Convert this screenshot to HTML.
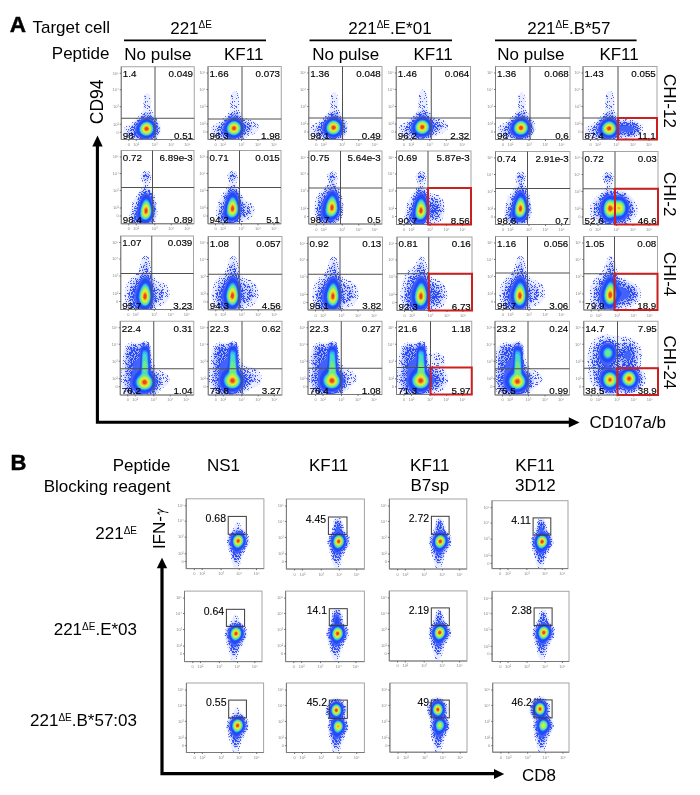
<!DOCTYPE html><html><head><meta charset="utf-8"><style>html,body{margin:0;padding:0;background:#fff;}svg{display:block;}</style></head><body>
<svg width="700" height="795" viewBox="0 0 700 795" font-family='"Liberation Sans", Arial, Helvetica, sans-serif' fill="#000">
<defs><filter id="bl" x="-5%" y="-5%" width="110%" height="110%"><feGaussianBlur stdDeviation="0.55"/></filter><filter id="bl2" x="-5%" y="-5%" width="110%" height="110%"><feGaussianBlur stdDeviation="0.72"/></filter><pattern id="p1" width="23" height="19" patternUnits="userSpaceOnUse"><rect width="23" height="19" fill="#eaedff"/><path d="M11 2h1.0v1.0h-1.0zM1 16h1.0v1.0h-1.0zM6 8h1.0v1.0h-1.0zM11 16h1.0v1.0h-1.0zM10 14h1.0v1.0h-1.0zM11 6h1.0v1.0h-1.0zM8 3h1.0v1.0h-1.0zM21 12h1.0v1.0h-1.0zM1 17h1.0v1.0h-1.0zM22 18h1.0v1.0h-1.0zM7 12h1.0v1.0h-1.0zM13 7h1.0v1.0h-1.0zM8 0h1.0v1.0h-1.0zM3 1h1.0v1.0h-1.0zM20 18h1.0v1.0h-1.0zM3 4h1.0v1.0h-1.0zM1 3h1.0v1.0h-1.0zM18 0h1.0v1.0h-1.0zM15 5h1.0v1.0h-1.0zM15 17h1.0v1.0h-1.0zM21 11h1.0v1.0h-1.0zM11 4h1.0v1.0h-1.0zM17 16h1.0v1.0h-1.0zM5 2h1.0v1.0h-1.0zM19 15h1.0v1.0h-1.0zM6 10h1.0v1.0h-1.0zM7 16h1.0v1.0h-1.0zM8 8h1.0v1.0h-1.0zM7 6h1.0v1.0h-1.0zM5 3h1.0v1.0h-1.0zM0 11h1.0v1.0h-1.0zM15 14h1.0v1.0h-1.0zM17 6h1.0v1.0h-1.0zM17 0h1.0v1.0h-1.0zM12 15h1.0v1.0h-1.0zM19 13h1.0v1.0h-1.0zM20 15h1.0v1.0h-1.0zM11 18h1.0v1.0h-1.0zM16 11h1.0v1.0h-1.0zM16 0h1.0v1.0h-1.0zM17 10h1.0v1.0h-1.0zM0 2h1.0v1.0h-1.0zM13 4h1.0v1.0h-1.0zM3 16h1.0v1.0h-1.0zM17 12h1.0v1.0h-1.0zM18 6h1.0v1.0h-1.0zM22 3h1.0v1.0h-1.0zM18 4h1.0v1.0h-1.0zM1 1h1.0v1.0h-1.0zM5 13h1.0v1.0h-1.0zM7 0h1.0v1.0h-1.0zM1 13h1.0v1.0h-1.0zM10 9h1.0v1.0h-1.0zM0 10h1.0v1.0h-1.0zM19 4h1.0v1.0h-1.0zM11 14h1.0v1.0h-1.0zM10 7h1.0v1.0h-1.0zM19 6h1.0v1.0h-1.0zM20 9h1.0v1.0h-1.0zM0 0h1.0v1.0h-1.0zM17 18h1.0v1.0h-1.0zM15 4h1.0v1.0h-1.0zM11 9h1.0v1.0h-1.0zM20 0h1.0v1.0h-1.0zM5 6h1.0v1.0h-1.0zM19 16h1.0v1.0h-1.0zM1 11h1.0v1.0h-1.0zM15 8h1.0v1.0h-1.0zM4 2h1.0v1.0h-1.0z" fill="#4660ff"/></pattern><pattern id="p2" width="19" height="17" patternUnits="userSpaceOnUse"><rect width="19" height="17" fill="#c8d0ff"/><path d="M10 2h1.0v1.0h-1.0zM10 0h1.0v1.0h-1.0zM0 2h1.0v1.0h-1.0zM11 12h1.0v1.0h-1.0zM14 5h1.0v1.0h-1.0zM12 10h1.0v1.0h-1.0zM18 15h1.0v1.0h-1.0zM10 3h1.0v1.0h-1.0zM13 6h1.0v1.0h-1.0zM8 16h1.0v1.0h-1.0zM16 12h1.0v1.0h-1.0zM8 7h1.0v1.0h-1.0zM1 16h1.0v1.0h-1.0zM4 13h1.0v1.0h-1.0zM13 2h1.0v1.0h-1.0zM4 8h1.0v1.0h-1.0zM14 13h1.0v1.0h-1.0zM4 2h1.0v1.0h-1.0zM2 5h1.0v1.0h-1.0zM3 5h1.0v1.0h-1.0zM11 0h1.0v1.0h-1.0zM13 3h1.0v1.0h-1.0zM2 14h1.0v1.0h-1.0zM1 9h1.0v1.0h-1.0zM14 10h1.0v1.0h-1.0zM5 5h1.0v1.0h-1.0zM11 7h1.0v1.0h-1.0zM7 9h1.0v1.0h-1.0zM5 7h1.0v1.0h-1.0zM4 3h1.0v1.0h-1.0zM11 9h1.0v1.0h-1.0zM1 0h1.0v1.0h-1.0zM2 7h1.0v1.0h-1.0zM16 13h1.0v1.0h-1.0zM1 14h1.0v1.0h-1.0zM0 13h1.0v1.0h-1.0zM13 1h1.0v1.0h-1.0zM5 12h1.0v1.0h-1.0zM4 9h1.0v1.0h-1.0zM3 14h1.0v1.0h-1.0zM2 16h1.0v1.0h-1.0zM16 6h1.0v1.0h-1.0zM18 5h1.0v1.0h-1.0zM17 9h1.0v1.0h-1.0zM13 13h1.0v1.0h-1.0zM4 14h1.0v1.0h-1.0zM8 10h1.0v1.0h-1.0zM17 11h1.0v1.0h-1.0zM10 10h1.0v1.0h-1.0zM8 3h1.0v1.0h-1.0zM9 11h1.0v1.0h-1.0zM3 6h1.0v1.0h-1.0zM7 13h1.0v1.0h-1.0zM3 12h1.0v1.0h-1.0zM9 8h1.0v1.0h-1.0zM7 11h1.0v1.0h-1.0zM16 11h1.0v1.0h-1.0zM5 8h1.0v1.0h-1.0zM7 2h1.0v1.0h-1.0zM15 2h1.0v1.0h-1.0zM10 13h1.0v1.0h-1.0zM11 16h1.0v1.0h-1.0zM13 16h1.0v1.0h-1.0zM12 12h1.0v1.0h-1.0zM5 16h1.0v1.0h-1.0zM6 9h1.0v1.0h-1.0zM10 12h1.0v1.0h-1.0zM3 16h1.0v1.0h-1.0zM17 3h1.0v1.0h-1.0zM16 3h1.0v1.0h-1.0zM3 4h1.0v1.0h-1.0zM11 10h1.0v1.0h-1.0zM14 9h1.0v1.0h-1.0zM12 2h1.0v1.0h-1.0zM3 0h1.0v1.0h-1.0zM11 3h1.0v1.0h-1.0zM1 7h1.0v1.0h-1.0zM17 13h1.0v1.0h-1.0zM2 11h1.0v1.0h-1.0zM16 8h1.0v1.0h-1.0zM17 14h1.0v1.0h-1.0zM13 7h1.0v1.0h-1.0zM11 6h1.0v1.0h-1.0zM3 8h1.0v1.0h-1.0zM13 5h1.0v1.0h-1.0zM3 9h1.0v1.0h-1.0zM10 15h1.0v1.0h-1.0zM9 7h1.0v1.0h-1.0zM6 16h1.0v1.0h-1.0zM18 11h1.0v1.0h-1.0zM8 1h1.0v1.0h-1.0zM1 6h1.0v1.0h-1.0zM17 0h1.0v1.0h-1.0zM3 3h1.0v1.0h-1.0zM16 14h1.0v1.0h-1.0zM2 10h1.0v1.0h-1.0zM6 1h1.0v1.0h-1.0zM1 12h1.0v1.0h-1.0zM17 15h1.0v1.0h-1.0zM11 5h1.0v1.0h-1.0zM6 8h1.0v1.0h-1.0zM15 7h1.0v1.0h-1.0zM7 1h1.0v1.0h-1.0zM6 3h1.0v1.0h-1.0zM9 13h1.0v1.0h-1.0zM12 6h1.0v1.0h-1.0zM12 0h1.0v1.0h-1.0zM3 11h1.0v1.0h-1.0zM9 5h1.0v1.0h-1.0zM16 5h1.0v1.0h-1.0zM4 5h1.0v1.0h-1.0zM1 3h1.0v1.0h-1.0zM7 15h1.0v1.0h-1.0zM18 16h1.0v1.0h-1.0zM0 12h1.0v1.0h-1.0zM8 6h1.0v1.0h-1.0zM10 9h1.0v1.0h-1.0zM13 9h1.0v1.0h-1.0zM18 2h1.0v1.0h-1.0zM9 6h1.0v1.0h-1.0zM7 16h1.0v1.0h-1.0zM8 0h1.0v1.0h-1.0zM8 9h1.0v1.0h-1.0zM1 10h1.0v1.0h-1.0zM15 1h1.0v1.0h-1.0zM15 8h1.0v1.0h-1.0zM17 6h1.0v1.0h-1.0zM14 7h1.0v1.0h-1.0zM16 10h1.0v1.0h-1.0z" fill="#3350ff"/></pattern><pattern id="p3" width="17" height="13" patternUnits="userSpaceOnUse"><rect width="17" height="13" fill="#a0adff"/><path d="M6 1h1.0v1.0h-1.0zM14 12h1.0v1.0h-1.0zM10 6h1.0v1.0h-1.0zM0 6h1.0v1.0h-1.0zM3 7h1.0v1.0h-1.0zM13 7h1.0v1.0h-1.0zM2 12h1.0v1.0h-1.0zM10 12h1.0v1.0h-1.0zM6 3h1.0v1.0h-1.0zM10 2h1.0v1.0h-1.0zM1 2h1.0v1.0h-1.0zM5 8h1.0v1.0h-1.0zM13 1h1.0v1.0h-1.0zM15 9h1.0v1.0h-1.0zM12 12h1.0v1.0h-1.0zM2 7h1.0v1.0h-1.0zM4 2h1.0v1.0h-1.0zM12 4h1.0v1.0h-1.0zM5 12h1.0v1.0h-1.0zM15 1h1.0v1.0h-1.0zM6 5h1.0v1.0h-1.0zM9 6h1.0v1.0h-1.0zM10 7h1.0v1.0h-1.0zM7 4h1.0v1.0h-1.0zM6 7h1.0v1.0h-1.0zM6 10h1.0v1.0h-1.0zM13 0h1.0v1.0h-1.0zM13 2h1.0v1.0h-1.0zM3 8h1.0v1.0h-1.0zM12 3h1.0v1.0h-1.0zM5 3h1.0v1.0h-1.0zM13 9h1.0v1.0h-1.0zM5 9h1.0v1.0h-1.0zM13 8h1.0v1.0h-1.0zM2 11h1.0v1.0h-1.0zM15 11h1.0v1.0h-1.0zM6 9h1.0v1.0h-1.0zM16 11h1.0v1.0h-1.0zM15 10h1.0v1.0h-1.0zM15 5h1.0v1.0h-1.0zM7 0h1.0v1.0h-1.0zM4 6h1.0v1.0h-1.0zM2 3h1.0v1.0h-1.0zM9 11h1.0v1.0h-1.0zM2 0h1.0v1.0h-1.0zM15 6h1.0v1.0h-1.0zM1 0h1.0v1.0h-1.0zM10 10h1.0v1.0h-1.0zM0 0h1.0v1.0h-1.0zM14 3h1.0v1.0h-1.0zM1 11h1.0v1.0h-1.0zM16 9h1.0v1.0h-1.0zM7 2h1.0v1.0h-1.0zM2 2h1.0v1.0h-1.0zM3 1h1.0v1.0h-1.0zM3 4h1.0v1.0h-1.0zM7 5h1.0v1.0h-1.0zM2 8h1.0v1.0h-1.0zM3 2h1.0v1.0h-1.0zM16 5h1.0v1.0h-1.0zM16 8h1.0v1.0h-1.0zM5 7h1.0v1.0h-1.0zM15 0h1.0v1.0h-1.0zM12 9h1.0v1.0h-1.0zM13 6h1.0v1.0h-1.0zM8 9h1.0v1.0h-1.0zM14 4h1.0v1.0h-1.0zM3 10h1.0v1.0h-1.0zM16 6h1.0v1.0h-1.0zM11 2h1.0v1.0h-1.0zM9 7h1.0v1.0h-1.0zM11 1h1.0v1.0h-1.0zM2 4h1.0v1.0h-1.0zM11 0h1.0v1.0h-1.0zM4 12h1.0v1.0h-1.0zM0 10h1.0v1.0h-1.0zM5 6h1.0v1.0h-1.0zM3 5h1.0v1.0h-1.0zM10 8h1.0v1.0h-1.0zM5 1h1.0v1.0h-1.0zM0 1h1.0v1.0h-1.0zM8 4h1.0v1.0h-1.0zM7 3h1.0v1.0h-1.0zM1 9h1.0v1.0h-1.0zM8 2h1.0v1.0h-1.0zM0 2h1.0v1.0h-1.0zM0 3h1.0v1.0h-1.0zM12 11h1.0v1.0h-1.0zM4 3h1.0v1.0h-1.0zM8 7h1.0v1.0h-1.0zM4 8h1.0v1.0h-1.0zM14 2h1.0v1.0h-1.0zM14 7h1.0v1.0h-1.0zM16 3h1.0v1.0h-1.0zM11 6h1.0v1.0h-1.0zM1 8h1.0v1.0h-1.0zM10 5h1.0v1.0h-1.0zM12 5h1.0v1.0h-1.0zM2 9h1.0v1.0h-1.0zM0 8h1.0v1.0h-1.0zM4 7h1.0v1.0h-1.0zM9 1h1.0v1.0h-1.0zM6 11h1.0v1.0h-1.0zM2 6h1.0v1.0h-1.0zM11 8h1.0v1.0h-1.0zM15 12h1.0v1.0h-1.0zM15 4h1.0v1.0h-1.0zM10 0h1.0v1.0h-1.0zM3 9h1.0v1.0h-1.0zM4 5h1.0v1.0h-1.0zM7 10h1.0v1.0h-1.0zM11 3h1.0v1.0h-1.0zM0 12h1.0v1.0h-1.0zM8 0h1.0v1.0h-1.0zM14 1h1.0v1.0h-1.0zM5 5h1.0v1.0h-1.0zM12 8h1.0v1.0h-1.0zM16 2h1.0v1.0h-1.0zM7 9h1.0v1.0h-1.0zM7 7h1.0v1.0h-1.0zM11 11h1.0v1.0h-1.0zM1 7h1.0v1.0h-1.0zM11 5h1.0v1.0h-1.0zM6 4h1.0v1.0h-1.0zM13 3h1.0v1.0h-1.0zM14 11h1.0v1.0h-1.0zM16 7h1.0v1.0h-1.0zM9 5h1.0v1.0h-1.0zM11 4h1.0v1.0h-1.0zM1 5h1.0v1.0h-1.0zM13 10h1.0v1.0h-1.0zM11 12h1.0v1.0h-1.0z" fill="#2c4cf4"/></pattern></defs>
<rect width="700" height="795" fill="#fff"/>
<text x="9.8" y="31.7" font-size="22.5" font-weight="bold" stroke="#000" stroke-width="0.45">A</text>
<text x="32.5" y="33.3" font-size="17">Target cell</text>
<text x="109.5" y="58.8" font-size="17" text-anchor="end">Peptide</text>
<text x="170.20" y="33.60" font-size="17.0" text-anchor="start">221<tspan font-size="10" dy="-5.1">ΔE</tspan><tspan dy="5.1"></tspan></text>
<text x="348.30" y="33.60" font-size="17.0" text-anchor="start">221<tspan font-size="10" dy="-5.1">ΔE</tspan><tspan dy="5.1">.E*01</tspan></text>
<text x="527.20" y="33.60" font-size="17.0" text-anchor="start">221<tspan font-size="10" dy="-5.1">ΔE</tspan><tspan dy="5.1">.B*57</tspan></text>
<line x1="124.0" y1="40.4" x2="266.0" y2="40.4" stroke="#000" stroke-width="1.8"/>
<line x1="309.5" y1="40.4" x2="452.0" y2="40.4" stroke="#000" stroke-width="1.8"/>
<line x1="495.0" y1="40.4" x2="636.6" y2="40.4" stroke="#000" stroke-width="1.8"/>
<text x="124.3" y="59.6" font-size="17">No pulse</text>
<text x="312.2" y="59.6" font-size="17">No pulse</text>
<text x="497.3" y="59.6" font-size="17">No pulse</text>
<text x="224.0" y="59.6" font-size="17">KF11</text>
<text x="413.4" y="59.6" font-size="17">KF11</text>
<text x="599.4" y="59.6" font-size="17">KF11</text>
<text transform="translate(102.6 101.8) rotate(-90)" font-size="17.5" text-anchor="middle">CD94</text>
<path d="M97.4 146 L97.4 422.2 L570 422.2" fill="none" stroke="#000" stroke-width="3.1"/>
<path d="M97.5 135.6 L92.3 146.5 L102.7 146.5Z"/>
<path d="M579.6 422.4 L568.8 417.2 L568.8 427.6Z"/>
<text x="589.5" y="428.4" font-size="17">CD107a/b</text>
<text transform="translate(663.8 101.0) rotate(90)" font-size="17" text-anchor="middle">CHI-12</text>
<text transform="translate(663.8 194.2) rotate(90)" font-size="17" text-anchor="middle">CHI-2</text>
<text transform="translate(663.8 274.1) rotate(90)" font-size="17" text-anchor="middle">CHI-4</text>
<text transform="translate(663.8 362.4) rotate(90)" font-size="17" text-anchor="middle">CHI-24</text>
<text x="10.4" y="470.4" font-size="22" font-weight="bold" stroke="#000" stroke-width="0.45">B</text>
<text x="170.4" y="470.6" font-size="17" text-anchor="end">Peptide</text>
<text x="170.4" y="491.6" font-size="17" text-anchor="end">Blocking reagent</text>
<text x="223.5" y="470.6" font-size="17" text-anchor="middle">NS1</text>
<text x="328.6" y="470.6" font-size="17" text-anchor="middle">KF11</text>
<text x="429.8" y="470.6" font-size="17" text-anchor="middle">KF11</text>
<text x="535.0" y="470.6" font-size="17" text-anchor="middle">KF11</text>
<text x="429.8" y="491.4" font-size="17" text-anchor="middle">B7sp</text>
<text x="535.3" y="491.4" font-size="17" text-anchor="middle">3D12</text>
<text x="137.00" y="539.00" font-size="17.0" text-anchor="end">221<tspan font-size="10" dy="-5.1">ΔE</tspan></text>
<text x="137" y="635" font-size="17" text-anchor="end">221<tspan font-size="10" dy="-5.1">ΔE</tspan><tspan dy="5.1">.E*03</tspan></text>
<text x="137" y="725.8" font-size="17" text-anchor="end">221<tspan font-size="10" dy="-5.1">ΔE</tspan><tspan dy="5.1">.B*57:03</tspan></text>
<text transform="translate(164.5 549.1) rotate(-90)" font-size="17">IFN-</text>
<text transform="translate(167 511.8) rotate(-90) scale(0.66 1.12)" font-size="16" font-family="IPAGothic, Liberation Serif, serif" text-anchor="middle">γ</text>
<path d="M162 567 L162 773.7 L495 773.7" fill="none" stroke="#000" stroke-width="3.2"/>
<path d="M162 557.8 L156.8 568.2 L167.2 568.2Z"/>
<path d="M504.2 774 L494 768.9 L494 779.1Z"/>
<text x="522" y="780.7" font-size="17">CD8</text>
<g transform="translate(121.25 66.75)">
<clipPath id="c1"><rect x="0" y="0" width="73.00" height="72.75"/></clipPath>
<g clip-path="url(#c1)">
<g transform="translate(-0.25 -0.75)">
<g filter="url(#bl2)">
<path d="M26.8 77.6L24.1 77.6L21.1 77.1L7.1 72.5L4.9 71.2L3.2 69.6L2.2 67.9L1.8 65.9L2.2 63.6L3.8 61.2L5.4 59.9L9.8 57.4L11.8 55.9L18.8 49L21.2 45.6L22.3 43.6L22.8 41.9L22.3 35.6L22.9 31.2L24.3 28.2L25.1 27.4L26.1 27L27.1 27.2L28.1 28L29 29.6L29.7 31.6L30.2 35.2L29.7 41.2L30 43.2L33 48.6L36.7 53.2L38.2 55.6L39.5 58.9L40 62.6L39.7 65.6L39 68.2L37.6 70.9L36.1 72.9L34.1 74.8L32.1 76.1L29.4 77.1L26.8 77.6Z" fill="url(#p1)" fill-rule="evenodd"/>
<path d="M27.1 75.9L24.8 76L22.1 75.6L16.4 73.5L9.4 69.2L7.8 67.6L7.3 65.9L7.5 64.6L8.4 62.9L16 53.9L23.4 47L24.8 46.2L26.1 45.9L27.4 46.1L29.1 47.1L35.5 54.2L37.5 57.9L38.4 62.2L38.2 64.9L37.7 67.2L35.4 71.3L33.8 73L31.8 74.4L29.4 75.4L27.1 75.9Z" fill="url(#p2)" fill-rule="evenodd"/>
<path d="M25.8 74.6L23.4 74.4L21.1 73.9L16.4 71.5L13 68.2L12.2 66.6L11.9 64.9L12.2 62.9L13.2 60.6L16.5 55.6L18.8 53.3L23.1 50L24.8 49L26.1 48.7L27.4 48.9L29.1 49.9L34.5 55.2L36.3 58.6L37 62.9L36.8 64.9L36.2 67.2L35.1 69.2L33.8 71L32.1 72.5L30.1 73.6L27.8 74.4L25.8 74.6Z" fill="url(#p3)" fill-rule="evenodd"/>
</g><g filter="url(#bl)">
<path d="M26.4 73.3L24.4 73.3L22.1 72.8L18.1 70.9L15.2 67.9L14.3 65.9L14.1 64.2L14.4 62.2L15.2 59.9L17.9 55.9L19.8 54.1L22.4 52.3L24.4 51.4L26.1 51.1L27.4 51.3L29.1 52.1L33.1 55.6L35.1 58.9L35.8 62.6L35.2 66.2L34.3 68.2L33.1 69.9L30.1 72.2L26.4 73.3Z" fill="#4262fa" fill-rule="evenodd"/>
<path d="M27.4 72L25.4 72.2L23.4 72L19.8 70.5L16.9 67.9L16 66.2L15.6 64.6L15.7 62.6L16.3 60.6L18.4 57L21.8 54.2L23.8 53.2L25.4 52.8L26.8 52.9L28.4 53.4L31.4 55.4L33.6 58.2L34.6 61.6L34.4 65.2L33 68.2L30.4 70.7L27.4 72Z" fill="#2848f6" fill-rule="evenodd"/>
<path d="M26.8 70L23.8 69.9L21.1 68.8L19.1 66.9L18.1 64.2L18.4 61.2L19.8 58.6L22.1 56.5L25.1 55.4L27.8 55.7L30.1 57.1L31.8 59.2L32.6 61.9L32.5 64.6L31.2 67.2L29.1 69.1L26.8 70Z" fill="#2a78ff" fill-rule="evenodd"/>
<path d="M27.1 69.3L24.4 69.5L21.8 68.5L19.6 66.6L18.7 64.2L18.9 61.6L20.2 58.9L22.4 56.9L24.8 56L27.1 56.1L29.4 57.3L31.2 59.2L32 61.6L32 64.2L31 66.6L29.4 68.2L27.1 69.3Z" fill="#30b6f2" fill-rule="evenodd"/>
<path d="M26.4 68.9L24.1 68.9L21.8 67.9L20.1 66.2L19.2 63.9L19.5 61.2L20.8 59.1L22.8 57.3L25.1 56.6L27.4 56.8L29.4 57.9L30.8 59.6L31.6 61.9L31.4 64.2L30.3 66.6L28.8 68L26.4 68.9Z" fill="#4adcc0" fill-rule="evenodd"/>
<path d="M27.1 68.3L24.8 68.5L22.4 67.7L20.8 66.2L19.8 64.2L19.9 61.9L20.8 59.9L22.4 58.2L24.4 57.2L26.4 57.1L28.4 57.8L29.9 59.2L30.9 61.2L31.1 63.6L30.4 65.6L29 67.2L27.1 68.3Z" fill="#72e882" fill-rule="evenodd"/>
<path d="M25.8 67.6L23.8 67.3L22.1 66.3L21.1 64.9L20.7 63.2L21.1 61.2L22.1 59.6L23.8 58.4L25.8 58L27.4 58.3L29.1 59.6L30 61.2L30.2 62.9L29.9 64.6L28.8 66.2L27.4 67.2L25.8 67.6Z" fill="#b6f04a" fill-rule="evenodd"/>
<path d="M25.8 66.6L24.4 66.5L23.1 65.8L22.1 64.6L21.7 63.2L22 61.6L22.8 60.3L24.1 59.3L25.4 59L26.8 59.2L28.1 60L29 61.2L29.3 62.6L29.1 63.9L28.4 65.2L27.1 66.2L25.8 66.6Z" fill="#eee631" fill-rule="evenodd"/>
<path d="M25.8 65.6L23.8 65L23.1 64.2L22.8 63.2L22.8 62.2L23.4 61.1L24.4 60.3L25.4 60L26.4 60.1L27.4 60.7L28.3 62.6L27.7 64.6L26.8 65.3L25.8 65.6Z" fill="#f4a228" fill-rule="evenodd"/>
<path d="M26.1 64.6L24.8 64.5L23.8 63.4L23.9 61.9L25.1 61L26.4 61.2L27.3 62.2L27.2 63.6L26.1 64.6Z" fill="#e6461a" fill-rule="evenodd"/>
</g></g>
</g>
<rect x="0" y="0" width="73.00" height="72.75" fill="none" stroke="#a4a4a4" stroke-width="1"/>
<path d="M0 0V72.75H73.00" fill="none" stroke="#7a7a7a" stroke-width="1"/>
<line x1="-1.5" y1="6.5" x2="0" y2="6.5" stroke="#555" stroke-width="0.8"/>
<text x="-2.5" y="7.8" font-size="4" fill="#8a8a8a" text-anchor="end">10⁵</text>
<line x1="-1.5" y1="23.0" x2="0" y2="23.0" stroke="#555" stroke-width="0.8"/>
<text x="-2.5" y="24.3" font-size="4" fill="#8a8a8a" text-anchor="end">10⁴</text>
<line x1="-1.5" y1="40.0" x2="0" y2="40.0" stroke="#555" stroke-width="0.8"/>
<text x="-2.5" y="41.3" font-size="4" fill="#8a8a8a" text-anchor="end">10³</text>
<line x1="-1.5" y1="57.5" x2="0" y2="57.5" stroke="#555" stroke-width="0.8"/>
<text x="-2.5" y="58.8" font-size="4" fill="#8a8a8a" text-anchor="end">10²</text>
<line x1="-1.5" y1="65.5" x2="0" y2="65.5" stroke="#555" stroke-width="0.8"/>
<text x="-2.5" y="66.8" font-size="4" fill="#8a8a8a" text-anchor="end">0</text>
<line x1="7.5" y1="72.8" x2="7.5" y2="74.2" stroke="#555" stroke-width="0.8"/>
<text x="7.5" y="79.2" font-size="4" fill="#8a8a8a" text-anchor="middle">0</text>
<line x1="15.0" y1="72.8" x2="15.0" y2="74.2" stroke="#555" stroke-width="0.8"/>
<text x="15.0" y="79.2" font-size="4" fill="#8a8a8a" text-anchor="middle">10²</text>
<line x1="33.5" y1="72.8" x2="33.5" y2="74.2" stroke="#555" stroke-width="0.8"/>
<text x="33.5" y="79.2" font-size="4" fill="#8a8a8a" text-anchor="middle">10³</text>
<line x1="50.0" y1="72.8" x2="50.0" y2="74.2" stroke="#555" stroke-width="0.8"/>
<text x="50.0" y="79.2" font-size="4" fill="#8a8a8a" text-anchor="middle">10⁴</text>
<line x1="66.0" y1="72.8" x2="66.0" y2="74.2" stroke="#555" stroke-width="0.8"/>
<text x="66.0" y="79.2" font-size="4" fill="#8a8a8a" text-anchor="middle">10⁵</text>
<line x1="33.75" y1="0" x2="33.75" y2="72.75" stroke="#505050" stroke-width="1"/>
<line x1="0" y1="51.50" x2="73.00" y2="51.50" stroke="#505050" stroke-width="1"/>
<g stroke="#000" stroke-width="0.15">
<text x="1.6" y="10.3" font-size="9.8">1.4</text>
<text x="71.80" y="10.3" font-size="9.8" text-anchor="end">0.049</text>
<text x="1.6" y="71.75" font-size="9.8">98</text>
<text x="71.80" y="71.75" font-size="9.8" text-anchor="end">0.51</text>
</g>
</g>
<g transform="translate(208.00 66.50)">
<clipPath id="c2"><rect x="0" y="0" width="73.25" height="73.00"/></clipPath>
<g clip-path="url(#c2)">
<g transform="translate(0.00 -0.50)">
<g filter="url(#bl2)">
<path d="M27.5 77L24.5 77.1L21.5 76.5L7.5 71.9L5.3 70.7L3.6 69L2.7 67.3L2.2 65.3L2.7 63L4.3 60.7L6.2 59.1L11.8 55.7L18.8 48.7L20.9 46L22 43.7L22.4 42L21.9 35L22.6 30L24.2 26.3L25.2 25.2L26.5 24.6L27.8 24.9L28.8 25.7L29.8 27.2L30.7 29.3L31.5 34.7L31 42.3L31.8 44.7L33.5 47.8L35.7 50.3L38.8 52.7L40.8 53.6L45.8 55L48.5 56.5L50.4 58.7L51.2 61.3L51 63L50.4 64.3L49.4 65.7L47.8 67L45.8 68L40.2 70L34.8 74.2L32.5 75.6L30.2 76.5L27.5 77Z" fill="url(#p1)" fill-rule="evenodd"/>
<path d="M27.8 75.3L25.5 75.5L22.8 75.2L17.5 73.2L9.8 68.7L8.3 67L7.8 65.3L7.9 64L8.6 62.7L16.2 53.7L23.8 46.3L25.2 45.4L26.5 45L27.8 45.2L29.5 46.3L33.1 50.3L38.8 55.8L43.8 59.7L44.6 61.3L44.4 62.3L43.8 63.3L40.2 66.4L34.8 72.1L31.5 74.2L27.8 75.3Z" fill="url(#p2)" fill-rule="evenodd"/>
<path d="M26.8 74L24.5 74L22.2 73.5L19.5 72.5L17.2 71.1L14.9 69.3L13.5 67.7L12.6 66L12.4 64.3L12.7 62.3L13.6 60L16.9 55L19.2 52.8L23.5 49.4L25.2 48.4L26.5 48.1L27.8 48.3L29.2 49L35.3 54.7L38 58.7L38.8 61.7L38.5 63.7L37.6 66L36.2 68.3L34.5 70.3L31.2 72.8L29.2 73.6L26.8 74Z" fill="url(#p3)" fill-rule="evenodd"/>
</g><g filter="url(#bl)">
<path d="M27.2 72.7L23.2 72.4L20.8 71.6L18.8 70.5L17 69L15.6 67.3L14.9 65.7L14.6 64L14.7 62L15.4 60L16.6 57.7L18.2 55.5L20.2 53.6L22.8 51.8L24.8 50.8L26.5 50.5L27.8 50.7L29.5 51.5L33.8 55L36 58.3L36.8 61.7L36.2 65.3L34 69L30.8 71.5L27.2 72.7Z" fill="#4262fa" fill-rule="evenodd"/>
<path d="M28.2 71.4L26.2 71.6L24.2 71.5L22.2 70.9L20.2 69.9L17.3 67.3L16.5 65.7L16.1 64L16.1 62.3L16.6 60.3L18.8 56.5L22.2 53.6L24.2 52.7L25.8 52.3L27.2 52.3L28.8 52.8L32.1 55L34.3 57.7L35.4 61L35.2 64.3L33.6 67.7L31.2 70L28.2 71.4Z" fill="#2848f6" fill-rule="evenodd"/>
<path d="M27.5 69.4L24.5 69.4L21.5 68.2L19.5 66.3L18.5 63.7L18.8 60.7L20.2 58L22.5 55.9L25.5 54.8L28.2 55.1L30.5 56.4L32.4 58.7L33.2 61.3L33 64L32 66.3L29.9 68.3L27.5 69.4Z" fill="#2a78ff" fill-rule="evenodd"/>
<path d="M27.8 68.7L25.2 68.9L22.5 68.1L20.3 66.3L19.2 64L19.3 61.3L20.4 58.7L22.5 56.6L24.8 55.6L27.2 55.5L29.5 56.4L31.5 58.3L32.5 60.7L32.6 63.3L31.7 65.7L30.2 67.5L27.8 68.7Z" fill="#30b6f2" fill-rule="evenodd"/>
<path d="M26.8 68.4L24.2 68.2L21.8 67.1L20.3 65.3L19.7 63L20 60.7L21.4 58.3L23.5 56.6L25.8 56L28.2 56.3L30.2 57.6L31.5 59.4L32.1 61.7L31.9 64L30.8 66L29.2 67.5L26.8 68.4Z" fill="#4adcc0" fill-rule="evenodd"/>
<path d="M27.5 67.7L25.2 67.9L22.8 67.1L21.2 65.7L20.3 63.7L20.4 61.3L21.2 59.3L22.8 57.6L25.2 56.6L27.2 56.6L29.2 57.5L30.7 59L31.5 61L31.6 63L30.8 65.1L29.5 66.7L27.5 67.7Z" fill="#72e882" fill-rule="evenodd"/>
<path d="M26.5 67L24.5 66.9L22.8 66L21.7 64.7L21.2 63L21.4 61L22.3 59.3L23.8 58.1L25.8 57.4L27.6 57.7L29.2 58.7L30.4 60.3L30.8 62L30.5 63.7L29.6 65.3L28.2 66.5L26.5 67Z" fill="#b6f04a" fill-rule="evenodd"/>
<path d="M26.5 66L24.8 65.9L23.5 65.2L22.5 64L22.2 62.7L22.3 61.3L23.2 59.8L24.5 58.8L25.8 58.4L27.2 58.6L28.5 59.3L29.5 60.7L29.8 62L29.6 63.3L28.9 64.7L27.8 65.6L26.5 66Z" fill="#eee631" fill-rule="evenodd"/>
<path d="M26.5 65L24.5 64.7L23.5 63.7L23.2 62.7L23.3 61.7L23.8 60.6L24.8 59.8L25.8 59.5L26.8 59.6L27.8 60.1L28.5 61L28.8 62L28.2 64L26.5 65Z" fill="#f4a228" fill-rule="evenodd"/>
<path d="M26.5 64.1L25.2 64L24.2 62.7L24.4 61.3L25.5 60.5L26.8 60.6L27.8 61.7L27.7 63L26.5 64.1Z" fill="#e6461a" fill-rule="evenodd"/>
</g></g>
</g>
<rect x="0" y="0" width="73.25" height="73.00" fill="none" stroke="#a4a4a4" stroke-width="1"/>
<path d="M0 0V73.00H73.25" fill="none" stroke="#7a7a7a" stroke-width="1"/>
<line x1="-1.5" y1="6.5" x2="0" y2="6.5" stroke="#555" stroke-width="0.8"/>
<text x="-2.5" y="7.8" font-size="4" fill="#8a8a8a" text-anchor="end">10⁵</text>
<line x1="-1.5" y1="23.0" x2="0" y2="23.0" stroke="#555" stroke-width="0.8"/>
<text x="-2.5" y="24.3" font-size="4" fill="#8a8a8a" text-anchor="end">10⁴</text>
<line x1="-1.5" y1="40.0" x2="0" y2="40.0" stroke="#555" stroke-width="0.8"/>
<text x="-2.5" y="41.3" font-size="4" fill="#8a8a8a" text-anchor="end">10³</text>
<line x1="-1.5" y1="57.5" x2="0" y2="57.5" stroke="#555" stroke-width="0.8"/>
<text x="-2.5" y="58.8" font-size="4" fill="#8a8a8a" text-anchor="end">10²</text>
<line x1="-1.5" y1="65.5" x2="0" y2="65.5" stroke="#555" stroke-width="0.8"/>
<text x="-2.5" y="66.8" font-size="4" fill="#8a8a8a" text-anchor="end">0</text>
<line x1="7.5" y1="73.0" x2="7.5" y2="74.5" stroke="#555" stroke-width="0.8"/>
<text x="7.5" y="79.5" font-size="4" fill="#8a8a8a" text-anchor="middle">0</text>
<line x1="15.0" y1="73.0" x2="15.0" y2="74.5" stroke="#555" stroke-width="0.8"/>
<text x="15.0" y="79.5" font-size="4" fill="#8a8a8a" text-anchor="middle">10²</text>
<line x1="33.5" y1="73.0" x2="33.5" y2="74.5" stroke="#555" stroke-width="0.8"/>
<text x="33.5" y="79.5" font-size="4" fill="#8a8a8a" text-anchor="middle">10³</text>
<line x1="50.0" y1="73.0" x2="50.0" y2="74.5" stroke="#555" stroke-width="0.8"/>
<text x="50.0" y="79.5" font-size="4" fill="#8a8a8a" text-anchor="middle">10⁴</text>
<line x1="66.0" y1="73.0" x2="66.0" y2="74.5" stroke="#555" stroke-width="0.8"/>
<text x="66.0" y="79.5" font-size="4" fill="#8a8a8a" text-anchor="middle">10⁵</text>
<line x1="34.00" y1="0" x2="34.00" y2="73.00" stroke="#505050" stroke-width="1"/>
<line x1="0" y1="52.50" x2="73.25" y2="52.50" stroke="#505050" stroke-width="1"/>
<g stroke="#000" stroke-width="0.15">
<text x="1.6" y="10.3" font-size="9.8">1.66</text>
<text x="72.05" y="10.3" font-size="9.8" text-anchor="end">0.073</text>
<text x="1.6" y="72.00" font-size="9.8">96.3</text>
<text x="72.05" y="72.00" font-size="9.8" text-anchor="end">1.98</text>
</g>
</g>
<g transform="translate(308.75 66.50)">
<clipPath id="c3"><rect x="0" y="0" width="73.25" height="73.00"/></clipPath>
<g clip-path="url(#c3)">
<g transform="translate(-0.75 -0.50)">
<g filter="url(#bl2)">
<path d="M26.9 76.3L24.2 76.4L20.9 75.8L6.9 71.2L4.9 70L3.2 68.3L2.2 66.7L1.8 64.7L2.2 62.3L3.8 60L5.6 58.5L9.6 56.3L11.6 54.8L18.6 47.9L21.2 44.3L22.3 42.3L22.8 40.7L22.3 34.3L22.9 30L24.2 27L25.2 26.1L26.2 25.8L27.2 26.1L28.2 27L29.2 28.7L29.8 30.7L30.2 34L29.7 40L30 42L32.9 47.2L36.7 52L38.4 54.7L39.5 57.7L40 61.3L39.8 64L39.1 66.7L37.8 69.3L36.2 71.5L34.2 73.4L31.9 74.9L29.6 75.8L26.9 76.3Z" fill="url(#p1)" fill-rule="evenodd"/>
<path d="M26.9 74.7L24.6 74.8L21.9 74.4L16.2 72.1L9.4 68L7.8 66.3L7.3 64.7L7.5 63.3L8.4 61.7L16 52.7L23.2 45.9L24.9 44.9L26.2 44.6L27.6 44.9L29.2 46L35.7 53.3L37.8 57.3L38.4 61.3L38.2 64L37.7 66L36.8 68L35.2 70.3L33.6 71.9L31.6 73.2L29.2 74.2L26.9 74.7Z" fill="url(#p2)" fill-rule="evenodd"/>
<path d="M25.6 73.3L23.2 73.2L20.9 72.6L18.6 71.5L16.1 70L14.2 68.3L12.8 66.7L12.1 65L11.9 63.3L12.3 61.3L13.3 59L16.7 54L18.9 51.9L23.2 48.6L24.9 47.7L26.2 47.4L27.6 47.8L29.2 48.8L34.5 54L36.4 57.7L37 61.7L36.8 64L36 66.3L34.9 68.3L33.6 70L31.9 71.4L29.9 72.4L27.6 73.1L25.6 73.3Z" fill="url(#p3)" fill-rule="evenodd"/>
</g><g filter="url(#bl)">
<path d="M26.2 72L23.9 72L21.9 71.5L17.9 69.5L16.2 68L15 66.3L14.3 64.7L14.1 63L14.4 61L15 59L16.3 56.7L17.9 54.7L19.9 52.8L22.2 51.2L24.2 50.2L25.9 49.8L27.2 50L28.9 50.8L31.2 52.5L33.1 54.3L35.1 57.7L35.8 61.3L35.1 65.3L33.1 68.7L29.9 71L26.2 72Z" fill="#4262fa" fill-rule="evenodd"/>
<path d="M27.6 70.7L25.6 70.9L23.6 70.8L19.9 69.3L18.2 68.2L16.9 66.7L16 65L15.6 63.3L15.7 61.7L16.1 59.7L18.2 55.9L21.6 53L25.2 51.6L26.6 51.6L28.2 52.1L31.6 54.3L33.6 57L34.6 60.3L34.4 63.7L33 67L30.6 69.4L27.6 70.7Z" fill="#2848f6" fill-rule="evenodd"/>
<path d="M26.9 68.7L23.9 68.7L21.2 67.7L19.1 65.7L18.1 63L18.4 60L19.8 57.3L22.2 55.1L24.9 54.1L27.6 54.4L29.9 55.7L31.6 57.7L32.6 60.3L32.5 63L31.4 65.7L29.6 67.5L26.9 68.7Z" fill="#2a78ff" fill-rule="evenodd"/>
<path d="M27.2 68L24.6 68.2L21.9 67.4L19.9 65.7L18.8 63.3L18.8 60.7L20 58L21.9 56L24.6 54.8L26.9 54.8L29.2 55.9L31 57.7L32 60L32 62.7L31.2 65L29.6 66.8L27.2 68Z" fill="#30b6f2" fill-rule="evenodd"/>
<path d="M26.2 67.7L23.6 67.5L21.3 66.3L19.9 64.7L19.2 62.3L19.5 60L20.9 57.7L22.9 56L25.2 55.3L27.6 55.6L29.6 56.8L30.9 58.7L31.6 61L31.3 63.3L30.2 65.4L28.6 66.9L26.2 67.7Z" fill="#4adcc0" fill-rule="evenodd"/>
<path d="M26.9 67.1L24.6 67.2L22.6 66.5L20.8 65L19.8 63L19.9 60.7L20.8 58.7L22.6 56.8L24.6 55.9L26.6 55.9L28.6 56.7L30.2 58.3L31 60.3L31 62.7L30.2 64.6L28.9 66.1L26.9 67.1Z" fill="#72e882" fill-rule="evenodd"/>
<path d="M25.9 66.3L23.9 66.1L22.2 65.2L21.1 63.7L20.7 62L21.1 60L22.1 58.3L23.6 57.2L25.6 56.7L27.2 57L28.8 58L29.9 59.7L30.2 61.3L30 63L29.1 64.7L27.6 65.9L25.9 66.3Z" fill="#b6f04a" fill-rule="evenodd"/>
<path d="M25.9 65.3L24.2 65.2L22.9 64.4L22.1 63.3L21.7 62L21.9 60.7L22.6 59.3L23.9 58.2L25.2 57.8L26.6 57.9L28 58.7L28.9 59.9L29.3 61.3L29.1 62.7L28.4 64L27.2 64.9L25.9 65.3Z" fill="#eee631" fill-rule="evenodd"/>
<path d="M25.6 64.4L24.6 64.2L23.6 63.6L22.9 62.7L22.7 61.7L22.9 60.7L23.6 59.6L24.6 59L25.6 58.8L26.6 59L27.6 59.6L28.2 60.7L28.3 61.7L28.1 62.7L27.3 63.7L25.6 64.4Z" fill="#f4a228" fill-rule="evenodd"/>
<path d="M25.9 63.4L24.6 63.2L23.7 62L23.9 60.7L25.2 59.7L26.6 60L27.4 61.3L27 62.7L25.9 63.4Z" fill="#e6461a" fill-rule="evenodd"/>
</g></g>
</g>
<rect x="0" y="0" width="73.25" height="73.00" fill="none" stroke="#a4a4a4" stroke-width="1"/>
<path d="M0 0V73.00H73.25" fill="none" stroke="#7a7a7a" stroke-width="1"/>
<line x1="-1.5" y1="6.5" x2="0" y2="6.5" stroke="#555" stroke-width="0.8"/>
<text x="-2.5" y="7.8" font-size="4" fill="#8a8a8a" text-anchor="end">10⁵</text>
<line x1="-1.5" y1="23.0" x2="0" y2="23.0" stroke="#555" stroke-width="0.8"/>
<text x="-2.5" y="24.3" font-size="4" fill="#8a8a8a" text-anchor="end">10⁴</text>
<line x1="-1.5" y1="40.0" x2="0" y2="40.0" stroke="#555" stroke-width="0.8"/>
<text x="-2.5" y="41.3" font-size="4" fill="#8a8a8a" text-anchor="end">10³</text>
<line x1="-1.5" y1="57.5" x2="0" y2="57.5" stroke="#555" stroke-width="0.8"/>
<text x="-2.5" y="58.8" font-size="4" fill="#8a8a8a" text-anchor="end">10²</text>
<line x1="-1.5" y1="65.5" x2="0" y2="65.5" stroke="#555" stroke-width="0.8"/>
<text x="-2.5" y="66.8" font-size="4" fill="#8a8a8a" text-anchor="end">0</text>
<line x1="7.5" y1="73.0" x2="7.5" y2="74.5" stroke="#555" stroke-width="0.8"/>
<text x="7.5" y="79.5" font-size="4" fill="#8a8a8a" text-anchor="middle">0</text>
<line x1="15.0" y1="73.0" x2="15.0" y2="74.5" stroke="#555" stroke-width="0.8"/>
<text x="15.0" y="79.5" font-size="4" fill="#8a8a8a" text-anchor="middle">10²</text>
<line x1="33.5" y1="73.0" x2="33.5" y2="74.5" stroke="#555" stroke-width="0.8"/>
<text x="33.5" y="79.5" font-size="4" fill="#8a8a8a" text-anchor="middle">10³</text>
<line x1="50.0" y1="73.0" x2="50.0" y2="74.5" stroke="#555" stroke-width="0.8"/>
<text x="50.0" y="79.5" font-size="4" fill="#8a8a8a" text-anchor="middle">10⁴</text>
<line x1="66.0" y1="73.0" x2="66.0" y2="74.5" stroke="#555" stroke-width="0.8"/>
<text x="66.0" y="79.5" font-size="4" fill="#8a8a8a" text-anchor="middle">10⁵</text>
<line x1="33.75" y1="0" x2="33.75" y2="73.00" stroke="#505050" stroke-width="1"/>
<line x1="0" y1="51.50" x2="73.25" y2="51.50" stroke="#505050" stroke-width="1"/>
<g stroke="#000" stroke-width="0.15">
<text x="1.6" y="10.3" font-size="9.8">1.36</text>
<text x="72.05" y="10.3" font-size="9.8" text-anchor="end">0.048</text>
<text x="1.6" y="72.00" font-size="9.8">98.1</text>
<text x="72.05" y="72.00" font-size="9.8" text-anchor="end">0.49</text>
</g>
</g>
<g transform="translate(396.25 66.50)">
<clipPath id="c4"><rect x="0" y="0" width="74.25" height="73.00"/></clipPath>
<g clip-path="url(#c4)">
<g transform="translate(-0.25 -0.50)">
<g filter="url(#bl2)">
<path d="M28.8 75.7L25.4 75.9L22.1 75.4L8.1 70.9L5.8 69.6L4 68L3 66.3L2.5 64.3L2.9 62L4.4 59.6L6.1 58.2L10.4 55.7L12.4 54.2L19 47.7L21.2 44.7L22.7 41L22.2 33.7L22.8 28.7L24.4 25.1L25.4 24L26.8 23.4L28.1 23.7L29.1 24.6L30.1 26.1L30.9 28L31.7 33.3L31.3 41.3L32.1 43.7L33.8 46.7L36.1 49.2L39.1 51.4L46.1 53.5L49.1 55L51.3 57.3L51.9 58.7L52.2 60.3L52 62L51.3 63.7L50.1 65.1L48.5 66.3L46.1 67.5L40.4 69.3L33.8 73.8L31.1 75.1L28.8 75.7Z" fill="url(#p1)" fill-rule="evenodd"/>
<path d="M28.8 74L26.4 74.3L23.8 74.1L21.1 73.4L18.1 72.2L12.9 69.3L9.9 67.3L8.5 65.7L8 64L8.2 62.7L9 61.3L16.6 52.3L24.1 45.1L25.4 44.2L26.8 43.8L28.1 44.1L29.4 44.8L33.6 49.3L38.8 54.1L40.8 55.6L45.1 58L46 59L46.4 60.3L46.2 61.7L45.2 63L40.4 65.9L34.8 71.2L32.1 72.9L28.8 74Z" fill="url(#p2)" fill-rule="evenodd"/>
<path d="M28.1 72.7L25.8 72.8L23.4 72.6L21.1 71.9L18.4 70.6L16.1 68.9L14.1 67L13 65L12.6 63.3L12.9 61.3L13.8 59L15.5 56L17.3 53.7L19.4 51.6L23.8 48.2L25.4 47.2L26.8 46.9L28.1 47.1L29.4 47.8L35.5 53.3L38.2 57L39.4 60.3L39.2 62L38.5 64L35.4 68.5L32.1 71.3L28.1 72.7Z" fill="url(#p3)" fill-rule="evenodd"/>
</g><g filter="url(#bl)">
<path d="M28.1 71.4L26.1 71.6L23.8 71.3L21.4 70.6L19.4 69.5L16.2 66.7L15.3 65L14.8 63L15 61L15.5 59L18.1 54.7L22.1 51.2L24.4 49.9L26.4 49.3L27.8 49.4L29.4 50.1L33.8 53.5L36.3 57L37.2 60.3L36.6 64L34.7 67.3L31.8 70L28.1 71.4Z" fill="#4262fa" fill-rule="evenodd"/>
<path d="M27.4 70.3L25.4 70.4L23.4 70.1L19.8 68.3L17.3 65.7L16.6 64L16.3 62.3L17 58.7L19.3 55L22.8 52.2L24.8 51.3L26.4 51L27.8 51.1L29.4 51.7L32.9 54.3L35 57.3L35.8 60.7L35.2 64L33.4 67L30.8 69.2L27.4 70.3Z" fill="#2848f6" fill-rule="evenodd"/>
<path d="M26.4 68.3L23.4 67.9L20.9 66.3L19.3 64.3L18.7 61.7L19.4 58.7L21.1 56.1L23.8 54.2L26.4 53.6L29.1 54.2L31.4 55.8L33 58.3L33.5 61L33 63.7L31.4 66.1L29.1 67.7L26.4 68.3Z" fill="#2a78ff" fill-rule="evenodd"/>
<path d="M27.1 67.7L24.4 67.6L21.8 66.3L20 64.3L19.4 62L19.7 59.3L21.3 56.7L23.4 55L26.1 54.2L28.4 54.5L30.8 56L32.3 58L32.9 60.3L32.7 63L31.4 65.3L29.4 66.9L27.1 67.7Z" fill="#30b6f2" fill-rule="evenodd"/>
<path d="M27.8 67L25.1 67.2L22.8 66.3L20.9 64.7L20 62.7L20.1 60L21.2 57.7L23.1 55.8L25.4 54.9L27.8 54.9L29.8 55.9L31.4 57.6L32.3 59.7L32.3 62L31.4 64.3L29.8 66.1L27.8 67Z" fill="#4adcc0" fill-rule="evenodd"/>
<path d="M27.1 66.7L24.8 66.6L22.7 65.7L21.1 64L20.5 62L20.7 59.7L21.8 57.7L23.8 56L25.8 55.3L27.8 55.5L29.8 56.5L31.3 58.3L31.9 60.3L31.7 62.7L30.8 64.5L29.1 66L27.1 66.7Z" fill="#72e882" fill-rule="evenodd"/>
<path d="M27.4 65.7L25.4 65.8L23.8 65.2L22.3 64L21.5 62.3L21.5 60.3L22.2 58.7L23.8 57.1L25.4 56.3L27.1 56.3L28.9 57L30.2 58.3L30.9 60L30.9 62L30.2 63.7L29.1 64.9L27.4 65.7Z" fill="#b6f04a" fill-rule="evenodd"/>
<path d="M27.4 64.7L25.8 64.8L24.4 64.5L23.4 63.7L22.6 62.3L22.5 60.7L22.9 59.3L24.1 58L25.4 57.4L26.8 57.3L28.1 57.7L29.2 58.7L29.9 60L30 61.3L29.7 62.7L28.8 63.9L27.4 64.7Z" fill="#eee631" fill-rule="evenodd"/>
<path d="M27.1 63.7L25.8 63.8L24.8 63.5L23.9 62.7L23.5 61.7L23.9 59.7L24.8 58.8L25.8 58.3L27.8 58.7L29 60.3L28.7 62.3L28.1 63.1L27.1 63.7Z" fill="#f4a228" fill-rule="evenodd"/>
<path d="M27.1 62.7L25.8 62.9L24.6 62L24.6 60.3L25.6 59.3L27.1 59.4L28 60.3L28 61.7L27.1 62.7Z" fill="#e6461a" fill-rule="evenodd"/>
</g></g>
</g>
<rect x="0" y="0" width="74.25" height="73.00" fill="none" stroke="#a4a4a4" stroke-width="1"/>
<path d="M0 0V73.00H74.25" fill="none" stroke="#7a7a7a" stroke-width="1"/>
<line x1="-1.5" y1="6.5" x2="0" y2="6.5" stroke="#555" stroke-width="0.8"/>
<text x="-2.5" y="7.8" font-size="4" fill="#8a8a8a" text-anchor="end">10⁵</text>
<line x1="-1.5" y1="23.0" x2="0" y2="23.0" stroke="#555" stroke-width="0.8"/>
<text x="-2.5" y="24.3" font-size="4" fill="#8a8a8a" text-anchor="end">10⁴</text>
<line x1="-1.5" y1="40.0" x2="0" y2="40.0" stroke="#555" stroke-width="0.8"/>
<text x="-2.5" y="41.3" font-size="4" fill="#8a8a8a" text-anchor="end">10³</text>
<line x1="-1.5" y1="57.5" x2="0" y2="57.5" stroke="#555" stroke-width="0.8"/>
<text x="-2.5" y="58.8" font-size="4" fill="#8a8a8a" text-anchor="end">10²</text>
<line x1="-1.5" y1="65.5" x2="0" y2="65.5" stroke="#555" stroke-width="0.8"/>
<text x="-2.5" y="66.8" font-size="4" fill="#8a8a8a" text-anchor="end">0</text>
<line x1="7.5" y1="73.0" x2="7.5" y2="74.5" stroke="#555" stroke-width="0.8"/>
<text x="7.5" y="79.5" font-size="4" fill="#8a8a8a" text-anchor="middle">0</text>
<line x1="15.0" y1="73.0" x2="15.0" y2="74.5" stroke="#555" stroke-width="0.8"/>
<text x="15.0" y="79.5" font-size="4" fill="#8a8a8a" text-anchor="middle">10²</text>
<line x1="33.5" y1="73.0" x2="33.5" y2="74.5" stroke="#555" stroke-width="0.8"/>
<text x="33.5" y="79.5" font-size="4" fill="#8a8a8a" text-anchor="middle">10³</text>
<line x1="50.0" y1="73.0" x2="50.0" y2="74.5" stroke="#555" stroke-width="0.8"/>
<text x="50.0" y="79.5" font-size="4" fill="#8a8a8a" text-anchor="middle">10⁴</text>
<line x1="66.0" y1="73.0" x2="66.0" y2="74.5" stroke="#555" stroke-width="0.8"/>
<text x="66.0" y="79.5" font-size="4" fill="#8a8a8a" text-anchor="middle">10⁵</text>
<line x1="35.00" y1="0" x2="35.00" y2="73.00" stroke="#505050" stroke-width="1"/>
<line x1="0" y1="51.50" x2="74.25" y2="51.50" stroke="#505050" stroke-width="1"/>
<g stroke="#000" stroke-width="0.15">
<text x="1.6" y="10.3" font-size="9.8">1.46</text>
<text x="73.05" y="10.3" font-size="9.8" text-anchor="end">0.064</text>
<text x="1.6" y="72.00" font-size="9.8">96.2</text>
<text x="73.05" y="72.00" font-size="9.8" text-anchor="end">2.32</text>
</g>
</g>
<g transform="translate(495.50 66.50)">
<clipPath id="c5"><rect x="0" y="0" width="74.50" height="73.00"/></clipPath>
<g clip-path="url(#c5)">
<g transform="translate(-0.50 -0.50)">
<g filter="url(#bl2)">
<path d="M27 76.7L24 76.6L21.3 76.1L7.3 71.5L5.3 70.3L3.7 68.7L2.7 67L2.2 65L2.6 62.7L4.2 60.3L6 58.8L10 56.6L12 55.1L19.2 48L21.7 44.7L22.8 42.7L23.2 41L22.8 34.7L23.3 30.3L24.7 27.4L25.7 26.4L26.7 26.1L27.7 26.4L28.7 27.3L30.1 30.7L30.6 34.3L30.1 40.3L30.5 42.3L33.3 47.4L37.2 52.3L38.9 55L40 58.3L40.4 61.7L40.2 64.3L39.5 67L38.3 69.7L36.5 72L34.7 73.7L32.3 75.2L29.7 76.2L27 76.7Z" fill="url(#p1)" fill-rule="evenodd"/>
<path d="M27 75L24.3 75L21.7 74.5L15.7 71.9L9.5 68L8.1 66.3L7.7 64.7L8 63.3L8.8 62L16.4 53L23.7 46.2L25.3 45.2L26.7 44.9L28 45.2L29.7 46.2L36.2 53.7L38.1 57.3L38.9 61.7L38.7 64L38.1 66.3L37 68.7L35.6 70.7L33.7 72.5L31.7 73.7L29.7 74.5L27 75Z" fill="url(#p2)" fill-rule="evenodd"/>
<path d="M28.3 73.4L26 73.6L23.7 73.5L21 72.7L18.3 71.5L16 69.9L14 68L12.8 66L12.4 64.3L12.6 62.3L13.4 60L16.9 54.7L19.3 52.2L23.3 49.1L25 48.1L26.3 47.8L27.7 47.9L29.3 48.8L34.4 53.7L36.5 57L37.5 61L37 65.3L35.1 69L32 71.9L28.3 73.4Z" fill="url(#p3)" fill-rule="evenodd"/>
</g><g filter="url(#bl)">
<path d="M26.3 72.3L22.3 71.8L18.2 69.7L16.7 68.3L15.5 66.7L14.8 65L14.5 63.3L14.8 61.3L15.5 59.3L16.7 57L18.3 54.9L20.3 53.1L22.7 51.5L25 50.4L26.7 50.1L28.3 50.5L30 51.5L33.9 55L35.7 58.3L36.2 62L35.5 65.7L34.5 67.7L33.3 69.2L31.7 70.6L30 71.5L26.3 72.3Z" fill="#4262fa" fill-rule="evenodd"/>
<path d="M27.7 71.1L25.7 71.2L23.7 71L20 69.4L18.3 68.1L17.2 66.7L16.1 63.7L16.1 62L16.6 60L17.5 58L18.9 56L22.3 53.1L24.3 52.2L26 51.9L27.3 51.9L29 52.5L32.1 54.7L34.2 57.7L35.1 61L34.8 64.3L33.2 67.7L30.7 69.9L27.7 71.1Z" fill="#2848f6" fill-rule="evenodd"/>
<path d="M27.3 69L24.3 69L21.7 67.9L19.6 66L18.5 63.3L18.8 60.3L20.2 57.7L22.7 55.4L25.3 54.4L28 54.7L30.3 55.9L32.1 58L33 60.7L33 63.3L31.8 66L30 67.9L27.3 69Z" fill="#2a78ff" fill-rule="evenodd"/>
<path d="M27.7 68.3L25 68.5L22.3 67.7L20.4 66L19.2 63.7L19.2 61L20.4 58.3L22.3 56.3L25 55.1L27.3 55.1L29.7 56.2L31.4 58L32.4 60.3L32.5 63L31.6 65.3L30 67.2L27.7 68.3Z" fill="#30b6f2" fill-rule="evenodd"/>
<path d="M26.7 68L24 67.8L21.8 66.7L20.3 64.9L19.7 62.7L20 60.3L21.3 58L23.3 56.3L25.7 55.6L28 55.9L30 57.1L31.4 59L32 61.3L31.8 63.7L30.7 65.8L29 67.2L26.7 68Z" fill="#4adcc0" fill-rule="evenodd"/>
<path d="M27.3 67.4L25 67.5L23 66.8L21.2 65.3L20.3 63.3L20.3 61L21.2 59L23 57.1L25 56.2L27 56.2L29 57L30.7 58.7L31.5 60.7L31.4 63L30.7 64.9L29.3 66.4L27.3 67.4Z" fill="#72e882" fill-rule="evenodd"/>
<path d="M27.3 66.4L25.3 66.6L23.7 66.1L22.2 65L21.3 63.3L21.2 61.3L21.8 59.7L23.3 58L25 57.2L26.7 57.1L28.4 57.7L29.8 59L30.6 60.7L30.6 62.7L30 64.3L28.8 65.7L27.3 66.4Z" fill="#b6f04a" fill-rule="evenodd"/>
<path d="M26 65.7L24.7 65.5L23.3 64.7L22.4 63.3L22.2 62L22.4 60.7L23.3 59.2L24.7 58.3L26.3 58.1L27.7 58.4L28.8 59.3L29.6 60.7L29.7 62L29.4 63.3L28.7 64.5L27.5 65.3L26 65.7Z" fill="#eee631" fill-rule="evenodd"/>
<path d="M26 64.7L25 64.5L24 63.9L23.4 63L23.2 62L23.4 61L24 60L25 59.3L26 59.1L27 59.2L28 59.9L28.7 61.7L28.6 62.7L28 63.8L27 64.5L26 64.7Z" fill="#f4a228" fill-rule="evenodd"/>
<path d="M26.3 63.7L25 63.5L24.2 62.3L24.4 61L25.7 60L27 60.3L27.8 61.3L27.7 62.7L26.3 63.7Z" fill="#e6461a" fill-rule="evenodd"/>
</g></g>
</g>
<rect x="0" y="0" width="74.50" height="73.00" fill="none" stroke="#a4a4a4" stroke-width="1"/>
<path d="M0 0V73.00H74.50" fill="none" stroke="#7a7a7a" stroke-width="1"/>
<line x1="-1.5" y1="6.5" x2="0" y2="6.5" stroke="#555" stroke-width="0.8"/>
<text x="-2.5" y="7.8" font-size="4" fill="#8a8a8a" text-anchor="end">10⁵</text>
<line x1="-1.5" y1="23.0" x2="0" y2="23.0" stroke="#555" stroke-width="0.8"/>
<text x="-2.5" y="24.3" font-size="4" fill="#8a8a8a" text-anchor="end">10⁴</text>
<line x1="-1.5" y1="40.0" x2="0" y2="40.0" stroke="#555" stroke-width="0.8"/>
<text x="-2.5" y="41.3" font-size="4" fill="#8a8a8a" text-anchor="end">10³</text>
<line x1="-1.5" y1="57.5" x2="0" y2="57.5" stroke="#555" stroke-width="0.8"/>
<text x="-2.5" y="58.8" font-size="4" fill="#8a8a8a" text-anchor="end">10²</text>
<line x1="-1.5" y1="65.5" x2="0" y2="65.5" stroke="#555" stroke-width="0.8"/>
<text x="-2.5" y="66.8" font-size="4" fill="#8a8a8a" text-anchor="end">0</text>
<line x1="7.5" y1="73.0" x2="7.5" y2="74.5" stroke="#555" stroke-width="0.8"/>
<text x="7.5" y="79.5" font-size="4" fill="#8a8a8a" text-anchor="middle">0</text>
<line x1="15.0" y1="73.0" x2="15.0" y2="74.5" stroke="#555" stroke-width="0.8"/>
<text x="15.0" y="79.5" font-size="4" fill="#8a8a8a" text-anchor="middle">10²</text>
<line x1="33.5" y1="73.0" x2="33.5" y2="74.5" stroke="#555" stroke-width="0.8"/>
<text x="33.5" y="79.5" font-size="4" fill="#8a8a8a" text-anchor="middle">10³</text>
<line x1="50.0" y1="73.0" x2="50.0" y2="74.5" stroke="#555" stroke-width="0.8"/>
<text x="50.0" y="79.5" font-size="4" fill="#8a8a8a" text-anchor="middle">10⁴</text>
<line x1="66.0" y1="73.0" x2="66.0" y2="74.5" stroke="#555" stroke-width="0.8"/>
<text x="66.0" y="79.5" font-size="4" fill="#8a8a8a" text-anchor="middle">10⁵</text>
<line x1="34.50" y1="0" x2="34.50" y2="73.00" stroke="#505050" stroke-width="1"/>
<line x1="0" y1="51.50" x2="74.50" y2="51.50" stroke="#505050" stroke-width="1"/>
<g stroke="#000" stroke-width="0.15">
<text x="1.6" y="10.3" font-size="9.8">1.36</text>
<text x="73.30" y="10.3" font-size="9.8" text-anchor="end">0.068</text>
<text x="1.6" y="72.00" font-size="9.8">98</text>
<text x="73.30" y="72.00" font-size="9.8" text-anchor="end">0.6</text>
</g>
</g>
<g transform="translate(583.00 66.50)">
<clipPath id="c6"><rect x="0" y="0" width="74.00" height="73.00"/></clipPath>
<g clip-path="url(#c6)">
<g transform="translate(0.00 -0.50)">
<g filter="url(#bl2)">
<path d="M28.8 77L25.5 77.3L22.2 76.9L7.8 72.2L5.5 70.9L3.8 69.3L2.8 67.7L2.3 65.7L2.7 63.3L4.2 61L6.2 59.4L10.2 57.2L12.2 55.7L18.9 49L20.9 46.3L22.1 44L22.5 42.3L22 35L22.7 30L23.5 27.8L24.5 26.1L25.5 25.2L26.8 24.8L27.8 25.1L29 26L30.7 29.3L31.6 34.7L31.1 41.3L31.2 43L32.7 46.7L35 50L37.2 52L39.2 53.1L48.2 53.5L51.5 54.2L54.2 55.2L56.5 56.7L58.5 58.6L59.7 60.7L60.1 62.7L59.8 65L58.6 67.3L56.5 69.3L53.8 70.9L51.2 71.9L47.8 72.6L38.4 72.7L32.2 76L28.8 77Z" fill="url(#p1)" fill-rule="evenodd"/>
<path d="M26.2 75.7L23.8 75.5L21.2 74.9L15.2 72.1L9.3 68.3L8.3 67L7.8 65.3L8.1 64L8.9 62.7L15.9 54.3L23.5 46.9L25.2 45.6L27.2 45.3L29.2 46.1L34.6 52L38.2 55L40.2 55.4L46.5 55.2L50.2 55.9L54.2 57.8L55.8 59.3L56.6 60.7L57.2 63L56.6 65.3L55.1 67.3L52.5 69.2L49.8 70.2L46.8 70.7L38.2 70.6L31.2 74.6L28.5 75.4L26.2 75.7Z" fill="url(#p2)" fill-rule="evenodd"/>
<path d="M28.2 74L25.8 74.2L23.2 73.9L18.5 72.1L16.2 70.5L14.2 68.7L13.1 67L12.5 65.3L12.5 63.7L13.1 61.7L16.1 56.3L19.2 53.1L24.8 48.8L26.8 48.3L28.8 49L36.8 56.3L38.2 57.2L39.8 57.6L45.5 57.1L48.5 57.6L51.8 59.1L53.8 61.3L54.2 63L53.8 64.7L52.6 66.3L50.6 67.7L48.5 68.4L45.8 68.9L39.5 68.3L38.2 68.4L36.5 69.2L31.8 72.7L28.2 74Z" fill="url(#p3)" fill-rule="evenodd"/>
</g><g filter="url(#bl)">
<path d="M28.2 72.7L24.2 72.8L21.8 72.2L19.8 71.3L17.8 69.9L16.3 68.3L15.3 66.7L14.7 65L14.7 63.3L15.1 61.3L17 57.3L19.8 54.2L24.2 51.3L26.8 50.7L29.5 51.7L33.2 54.5L37.2 59.2L38.5 60.2L39.8 60.3L44.2 59.4L46.5 59.5L49 60.3L50.5 62L50.7 63L50.5 64.1L49.8 65L48.5 65.9L46.5 66.5L44.5 66.6L39.8 65.5L38.5 65.5L37.2 66.3L32.2 71L30.2 72.1L28.2 72.7Z" fill="#4262fa" fill-rule="evenodd"/>
<path d="M27.5 71.7L25.5 71.8L23.5 71.5L19.8 69.9L17.3 67.3L16.5 65.7L16.2 64L16.2 62.3L16.8 60.3L18.9 56.7L20.5 55.1L22.5 53.7L24.5 52.8L26.2 52.4L27.5 52.5L29.2 53.1L32.5 55.5L35.1 59L36.3 62.3L35.7 65L33.5 68.3L30.8 70.5L27.5 71.7Z" fill="#2848f6" fill-rule="evenodd"/>
<path d="M26.8 69.7L23.8 69.5L21.2 68.1L19.3 66L18.6 63.7L19 60.7L20.5 58L22.8 56L25.8 55L28.5 55.4L30.8 56.8L32.7 59.3L33.5 62L33.1 64.7L31.8 67L29.5 68.9L26.8 69.7Z" fill="#2a78ff" fill-rule="evenodd"/>
<path d="M27.5 69L24.8 69.1L22.2 68.1L20.3 66.3L19.3 64L19.4 61.3L20.7 58.7L22.8 56.7L25.5 55.7L27.8 55.8L30.2 57L31.9 59L32.8 61.7L32.7 64L31.6 66.3L29.8 68L27.5 69Z" fill="#30b6f2" fill-rule="evenodd"/>
<path d="M27.8 68.4L25.2 68.6L22.8 67.8L20.8 66.1L19.9 64L20 61.3L21.1 59L22.8 57.3L25.2 56.3L27.5 56.3L29.5 57.2L31.3 59L32.2 61.3L32.2 63.7L31.4 65.7L29.8 67.4L27.8 68.4Z" fill="#4adcc0" fill-rule="evenodd"/>
<path d="M27.2 68L24.8 68L22.8 67.2L21.2 65.7L20.4 63.7L20.5 61.3L21.5 59.3L23.2 57.7L25.5 56.8L27.5 56.9L29.5 57.8L31.1 59.7L31.7 61.7L31.7 63.7L30.8 65.7L29.2 67.2L27.2 68Z" fill="#72e882" fill-rule="evenodd"/>
<path d="M27.5 67L25.5 67.2L23.7 66.7L22.1 65.3L21.3 63.7L21.4 61.7L22.1 60L23.5 58.5L25.2 57.8L26.8 57.7L28.6 58.3L30 59.7L30.8 61.3L30.9 63L30.3 64.7L29.2 66.1L27.5 67Z" fill="#b6f04a" fill-rule="evenodd"/>
<path d="M27.2 66.1L25.5 66.2L24.2 65.8L22.9 64.7L22.3 63.3L22.4 61.7L23 60.3L24.2 59.3L25.5 58.7L26.8 58.7L28.2 59.2L29.3 60.3L29.8 61.7L29.9 63L29.4 64.3L28.5 65.4L27.2 66.1Z" fill="#eee631" fill-rule="evenodd"/>
<path d="M27.2 65L25.8 65.3L24.8 65L23.5 63.6L23.3 62.3L23.6 61.3L25.2 59.9L27.2 59.9L28.2 60.5L28.7 61.3L28.7 63.3L28.2 64.3L27.2 65Z" fill="#f4a228" fill-rule="evenodd"/>
<path d="M26.2 64.3L24.8 63.9L24.2 62.7L24.8 61.2L26.2 60.6L27.5 61.2L28 62.3L27.5 63.7L26.2 64.3Z" fill="#e6461a" fill-rule="evenodd"/>
</g></g>
</g>
<rect x="0" y="0" width="74.00" height="73.00" fill="none" stroke="#a4a4a4" stroke-width="1"/>
<path d="M0 0V73.00H74.00" fill="none" stroke="#7a7a7a" stroke-width="1"/>
<line x1="-1.5" y1="6.5" x2="0" y2="6.5" stroke="#555" stroke-width="0.8"/>
<text x="-2.5" y="7.8" font-size="4" fill="#8a8a8a" text-anchor="end">10⁵</text>
<line x1="-1.5" y1="23.0" x2="0" y2="23.0" stroke="#555" stroke-width="0.8"/>
<text x="-2.5" y="24.3" font-size="4" fill="#8a8a8a" text-anchor="end">10⁴</text>
<line x1="-1.5" y1="40.0" x2="0" y2="40.0" stroke="#555" stroke-width="0.8"/>
<text x="-2.5" y="41.3" font-size="4" fill="#8a8a8a" text-anchor="end">10³</text>
<line x1="-1.5" y1="57.5" x2="0" y2="57.5" stroke="#555" stroke-width="0.8"/>
<text x="-2.5" y="58.8" font-size="4" fill="#8a8a8a" text-anchor="end">10²</text>
<line x1="-1.5" y1="65.5" x2="0" y2="65.5" stroke="#555" stroke-width="0.8"/>
<text x="-2.5" y="66.8" font-size="4" fill="#8a8a8a" text-anchor="end">0</text>
<line x1="7.5" y1="73.0" x2="7.5" y2="74.5" stroke="#555" stroke-width="0.8"/>
<text x="7.5" y="79.5" font-size="4" fill="#8a8a8a" text-anchor="middle">0</text>
<line x1="15.0" y1="73.0" x2="15.0" y2="74.5" stroke="#555" stroke-width="0.8"/>
<text x="15.0" y="79.5" font-size="4" fill="#8a8a8a" text-anchor="middle">10²</text>
<line x1="33.5" y1="73.0" x2="33.5" y2="74.5" stroke="#555" stroke-width="0.8"/>
<text x="33.5" y="79.5" font-size="4" fill="#8a8a8a" text-anchor="middle">10³</text>
<line x1="50.0" y1="73.0" x2="50.0" y2="74.5" stroke="#555" stroke-width="0.8"/>
<text x="50.0" y="79.5" font-size="4" fill="#8a8a8a" text-anchor="middle">10⁴</text>
<line x1="66.0" y1="73.0" x2="66.0" y2="74.5" stroke="#555" stroke-width="0.8"/>
<text x="66.0" y="79.5" font-size="4" fill="#8a8a8a" text-anchor="middle">10⁵</text>
<line x1="35.00" y1="0" x2="35.00" y2="73.00" stroke="#505050" stroke-width="1"/>
<line x1="0" y1="51.50" x2="74.00" y2="51.50" stroke="#505050" stroke-width="1"/>
<rect x="35.00" y="51.50" width="39.00" height="21.50" fill="none" stroke="#cc1f1f" stroke-width="2"/>
<g stroke="#000" stroke-width="0.15">
<text x="1.6" y="10.3" font-size="9.8">1.43</text>
<text x="72.80" y="10.3" font-size="9.8" text-anchor="end">0.055</text>
<text x="1.6" y="72.00" font-size="9.8">87.4</text>
<text x="72.80" y="72.00" font-size="9.8" text-anchor="end">11.1</text>
</g>
</g>
<g transform="translate(121.25 150.50)">
<clipPath id="c7"><rect x="0" y="0" width="72.75" height="73.25"/></clipPath>
<g clip-path="url(#c7)">
<g transform="translate(-0.25 -0.50)">
<g filter="url(#bl2)">
<path d="M25.1 79L22.1 79.2L18.4 78.6L15.4 77.5L13.1 76.1L11 74L9.5 71.7L8.7 69L8.4 66.3L8.7 63.3L9.9 57.3L11.5 52L17.3 42.7L21.4 37.3L22.2 35.7L22.1 33L19.8 27.7L19.7 26L20.1 24.3L20.8 23L22.1 21.7L23.4 21.1L25.1 20.8L26.8 21L28.1 21.7L29.4 23L30.2 24.7L30.4 27.7L28.7 33L28.6 35.7L29.4 37.7L32.3 42.3L33.9 46.7L35.9 55.3L36.5 61.3L36.3 64.7L35.6 68L34.6 71L33.3 73.3L31.8 75.4L29.8 77.1L27.4 78.4L25.1 79Z" fill="url(#p1)" fill-rule="evenodd"/>
<path d="M25.4 31.3L24.4 31L23.1 29.6L22.2 28L21.9 26.7L22.1 25.3L22.8 24.1L23.8 23.4L25.1 23L26.4 23.3L27.4 24L28 25L28.4 26.3L28.2 28L27.4 29.7L26.4 30.9L25.4 31.3ZM25.1 77.1L22.8 77.1L20.1 76.7L17.4 75.8L15.1 74.6L13.3 73L12.1 71.3L11.2 69.3L10.9 67L11.4 64L14.3 54.7L18 45.7L19.7 42.7L21.4 40.6L23.8 38.7L25.4 38.1L27.1 38.8L29.1 40.6L30.6 42.7L32 45.3L33.3 49.3L34.6 55L35.2 61.7L34.9 65L34.3 67.7L32.2 72.3L30.8 74.1L29.1 75.5L27.1 76.5L25.1 77.1Z" fill="url(#p2)" fill-rule="evenodd"/>
<path d="M25.4 75.3L23.4 75.5L21.1 75.2L16.8 73.3L15.1 72L14.1 70.7L13.4 69L13.1 67L13.5 64.7L16.3 54.7L19.2 46.7L20.5 44.3L22.1 42.5L23.8 41.4L25.4 41L27.1 41.5L28.4 42.5L29.8 44.1L30.9 46.3L33.3 54.3L34.1 61.3L33.5 66.3L31.7 70.7L30.4 72.4L28.8 73.9L25.4 75.3Z" fill="url(#p3)" fill-rule="evenodd"/>
</g><g filter="url(#bl)">
<path d="M24.4 74L20.8 73.5L17.4 71.7L15.6 69.3L15.1 66.3L17.2 56L19.9 48.3L21.1 46.2L22.4 44.5L23.8 43.5L25.4 43.2L26.8 43.5L28.1 44.5L29.3 46L30.3 48L32.5 55.7L33.1 61.7L32.3 66.7L30.5 70.3L27.8 73L26.1 73.7L24.4 74Z" fill="#4262fa" fill-rule="evenodd"/>
<path d="M24.8 72.7L21.8 72.4L18.8 70.7L17.2 68.7L16.7 65.7L18 57.3L20.3 50.3L21.4 48L22.8 46.3L24.1 45.3L25.4 45.1L26.8 45.5L27.8 46.2L29.8 49.7L31.6 55.7L32.2 61.3L31.6 65.7L30.1 69.1L27.8 71.6L24.8 72.7Z" fill="#2848f6" fill-rule="evenodd"/>
<path d="M25.8 70L23.1 70.1L20.9 69L19.5 67L19 64L19.5 58.7L20.9 54L23.1 50L24.1 49.2L25.1 48.8L26.1 49L27.1 49.7L28.6 52L30 56L30.6 60.3L30.4 63.7L29.4 66.7L27.8 68.8L25.8 70Z" fill="#2a78ff" fill-rule="evenodd"/>
<path d="M25.8 69.3L23.4 69.5L21.4 68.5L20.1 66.5L19.6 63.7L19.9 59L21.2 54.7L23.1 51.2L24.1 50.3L25.1 49.9L26.8 50.5L28.2 52.7L29.6 56.3L30.2 60.3L30 63.3L29.1 66.1L27.8 68L25.8 69.3Z" fill="#30b6f2" fill-rule="evenodd"/>
<path d="M25.8 68.7L23.8 68.9L21.8 67.9L20.5 66L20 63L20.4 59L21.6 55L23.4 51.9L25.1 50.9L26.8 51.6L28.1 53.6L29.3 57L29.8 60.3L29.5 63.3L28.8 65.7L27.4 67.6L25.8 68.7Z" fill="#4adcc0" fill-rule="evenodd"/>
<path d="M25.8 68.1L23.8 68.2L22.1 67.4L21 65.7L20.5 63L20.7 59.3L21.8 55.8L23.4 52.9L25.1 51.9L26.4 52.3L27.8 54.1L28.9 57L29.4 60.3L29.2 63L28.5 65.3L27.3 67L25.8 68.1Z" fill="#72e882" fill-rule="evenodd"/>
<path d="M25.4 67.1L23.8 67.1L22.4 66.1L21.5 64.3L21.2 62L21.5 59L22.4 56.3L23.8 54.2L25.1 53.5L26.4 54.1L27.4 55.4L28.4 58L28.7 60.7L28.5 63L27.8 65L26.8 66.3L25.4 67.1Z" fill="#b6f04a" fill-rule="evenodd"/>
<path d="M25.8 65.7L24.4 65.9L23.2 65.3L22.4 64L22 62L22.2 59.7L22.8 57.7L23.8 56L25.1 55.2L26.1 55.6L26.9 56.7L27.6 58.3L27.9 60.3L27.4 63.7L26.8 64.8L25.8 65.7Z" fill="#eee631" fill-rule="evenodd"/>
<path d="M25.8 64.3L24.8 64.6L23.9 64.3L23.2 63.3L22.9 62L22.9 60.3L23.4 58.4L24.1 57.4L25.1 56.9L25.8 57.1L26.4 57.8L27.2 60.3L26.9 62.7L25.8 64.3Z" fill="#f4a228" fill-rule="evenodd"/>
<path d="M25.1 63.4L24.1 63L23.6 61L24.1 59L25.1 58.3L26.1 59.1L26.5 60.7L26.1 62.5L25.1 63.4Z" fill="#e6461a" fill-rule="evenodd"/>
</g></g>
</g>
<rect x="0" y="0" width="72.75" height="73.25" fill="none" stroke="#a4a4a4" stroke-width="1"/>
<path d="M0 0V73.25H72.75" fill="none" stroke="#7a7a7a" stroke-width="1"/>
<line x1="-1.5" y1="6.5" x2="0" y2="6.5" stroke="#555" stroke-width="0.8"/>
<text x="-2.5" y="7.8" font-size="4" fill="#8a8a8a" text-anchor="end">10⁵</text>
<line x1="-1.5" y1="23.0" x2="0" y2="23.0" stroke="#555" stroke-width="0.8"/>
<text x="-2.5" y="24.3" font-size="4" fill="#8a8a8a" text-anchor="end">10⁴</text>
<line x1="-1.5" y1="40.0" x2="0" y2="40.0" stroke="#555" stroke-width="0.8"/>
<text x="-2.5" y="41.3" font-size="4" fill="#8a8a8a" text-anchor="end">10³</text>
<line x1="-1.5" y1="57.5" x2="0" y2="57.5" stroke="#555" stroke-width="0.8"/>
<text x="-2.5" y="58.8" font-size="4" fill="#8a8a8a" text-anchor="end">10²</text>
<line x1="-1.5" y1="65.5" x2="0" y2="65.5" stroke="#555" stroke-width="0.8"/>
<text x="-2.5" y="66.8" font-size="4" fill="#8a8a8a" text-anchor="end">0</text>
<line x1="7.5" y1="73.2" x2="7.5" y2="74.8" stroke="#555" stroke-width="0.8"/>
<text x="7.5" y="79.8" font-size="4" fill="#8a8a8a" text-anchor="middle">0</text>
<line x1="15.0" y1="73.2" x2="15.0" y2="74.8" stroke="#555" stroke-width="0.8"/>
<text x="15.0" y="79.8" font-size="4" fill="#8a8a8a" text-anchor="middle">10²</text>
<line x1="33.5" y1="73.2" x2="33.5" y2="74.8" stroke="#555" stroke-width="0.8"/>
<text x="33.5" y="79.8" font-size="4" fill="#8a8a8a" text-anchor="middle">10³</text>
<line x1="50.0" y1="73.2" x2="50.0" y2="74.8" stroke="#555" stroke-width="0.8"/>
<text x="50.0" y="79.8" font-size="4" fill="#8a8a8a" text-anchor="middle">10⁴</text>
<line x1="66.0" y1="73.2" x2="66.0" y2="74.8" stroke="#555" stroke-width="0.8"/>
<text x="66.0" y="79.8" font-size="4" fill="#8a8a8a" text-anchor="middle">10⁵</text>
<line x1="31.25" y1="0" x2="31.25" y2="73.25" stroke="#505050" stroke-width="1"/>
<line x1="0" y1="37.00" x2="72.75" y2="37.00" stroke="#505050" stroke-width="1"/>
<g stroke="#000" stroke-width="0.15">
<text x="1.6" y="10.3" font-size="9.8">0.72</text>
<text x="71.55" y="10.3" font-size="9.8" text-anchor="end">6.89e-3</text>
<text x="1.6" y="72.25" font-size="9.8">98.4</text>
<text x="71.55" y="72.25" font-size="9.8" text-anchor="end">0.89</text>
</g>
</g>
<g transform="translate(208.00 150.50)">
<clipPath id="c8"><rect x="0" y="0" width="73.00" height="73.25"/></clipPath>
<g clip-path="url(#c8)">
<g transform="translate(0.00 -0.50)">
<g filter="url(#bl2)">
<path d="M25.2 76.7L22.2 76.9L18.8 76.5L15.5 75.5L12.8 74L10.8 72.2L9.3 70L8.3 67.3L7.9 64.3L8.1 61.3L9 56.7L10.9 50L12.7 46.7L20.2 35.7L21 34L20.9 32L19.2 27.3L19.5 24.3L20.3 23L21.5 21.8L22.8 21.1L24.5 20.8L26.2 21.1L27.5 21.7L28.8 23L29.5 24.3L29.9 27L28.6 32L28.7 34L29.3 35.7L32 40.7L34.8 47.3L36.5 49.2L41.5 51.9L44 54L45.9 57L46.6 60.3L46.3 62.7L45.6 64.7L44.3 66.7L42.5 68.4L39.8 70L34.2 72.2L28.5 75.6L25.2 76.7Z" fill="url(#p1)" fill-rule="evenodd"/>
<path d="M24.8 31.7L23.8 31.2L22.5 29.6L21.7 28L21.4 26.7L21.6 25.3L22.2 24.3L23.2 23.5L24.5 23.1L25.8 23.4L26.8 24.1L27.6 25.3L27.8 26.7L27.5 28.3L26.8 29.8L25.8 31.2L24.8 31.7ZM25.2 74.7L22.5 74.9L19.8 74.5L16.8 73.5L14.5 72.2L12.7 70.7L11.5 69L10.7 67L10.4 64.7L11 61.3L13.7 52.7L17.3 43.7L18.8 41L20.5 38.6L23.5 35.6L24.8 34.8L26.5 35.9L29.6 39.7L31.3 42.7L34.5 50.6L36.2 52.8L40.7 56.7L41.6 58.3L42 60.3L41.5 63L39.5 65.5L34.8 68.6L29.2 73.1L27.2 74.1L25.2 74.7Z" fill="url(#p2)" fill-rule="evenodd"/>
<path d="M25.2 73L23.2 73.2L20.8 72.9L18.5 72.2L16.2 71L14.6 69.7L13.6 68.3L12.9 66.7L12.6 64.7L13 62.3L15.6 52.7L18.6 44.7L20.1 42L21.5 40.2L23.2 39L24.8 38.5L26.2 38.9L27.5 39.8L29.9 43L35.7 57.7L36.2 60.3L36 62L35.2 63.7L31.8 68.7L28.5 71.7L25.2 73Z" fill="url(#p3)" fill-rule="evenodd"/>
</g><g filter="url(#bl)">
<path d="M24.5 71.7L20.8 71.4L17.3 69.7L15.3 67.3L14.6 64.3L16.6 54L19.3 46.3L20.5 44L21.8 42.3L23.2 41.3L24.8 40.8L26.2 41.2L27.5 42.2L29.6 45.3L32.7 54.3L33.6 59.7L32.9 63.7L30.8 67.7L27.8 70.5L24.5 71.7Z" fill="#4262fa" fill-rule="evenodd"/>
<path d="M24.5 70.4L21.5 70.2L18.5 68.7L16.7 66.3L16.2 63.3L17.4 55.3L19.6 48.3L20.8 45.9L22.2 44.1L23.5 43.1L24.8 42.8L26.2 43.2L27.2 44L29.1 47L31.6 54.3L32.3 59.3L31.7 63.3L30 66.7L27.5 69.2L24.5 70.4Z" fill="#2848f6" fill-rule="evenodd"/>
<path d="M23.8 68L21.5 67.5L19.5 65.7L18.6 63.3L18.5 60.3L19.2 55.3L20.8 50.7L22.8 47.5L23.8 46.8L24.8 46.6L25.8 46.9L26.8 47.8L28.5 50.7L30 55.3L30.3 59.7L29.7 63L28.2 65.7L26.2 67.4L23.8 68Z" fill="#2a78ff" fill-rule="evenodd"/>
<path d="M25.2 67.1L22.8 67.2L20.7 66L19.5 64L19 61L19.5 56.3L20.8 52L22.8 48.7L23.8 47.9L24.8 47.7L26.5 48.6L28 51L29.4 55L29.9 58.7L29.6 61.3L28.7 64L27.2 65.9L25.2 67.1Z" fill="#30b6f2" fill-rule="evenodd"/>
<path d="M25.5 66.3L23.2 66.6L21.3 65.7L20 63.7L19.5 61L19.8 57L20.9 53L22.6 50L23.5 49.1L24.5 48.7L26.2 49.4L27.5 51.2L28.9 54.7L29.4 58L29.3 60.7L28.5 63.2L27.2 65.2L25.5 66.3Z" fill="#4adcc0" fill-rule="evenodd"/>
<path d="M24.5 66L22.8 65.8L21.2 64.6L20.2 62.7L19.9 59.7L20.4 56L21.6 52.7L23.2 50.4L24.8 49.7L26.2 50.4L27.7 52.7L28.7 56L29 59L28.6 61.7L27.7 63.7L26.2 65.3L24.5 66Z" fill="#72e882" fill-rule="evenodd"/>
<path d="M25.2 64.7L23.5 64.9L22 64L21.1 62.3L20.7 60L20.9 57L21.8 54.2L23.2 52.1L24.5 51.3L25.8 51.8L26.8 53L27.8 55.3L28.3 58L28.2 60.3L27.5 62.3L26.5 63.8L25.2 64.7Z" fill="#b6f04a" fill-rule="evenodd"/>
<path d="M24.2 63.7L23.1 63.3L22.2 62.3L21.6 60.7L21.5 58.7L21.8 56.7L22.6 54.7L23.8 53.3L24.8 53L25.8 53.6L26.8 55.2L27.4 57L27.5 59L27.2 60.9L26.5 62.3L25.5 63.3L24.2 63.7Z" fill="#eee631" fill-rule="evenodd"/>
<path d="M24.5 62.4L23.5 62.1L22.8 61.4L22.3 59L23 56L23.7 55L24.5 54.6L25.5 55L26.2 56L26.7 58.7L26.2 61L25.5 61.9L24.5 62.4Z" fill="#f4a228" fill-rule="evenodd"/>
<path d="M24.8 61.1L24.2 61.1L23.5 60.7L23.1 59L23.5 56.9L24.5 56L25.5 56.7L26 58.3L25.7 60L24.8 61.1Z" fill="#e6461a" fill-rule="evenodd"/>
</g></g>
</g>
<rect x="0" y="0" width="73.00" height="73.25" fill="none" stroke="#a4a4a4" stroke-width="1"/>
<path d="M0 0V73.25H73.00" fill="none" stroke="#7a7a7a" stroke-width="1"/>
<line x1="-1.5" y1="6.5" x2="0" y2="6.5" stroke="#555" stroke-width="0.8"/>
<text x="-2.5" y="7.8" font-size="4" fill="#8a8a8a" text-anchor="end">10⁵</text>
<line x1="-1.5" y1="23.0" x2="0" y2="23.0" stroke="#555" stroke-width="0.8"/>
<text x="-2.5" y="24.3" font-size="4" fill="#8a8a8a" text-anchor="end">10⁴</text>
<line x1="-1.5" y1="40.0" x2="0" y2="40.0" stroke="#555" stroke-width="0.8"/>
<text x="-2.5" y="41.3" font-size="4" fill="#8a8a8a" text-anchor="end">10³</text>
<line x1="-1.5" y1="57.5" x2="0" y2="57.5" stroke="#555" stroke-width="0.8"/>
<text x="-2.5" y="58.8" font-size="4" fill="#8a8a8a" text-anchor="end">10²</text>
<line x1="-1.5" y1="65.5" x2="0" y2="65.5" stroke="#555" stroke-width="0.8"/>
<text x="-2.5" y="66.8" font-size="4" fill="#8a8a8a" text-anchor="end">0</text>
<line x1="7.5" y1="73.2" x2="7.5" y2="74.8" stroke="#555" stroke-width="0.8"/>
<text x="7.5" y="79.8" font-size="4" fill="#8a8a8a" text-anchor="middle">0</text>
<line x1="15.0" y1="73.2" x2="15.0" y2="74.8" stroke="#555" stroke-width="0.8"/>
<text x="15.0" y="79.8" font-size="4" fill="#8a8a8a" text-anchor="middle">10²</text>
<line x1="33.5" y1="73.2" x2="33.5" y2="74.8" stroke="#555" stroke-width="0.8"/>
<text x="33.5" y="79.8" font-size="4" fill="#8a8a8a" text-anchor="middle">10³</text>
<line x1="50.0" y1="73.2" x2="50.0" y2="74.8" stroke="#555" stroke-width="0.8"/>
<text x="50.0" y="79.8" font-size="4" fill="#8a8a8a" text-anchor="middle">10⁴</text>
<line x1="66.0" y1="73.2" x2="66.0" y2="74.8" stroke="#555" stroke-width="0.8"/>
<text x="66.0" y="79.8" font-size="4" fill="#8a8a8a" text-anchor="middle">10⁵</text>
<line x1="31.50" y1="0" x2="31.50" y2="73.25" stroke="#505050" stroke-width="1"/>
<line x1="0" y1="37.00" x2="73.00" y2="37.00" stroke="#505050" stroke-width="1"/>
<g stroke="#000" stroke-width="0.15">
<text x="1.6" y="10.3" font-size="9.8">0.71</text>
<text x="71.80" y="10.3" font-size="9.8" text-anchor="end">0.015</text>
<text x="1.6" y="72.25" font-size="9.8">94.2</text>
<text x="71.80" y="72.25" font-size="9.8" text-anchor="end">5.1</text>
</g>
</g>
<g transform="translate(308.75 151.00)">
<clipPath id="c9"><rect x="0" y="0" width="73.25" height="73.00"/></clipPath>
<g clip-path="url(#c9)">
<g transform="translate(-0.75 0.00)">
<g filter="url(#bl2)">
<path d="M20.9 76.5L17.6 76.5L14.6 75.6L11.9 73.7L9.4 70.8L7.7 67.8L6.7 64.5L6.2 60.5L6.3 55.5L7.4 48.8L8.5 45.8L9.8 43.2L12.2 40.2L17.9 35.3L19.9 32.8L20.1 30.8L19 26.2L19.2 24.5L19.7 23.2L20.6 22L21.9 21L24.6 20.4L26.2 20.8L27.6 21.6L28.7 22.8L29.4 24.5L29.6 26.8L28.7 30.8L28.7 32.5L32.1 39.5L33.5 43.8L35.4 52.8L35.6 58.8L35.2 62.2L34.4 65.2L33.1 68.2L31.2 70.8L29.2 72.9L26.6 74.7L23.6 75.9L20.9 76.5Z" fill="url(#p1)" fill-rule="evenodd"/>
<path d="M21.6 73.8L18.6 73.7L15.9 73L13.6 71.7L11.4 69.5L9.9 67.2L9 64.5L8.6 61.5L8.6 57.8L9.4 51.5L10.4 48.5L11.5 46.2L13.7 43.2L22.2 34.2L23.4 32.5L23.5 31.2L21.6 27.8L21.3 25.5L21.6 24.5L22.4 23.5L23.6 22.9L24.6 22.8L26.2 23.5L27.3 25.2L27.2 27.5L25.6 31.2L25.6 32.2L29.9 38.5L31.8 42.8L33.9 51.5L34.3 55.2L34.3 58.5L33.9 61.5L33.1 64.5L31.7 67.5L30.3 69.5L28.2 71.4L26.2 72.6L24.2 73.4L21.6 73.8Z" fill="url(#p2)" fill-rule="evenodd"/>
<path d="M22.2 71.8L19.6 71.7L17.2 71.1L14.9 69.9L13.3 68.5L11.9 66.5L11.1 64.5L10.7 62.2L10.7 59.2L11.7 52.5L13.8 47.5L20.2 38.9L22.6 37L24.6 36.4L25.9 36.8L27.6 38.1L29.1 40.2L30.4 42.8L31.8 47.2L32.8 51.8L33.2 55.2L33.2 58.5L32.1 63.8L29.9 67.8L28.2 69.5L26.6 70.6L24.6 71.4L22.2 71.8Z" fill="url(#p3)" fill-rule="evenodd"/>
</g><g filter="url(#bl)">
<path d="M22.9 70.2L20.6 70.1L18.6 69.7L16.6 68.8L15 67.5L13.9 66.2L13.1 64.5L12.6 62.5L12.6 60.2L13.8 53.2L16.1 47.8L18.7 43.5L20.7 40.8L22.6 39.3L24.6 38.8L25.9 39.2L27.2 40.2L28.5 41.8L29.6 44.2L31.8 51.8L32.2 57.8L31.4 62.5L29.4 66.5L26.6 69L24.9 69.8L22.9 70.2Z" fill="#4262fa" fill-rule="evenodd"/>
<path d="M24.2 68.6L22.6 68.8L20.6 68.6L18.6 68L16.9 67L15.8 65.8L14.8 64.2L14.3 60.8L15.4 53.8L17.4 48.5L20.9 42.8L22.6 41.3L24.2 40.8L25.6 41L26.6 41.7L28.7 44.8L30.7 51.2L31.4 56.8L30.8 61.2L29.4 64.5L27.2 67.1L24.2 68.6Z" fill="#2848f6" fill-rule="evenodd"/>
<path d="M23.6 66.2L20.9 65.9L18.6 64.2L17.4 61.8L17.2 58.8L17.9 54.2L19.6 49.5L21.9 45.9L22.9 45L24.2 44.6L25.2 44.8L26.2 45.5L27.9 48.2L29.3 52.8L29.7 57.2L29.2 60.5L27.9 63.3L25.9 65.3L23.6 66.2Z" fill="#2a78ff" fill-rule="evenodd"/>
<path d="M23.2 65.5L20.9 65L19.1 63.5L18.1 61.2L17.9 58.2L18.6 53.8L20.1 49.8L22.2 46.7L23.2 45.9L24.2 45.6L25.2 45.9L26 46.5L27.7 49.2L28.9 53.2L29.3 57.2L28.7 60.5L27.4 63.2L25.6 64.8L23.2 65.5Z" fill="#30b6f2" fill-rule="evenodd"/>
<path d="M23.2 64.8L21.2 64.4L19.5 62.8L18.6 60.5L18.5 57.5L19.1 53.8L20.6 50.2L22.5 47.5L24.2 46.7L25.9 47.5L27.4 49.8L28.6 53.5L28.9 57.2L28.4 60.2L27.2 62.5L25.5 64.2L23.2 64.8Z" fill="#4adcc0" fill-rule="evenodd"/>
<path d="M23.6 64.2L21.6 63.8L20.1 62.5L19.2 60.5L19 57.5L19.5 54.2L20.8 50.8L22.6 48.4L24.2 47.6L25.9 48.5L27.2 50.7L28.2 53.8L28.5 57.2L28 59.8L26.9 62.1L25.2 63.7L23.6 64.2Z" fill="#72e882" fill-rule="evenodd"/>
<path d="M24.6 62.8L22.9 63L21.2 62.1L20.2 60.4L19.9 57.8L20.2 54.8L21.2 51.9L22.6 50L24.2 49.3L25.6 49.9L26.6 51.3L27.4 53.5L27.8 56.2L27.6 58.5L26.9 60.5L25.9 61.9L24.6 62.8Z" fill="#b6f04a" fill-rule="evenodd"/>
<path d="M24.6 61.6L23.2 61.7L21.9 61L21.2 59.8L20.8 57.8L21 55.5L21.6 53.5L22.6 51.8L23.9 51L24.9 51.2L25.9 52.2L26.6 53.8L27 55.8L26.9 57.8L26.4 59.5L25.6 60.8L24.6 61.6Z" fill="#eee631" fill-rule="evenodd"/>
<path d="M24.6 60.2L23.6 60.4L22.6 59.9L21.9 58.8L21.7 57.5L22.2 54.3L22.9 53.2L23.9 52.6L24.6 52.7L25.2 53.2L26.2 55.8L25.9 58.5L24.6 60.2Z" fill="#f4a228" fill-rule="evenodd"/>
<path d="M23.9 59.2L22.8 58.5L22.5 56.5L23.2 54.5L24.2 54L25.2 55.1L25.5 56.8L24.9 58.6L23.9 59.2Z" fill="#e6461a" fill-rule="evenodd"/>
</g></g>
</g>
<rect x="0" y="0" width="73.25" height="73.00" fill="none" stroke="#a4a4a4" stroke-width="1"/>
<path d="M0 0V73.00H73.25" fill="none" stroke="#7a7a7a" stroke-width="1"/>
<line x1="-1.5" y1="6.5" x2="0" y2="6.5" stroke="#555" stroke-width="0.8"/>
<text x="-2.5" y="7.8" font-size="4" fill="#8a8a8a" text-anchor="end">10⁵</text>
<line x1="-1.5" y1="23.0" x2="0" y2="23.0" stroke="#555" stroke-width="0.8"/>
<text x="-2.5" y="24.3" font-size="4" fill="#8a8a8a" text-anchor="end">10⁴</text>
<line x1="-1.5" y1="40.0" x2="0" y2="40.0" stroke="#555" stroke-width="0.8"/>
<text x="-2.5" y="41.3" font-size="4" fill="#8a8a8a" text-anchor="end">10³</text>
<line x1="-1.5" y1="57.5" x2="0" y2="57.5" stroke="#555" stroke-width="0.8"/>
<text x="-2.5" y="58.8" font-size="4" fill="#8a8a8a" text-anchor="end">10²</text>
<line x1="-1.5" y1="65.5" x2="0" y2="65.5" stroke="#555" stroke-width="0.8"/>
<text x="-2.5" y="66.8" font-size="4" fill="#8a8a8a" text-anchor="end">0</text>
<line x1="7.5" y1="73.0" x2="7.5" y2="74.5" stroke="#555" stroke-width="0.8"/>
<text x="7.5" y="79.5" font-size="4" fill="#8a8a8a" text-anchor="middle">0</text>
<line x1="15.0" y1="73.0" x2="15.0" y2="74.5" stroke="#555" stroke-width="0.8"/>
<text x="15.0" y="79.5" font-size="4" fill="#8a8a8a" text-anchor="middle">10²</text>
<line x1="33.5" y1="73.0" x2="33.5" y2="74.5" stroke="#555" stroke-width="0.8"/>
<text x="33.5" y="79.5" font-size="4" fill="#8a8a8a" text-anchor="middle">10³</text>
<line x1="50.0" y1="73.0" x2="50.0" y2="74.5" stroke="#555" stroke-width="0.8"/>
<text x="50.0" y="79.5" font-size="4" fill="#8a8a8a" text-anchor="middle">10⁴</text>
<line x1="66.0" y1="73.0" x2="66.0" y2="74.5" stroke="#555" stroke-width="0.8"/>
<text x="66.0" y="79.5" font-size="4" fill="#8a8a8a" text-anchor="middle">10⁵</text>
<line x1="31.75" y1="0" x2="31.75" y2="73.00" stroke="#505050" stroke-width="1"/>
<line x1="0" y1="37.00" x2="73.25" y2="37.00" stroke="#505050" stroke-width="1"/>
<g stroke="#000" stroke-width="0.15">
<text x="1.6" y="10.3" font-size="9.8">0.75</text>
<text x="72.05" y="10.3" font-size="9.8" text-anchor="end">5.64e-3</text>
<text x="1.6" y="72.00" font-size="9.8">98.7</text>
<text x="72.05" y="72.00" font-size="9.8" text-anchor="end">0.5</text>
</g>
</g>
<g transform="translate(396.50 151.00)">
<clipPath id="c10"><rect x="0" y="0" width="74.50" height="73.50"/></clipPath>
<g clip-path="url(#c10)">
<g transform="translate(-0.50 0.00)">
<g filter="url(#bl2)">
<path d="M24 77.9L21 77.8L17.7 77.1L15 76L12.7 74.5L10.8 72.5L9.4 70.2L8.6 67.5L8.4 64.8L9.8 56.2L11.5 50.8L13.5 47.2L17.8 40.5L21.1 36.2L21.9 34.5L21.9 32.2L19.7 26.8L20 23.8L20.8 22.5L22 21.3L23.7 20.5L25.3 20.3L27 20.7L28.4 21.5L29.6 22.8L30.3 24.5L30.3 27.5L28.7 33.2L28.9 34.8L29.7 36.6L32.7 40.6L34.3 42.2L35.7 42.7L39 42.9L41 43.5L43 44.5L45 46.3L46.8 48.8L48.1 51.8L48.9 55.2L49.1 58.5L48.6 62.5L47.5 65.8L45.7 68.9L43.3 71.2L40 72.9L34.3 73.5L28 76.9L24 77.9Z" fill="url(#p1)" fill-rule="evenodd"/>
<path d="M25.7 30.9L24.7 30.7L23.3 29.5L22.3 28L21.9 26.5L21.9 25.2L22.6 23.8L23.3 23.1L24.7 22.6L26 22.7L27 23.2L27.8 24.2L28.3 25.5L28.3 26.8L27.8 28.5L26.7 30.2L25.7 30.9ZM24.3 75.8L21.7 75.7L19 75.1L16.3 74L14.5 72.8L12.8 71.2L11.7 69.5L11.1 67.5L10.9 65.5L11.4 62.5L14.4 52.8L18.2 43.8L19.6 41.5L21.3 39.3L23.7 37.2L25.3 36.5L26.7 37L29 39.1L34.3 46.2L35.7 46.8L40 47.3L41.7 48.2L43 49.4L44.3 51.2L45.3 53.5L45.9 55.8L46 58.5L45.7 61.2L44.8 63.8L43.6 65.8L42 67.5L39.7 68.8L35 69.8L29 74.4L26.7 75.4L24.3 75.8Z" fill="url(#p2)" fill-rule="evenodd"/>
<path d="M24.3 74.2L22.3 74.1L20 73.6L16 71.5L13.8 68.8L13.2 67.2L13.1 65.5L13.5 63.2L16.2 53.5L19.1 45.5L20.4 43.2L22 41.2L23.7 40L25.3 39.6L27.3 40.3L29.3 42.1L33.3 49.1L34.7 50.8L36 51.5L39 52.1L40.7 53.2L42 55.4L42.4 58.2L41.8 61.2L40.3 63.2L35.3 65.6L31.3 70.5L29 72.5L26.7 73.7L24.3 74.2Z" fill="url(#p3)" fill-rule="evenodd"/>
</g><g filter="url(#bl)">
<path d="M25.7 72.5L24 72.7L22 72.5L18.3 71L16.8 69.8L15.8 68.5L15.1 65.5L17.2 54.8L19.5 47.8L20.8 45.2L22.3 43.2L23.7 42.2L25.3 41.8L26.3 42L27.7 42.8L30.1 45.8L33.8 54.8L34.6 58.8L33.8 63.2L31.6 67.8L29 70.8L27.3 71.9L25.7 72.5Z" fill="#4262fa" fill-rule="evenodd"/>
<path d="M25.7 71.2L22.3 71.2L19.3 69.9L17.4 67.8L16.6 64.8L17.8 56.5L20.2 49.2L21.3 46.8L22.7 45L24 44L25.3 43.7L26.7 44.1L27.7 44.8L29.7 47.8L32.1 54.5L32.9 59.2L32.4 62.8L30.9 66.8L28.7 69.6L25.7 71.2Z" fill="#2848f6" fill-rule="evenodd"/>
<path d="M25.3 68.8L22.7 68.7L20.7 67.5L19.3 65.2L19 62.2L19.5 57.2L21.1 52.2L23 48.8L24 47.9L25.3 47.5L26.3 47.8L27.2 48.5L28.9 51.2L30.3 55.5L30.8 59.5L30.4 62.8L29.3 65.6L27.7 67.6L25.3 68.8Z" fill="#2a78ff" fill-rule="evenodd"/>
<path d="M25 68.2L22.7 68L20.8 66.5L19.8 64.5L19.5 61.5L20.1 56.8L21.5 52.5L23.3 49.6L24.3 48.8L25.3 48.6L27 49.5L28.7 52.1L30 56.2L30.3 59.8L29.9 62.8L28.7 65.5L27 67.4L25 68.2Z" fill="#30b6f2" fill-rule="evenodd"/>
<path d="M25.3 67.5L23 67.4L21.3 66.2L20.3 64.2L20 61.2L20.4 57.2L21.8 53.2L23.7 50.3L25.3 49.6L27 50.6L28.3 52.7L29.5 56.2L29.9 59.5L29.5 62.5L28.6 64.8L27 66.7L25.3 67.5Z" fill="#4adcc0" fill-rule="evenodd"/>
<path d="M25.3 66.9L23.3 66.8L21.7 65.6L20.7 63.5L20.4 60.8L20.9 57.2L22 53.8L23.7 51.3L25.3 50.6L26.7 51.2L28.1 53.5L29.1 56.5L29.5 59.5L29.2 62.2L28.3 64.3L27 66L25.3 66.9Z" fill="#72e882" fill-rule="evenodd"/>
<path d="M25 65.9L23.3 65.6L22.1 64.5L21.3 62.5L21.2 60.2L21.6 57.2L22.7 54.4L24 52.7L25.3 52.2L26.7 53L27.7 54.6L28.5 57.2L28.7 59.8L28.5 61.8L27.7 63.8L26.3 65.3L25 65.9Z" fill="#b6f04a" fill-rule="evenodd"/>
<path d="M25.3 64.5L24 64.5L23 63.8L22.3 62.5L22 60.5L22.2 58.2L22.8 56.2L23.9 54.5L25 53.9L26 54.2L27 55.4L27.7 57.2L28 59.2L27.3 62.6L26.5 63.8L25.3 64.5Z" fill="#eee631" fill-rule="evenodd"/>
<path d="M25.3 63.2L24.3 63.3L23.7 62.8L23 61.6L22.8 60.2L23.4 57.2L24 56.2L25 55.6L25.7 55.7L26.4 56.5L27.2 59.2L26.7 61.8L25.3 63.2Z" fill="#f4a228" fill-rule="evenodd"/>
<path d="M25.3 62L24.2 61.8L23.5 60.2L24 57.8L25 57L26 57.7L26.4 59.2L26.2 60.8L25.3 62Z" fill="#e6461a" fill-rule="evenodd"/>
</g></g>
</g>
<rect x="0" y="0" width="74.50" height="73.50" fill="none" stroke="#a4a4a4" stroke-width="1"/>
<path d="M0 0V73.50H74.50" fill="none" stroke="#7a7a7a" stroke-width="1"/>
<line x1="-1.5" y1="6.5" x2="0" y2="6.5" stroke="#555" stroke-width="0.8"/>
<text x="-2.5" y="7.8" font-size="4" fill="#8a8a8a" text-anchor="end">10⁵</text>
<line x1="-1.5" y1="23.0" x2="0" y2="23.0" stroke="#555" stroke-width="0.8"/>
<text x="-2.5" y="24.3" font-size="4" fill="#8a8a8a" text-anchor="end">10⁴</text>
<line x1="-1.5" y1="40.0" x2="0" y2="40.0" stroke="#555" stroke-width="0.8"/>
<text x="-2.5" y="41.3" font-size="4" fill="#8a8a8a" text-anchor="end">10³</text>
<line x1="-1.5" y1="57.5" x2="0" y2="57.5" stroke="#555" stroke-width="0.8"/>
<text x="-2.5" y="58.8" font-size="4" fill="#8a8a8a" text-anchor="end">10²</text>
<line x1="-1.5" y1="65.5" x2="0" y2="65.5" stroke="#555" stroke-width="0.8"/>
<text x="-2.5" y="66.8" font-size="4" fill="#8a8a8a" text-anchor="end">0</text>
<line x1="7.5" y1="73.5" x2="7.5" y2="75.0" stroke="#555" stroke-width="0.8"/>
<text x="7.5" y="80.0" font-size="4" fill="#8a8a8a" text-anchor="middle">0</text>
<line x1="15.0" y1="73.5" x2="15.0" y2="75.0" stroke="#555" stroke-width="0.8"/>
<text x="15.0" y="80.0" font-size="4" fill="#8a8a8a" text-anchor="middle">10²</text>
<line x1="33.5" y1="73.5" x2="33.5" y2="75.0" stroke="#555" stroke-width="0.8"/>
<text x="33.5" y="80.0" font-size="4" fill="#8a8a8a" text-anchor="middle">10³</text>
<line x1="50.0" y1="73.5" x2="50.0" y2="75.0" stroke="#555" stroke-width="0.8"/>
<text x="50.0" y="80.0" font-size="4" fill="#8a8a8a" text-anchor="middle">10⁴</text>
<line x1="66.0" y1="73.5" x2="66.0" y2="75.0" stroke="#555" stroke-width="0.8"/>
<text x="66.0" y="80.0" font-size="4" fill="#8a8a8a" text-anchor="middle">10⁵</text>
<line x1="31.50" y1="0" x2="31.50" y2="73.50" stroke="#505050" stroke-width="1"/>
<line x1="0" y1="37.00" x2="74.50" y2="37.00" stroke="#505050" stroke-width="1"/>
<rect x="31.50" y="37.00" width="43.00" height="36.50" fill="none" stroke="#cc1f1f" stroke-width="2"/>
<g stroke="#000" stroke-width="0.15">
<text x="1.6" y="10.3" font-size="9.8">0.69</text>
<text x="73.30" y="10.3" font-size="9.8" text-anchor="end">5.87e-3</text>
<text x="1.6" y="72.50" font-size="9.8">90.7</text>
<text x="73.30" y="72.50" font-size="9.8" text-anchor="end">8.56</text>
</g>
</g>
<g transform="translate(495.50 151.50)">
<clipPath id="c11"><rect x="0" y="0" width="74.50" height="73.00"/></clipPath>
<g clip-path="url(#c11)">
<g transform="translate(-0.50 -0.50)">
<g filter="url(#bl2)">
<path d="M25.7 75.7L22.7 75.9L19.3 75.4L16.3 74.4L13.7 72.9L11.6 71L10.1 68.7L9.2 66L8.9 63L9.1 60L10.2 54.7L11.9 49L13.4 46L21.5 33.7L21.6 31.7L20.1 27L20.5 24.3L21.3 22.9L22.6 21.7L24 21L25.7 20.8L27.3 21.1L28.7 21.8L29.8 23L30.7 24.7L30.9 27.3L30 31.3L30 33.3L33.2 40L34.5 43.7L36.5 52.7L36.9 58L36.8 61L36.2 64.3L35.2 67.3L33.8 70L32.3 72L30.3 73.7L28.3 74.9L25.7 75.7Z" fill="url(#p1)" fill-rule="evenodd"/>
<path d="M26 73.7L23.3 73.8L20.7 73.4L17.7 72.4L15.3 71.1L13.7 69.7L12.5 68L11.7 66L11.4 63.7L11.8 60.7L14.8 51.3L17.8 43.7L20.1 39.3L24.8 33.3L24.8 32L22.8 28.7L22.3 26.3L22.6 25L23.3 24L24.3 23.3L25.7 23L27.7 23.9L28.7 25.7L28.7 28L26.9 32L26.8 33L31.1 39.3L32.8 43L34.9 51L35.7 57.7L35.1 63.3L34.2 66L33.1 68.3L31.7 70.3L30 71.9L28 73L26 73.7Z" fill="url(#p2)" fill-rule="evenodd"/>
<path d="M26 72L24 72.2L21.7 71.9L17.3 70.1L15.7 68.8L14.6 67.3L13.8 65.7L13.6 64L13.8 61.7L16.5 52L19.5 43.7L20.8 41.3L22.3 39.3L24 37.9L25.7 37.3L27 37.6L28.7 38.8L30.1 40.7L31.4 43L33.6 50.3L34.6 57.7L33.9 63L32.2 67.3L31 69L29.3 70.5L27.7 71.5L26 72Z" fill="url(#p3)" fill-rule="evenodd"/>
</g><g filter="url(#bl)">
<path d="M25 70.7L21.3 70.2L18 68.5L16.1 66L15.6 63L17.8 52.3L20.2 45.3L21.6 42.7L23 41L24.7 39.9L26 39.7L27.3 40.1L28.7 41.2L30.9 45L33 52.3L33.5 58.7L32.8 63.3L31 67L28.3 69.6L26.7 70.4L25 70.7Z" fill="#4262fa" fill-rule="evenodd"/>
<path d="M25.3 69.4L22.3 69.1L19.5 67.7L17.6 65.3L17.1 62.7L18.4 54L20.5 47.7L21.7 45L23 43.2L24.3 42.1L25.7 41.7L27 42L28 42.7L30.1 46L32.1 52.7L32.7 58L32.2 62L30.6 65.7L28.3 68.2L25.3 69.4Z" fill="#2848f6" fill-rule="evenodd"/>
<path d="M26.3 66.7L23.7 66.9L21.3 65.7L20 63.7L19.5 60.7L20 55.3L21.5 50.3L23.6 46.7L24.7 45.8L25.7 45.5L27.3 46.2L29 48.6L30.5 53L31.1 57L30.8 60.3L29.8 63.3L28.3 65.4L26.3 66.7Z" fill="#2a78ff" fill-rule="evenodd"/>
<path d="M26 66.1L23.7 66.2L21.7 65L20.4 63L20 60L20.4 55.3L21.8 51L23.7 47.7L24.7 46.9L25.7 46.6L27.3 47.4L28.8 49.7L30.2 53.7L30.6 57.3L30.4 60.3L29.4 63L28 64.9L26 66.1Z" fill="#30b6f2" fill-rule="evenodd"/>
<path d="M26.3 65.3L24.3 65.6L22.3 64.7L21 62.7L20.5 60L20.8 55.7L22 51.8L23.7 48.8L24.7 47.9L25.7 47.6L27.2 48.3L28.6 50.3L29.7 53.7L30.2 57L30.1 59.7L29.2 62.3L28 64.2L26.3 65.3Z" fill="#4adcc0" fill-rule="evenodd"/>
<path d="M25 65L23.3 64.6L21.9 63.3L21.1 61.3L20.9 58.3L21.4 55L22.6 51.7L24 49.5L25.7 48.6L27.3 49.5L28.6 51.7L29.5 54.7L29.8 58L29.4 60.7L28.3 63L26.7 64.6L25 65Z" fill="#72e882" fill-rule="evenodd"/>
<path d="M26 63.7L24.3 63.8L23 63L22 61.3L21.7 59L21.9 56L22.9 53L24.3 50.8L25.7 50.2L27 50.9L28 52.4L28.8 54.7L29.2 57.3L29 59.3L28.3 61.4L27.3 62.9L26 63.7Z" fill="#b6f04a" fill-rule="evenodd"/>
<path d="M26 62.5L24.7 62.6L23.7 62L22.8 60.7L22.5 58.7L22.6 56.3L23.3 54.1L24.3 52.6L25.7 51.9L26.7 52.4L27.6 53.7L28.1 55.3L28.4 57.3L27.7 60.7L27 61.8L26 62.5Z" fill="#eee631" fill-rule="evenodd"/>
<path d="M25.3 61.4L24.3 61L23.8 60.3L23.3 57.7L24 54.9L24.7 54L25.7 53.6L26.3 53.9L27 54.7L27.6 57.7L27 60.1L26.3 60.9L25.3 61.4Z" fill="#f4a228" fill-rule="evenodd"/>
<path d="M25.7 60.1L25 60.1L24.5 59.7L24 58L24.6 55.7L25.7 55L26.6 56L26.9 57.7L26.5 59.3L25.7 60.1Z" fill="#e6461a" fill-rule="evenodd"/>
</g></g>
</g>
<rect x="0" y="0" width="74.50" height="73.00" fill="none" stroke="#a4a4a4" stroke-width="1"/>
<path d="M0 0V73.00H74.50" fill="none" stroke="#7a7a7a" stroke-width="1"/>
<line x1="-1.5" y1="6.5" x2="0" y2="6.5" stroke="#555" stroke-width="0.8"/>
<text x="-2.5" y="7.8" font-size="4" fill="#8a8a8a" text-anchor="end">10⁵</text>
<line x1="-1.5" y1="23.0" x2="0" y2="23.0" stroke="#555" stroke-width="0.8"/>
<text x="-2.5" y="24.3" font-size="4" fill="#8a8a8a" text-anchor="end">10⁴</text>
<line x1="-1.5" y1="40.0" x2="0" y2="40.0" stroke="#555" stroke-width="0.8"/>
<text x="-2.5" y="41.3" font-size="4" fill="#8a8a8a" text-anchor="end">10³</text>
<line x1="-1.5" y1="57.5" x2="0" y2="57.5" stroke="#555" stroke-width="0.8"/>
<text x="-2.5" y="58.8" font-size="4" fill="#8a8a8a" text-anchor="end">10²</text>
<line x1="-1.5" y1="65.5" x2="0" y2="65.5" stroke="#555" stroke-width="0.8"/>
<text x="-2.5" y="66.8" font-size="4" fill="#8a8a8a" text-anchor="end">0</text>
<line x1="7.5" y1="73.0" x2="7.5" y2="74.5" stroke="#555" stroke-width="0.8"/>
<text x="7.5" y="79.5" font-size="4" fill="#8a8a8a" text-anchor="middle">0</text>
<line x1="15.0" y1="73.0" x2="15.0" y2="74.5" stroke="#555" stroke-width="0.8"/>
<text x="15.0" y="79.5" font-size="4" fill="#8a8a8a" text-anchor="middle">10²</text>
<line x1="33.5" y1="73.0" x2="33.5" y2="74.5" stroke="#555" stroke-width="0.8"/>
<text x="33.5" y="79.5" font-size="4" fill="#8a8a8a" text-anchor="middle">10³</text>
<line x1="50.0" y1="73.0" x2="50.0" y2="74.5" stroke="#555" stroke-width="0.8"/>
<text x="50.0" y="79.5" font-size="4" fill="#8a8a8a" text-anchor="middle">10⁴</text>
<line x1="66.0" y1="73.0" x2="66.0" y2="74.5" stroke="#555" stroke-width="0.8"/>
<text x="66.0" y="79.5" font-size="4" fill="#8a8a8a" text-anchor="middle">10⁵</text>
<line x1="32.00" y1="0" x2="32.00" y2="73.00" stroke="#505050" stroke-width="1"/>
<line x1="0" y1="37.00" x2="74.50" y2="37.00" stroke="#505050" stroke-width="1"/>
<g stroke="#000" stroke-width="0.15">
<text x="1.6" y="10.3" font-size="9.8">0.74</text>
<text x="73.30" y="10.3" font-size="9.8" text-anchor="end">2.91e-3</text>
<text x="1.6" y="72.00" font-size="9.8">98.6</text>
<text x="73.30" y="72.00" font-size="9.8" text-anchor="end">0.7</text>
</g>
</g>
<g transform="translate(583.00 151.50)">
<clipPath id="c12"><rect x="0" y="0" width="75.00" height="73.00"/></clipPath>
<g clip-path="url(#c12)">
<g transform="translate(0.00 -0.50)">
<g filter="url(#bl2)">
<path d="M28.8 78.4L25.5 78.5L22.5 77.8L17.8 75.5L12.8 72.2L10.3 69.7L8.6 67L7.4 64L6.8 60.7L6.9 57.7L7.3 55L8.3 52.3L9.8 49.7L12.4 46.7L21 39.3L22.5 37.3L22.9 35.7L22.7 34L19.9 29L19.5 27.3L19.5 25.7L20 24L21.3 22.3L22.8 21.3L24.8 20.9L26.5 21L28.2 21.8L29.7 23.3L30.5 25L30.7 28L29.1 34L29.2 35.7L29.8 37L30.8 37.9L32.2 38.5L37.5 39L40.2 39.6L42.5 40.7L44.8 42.4L48.8 46.3L52 50.3L53.8 54L54.5 57.7L54.2 61.3L52.7 65.3L50 69L46.2 72.6L43.2 74.6L40.2 76L28.8 78.4Z" fill="url(#p1)" fill-rule="evenodd"/>
<path d="M26.2 31.8L25.2 31.8L23.5 30.6L22.2 29L21.6 27.3L21.6 26L22.2 24.6L23.2 23.6L24.5 23L25.8 23.1L27.2 23.7L28.1 24.7L28.6 26L28.7 27.7L28.2 29.3L27.2 31L26.2 31.8ZM28.2 75.7L25.5 75.7L22.5 74.8L19.8 73.2L16.4 70.3L13.8 67.7L12.1 65.3L11 62.7L10.5 59.7L10.6 57.3L11.1 55L12.1 52.7L13.6 50.3L20.5 42.6L24.2 39.7L26.2 38.9L31.8 40.7L38.8 41.4L40.8 42.1L42.8 43.4L45.9 46.3L48.7 50.3L50.3 54L51 57.3L50.7 60.7L49.4 64L47 67.7L43.8 70.8L41.8 72.2L39.5 73.2L33.1 74.3L28.2 75.7Z" fill="url(#p2)" fill-rule="evenodd"/>
<path d="M28.5 73.4L25.5 73.5L22.8 72.6L19.9 70.3L17 67L15.1 63.7L14.1 60.7L14 57.7L14.8 54.3L16.7 50.3L19.3 46.3L21.8 43.7L24.2 42.2L25.5 41.7L27.2 41.6L31.9 42.7L36.8 42.8L39.5 43.5L41.8 44.8L43.8 46.6L45.7 49L47.1 51.7L48 54.3L48.4 57L48.3 59.3L47.6 62L46.6 64.3L45.1 66.7L43.2 68.7L41.2 70.2L38.2 71.4L32.8 72.1L28.5 73.4Z" fill="url(#p3)" fill-rule="evenodd"/>
</g><g filter="url(#bl)">
<path d="M27.8 71.7L25.2 71.6L22.5 70.3L20.1 68L18 64.7L16.9 61.7L16.5 58.3L16.9 55L18 51.7L19.3 49L21.2 46.5L23.2 44.7L25.2 43.7L27.5 43.5L32.2 44.4L37.2 44.5L39.5 45.2L41.5 46.4L43.4 48.3L44.7 50.3L45.9 53L46.4 55.3L46.6 58L46.3 60.3L45.4 63L42.9 66.7L39.8 69L37.5 69.8L32.5 70.3L27.8 71.7Z" fill="#4262fa" fill-rule="evenodd"/>
<path d="M28.2 70L25.5 70L23.2 69L21.1 67L19.3 64L18.4 61L18.1 57.7L18.5 54.3L19.7 51L21.1 48.7L22.5 47L24.2 45.8L25.8 45.1L27.8 45.1L32.2 46L36.8 46L39.2 46.6L40.9 47.7L42.5 49.3L43.8 51.3L44.7 53.7L45.2 56L45.2 58.3L44.8 60.7L44 62.7L41.8 65.8L39.2 67.7L37.2 68.3L32.5 68.7L28.2 70Z" fill="#2848f6" fill-rule="evenodd"/>
<path d="M28.5 67L26.5 67.3L24.5 66.7L22.6 65L21.3 62.7L20.5 59.7L20.4 56.7L21 53.7L22.2 51L24.2 48.8L26.5 47.9L28.2 47.9L32.2 48.8L36.8 48.7L39.2 49.5L41.5 52L42.7 55.3L42.7 59L41.5 62.3L40.1 64L38.2 65.2L36.5 65.6L32.2 65.7L28.5 67Z" fill="#2a78ff" fill-rule="evenodd"/>
<path d="M28.2 66.4L26.2 66.5L24.3 65.7L22.7 64L21.5 61.7L21 59L21 56L21.7 53.3L22.8 51.1L24.6 49.3L26.8 48.6L31.8 49.6L36.8 49.5L39.2 50.4L41.2 52.7L42.2 55.7L42.1 59L40.8 62.1L39.5 63.5L37.8 64.5L36.2 64.8L32.2 64.9L28.2 66.4Z" fill="#30b6f2" fill-rule="evenodd"/>
<path d="M27.8 65.7L25.8 65.7L24.2 64.8L22.8 63.2L21.9 61L21.5 58.7L21.5 56L22.2 53.3L23.4 51.3L25.2 49.8L27.2 49.3L31.8 50.4L36.8 50.2L39.2 51.2L40.8 53.3L41.7 56.3L41.4 59.3L40.2 61.9L38.8 63.2L37.5 63.8L32.2 64.1L27.8 65.7Z" fill="#4adcc0" fill-rule="evenodd"/>
<path d="M27.8 65L26.2 65L24.5 64.2L23.2 62.7L22.3 60.7L21.9 58.3L22.1 55.7L22.8 53.3L23.8 51.6L25.5 50.3L27.2 50L31.8 51.2L36.8 50.9L39.1 52L40.5 54L41.2 56.7L40.8 59.3L39.6 61.7L38.5 62.6L37.2 63.2L32.2 63.3L27.8 65Z" fill="#72e882" fill-rule="evenodd"/>
<path d="M28.2 63.7L26.5 63.9L25.2 63.4L23.9 62L23.1 60.3L22.7 58.3L22.8 56L23.4 54L24.5 52.3L25.8 51.4L27.5 51.2L31.8 52.6L36.8 52.2L38.8 53.3L39.8 55.1L40.2 57.3L39.7 59.3L38.6 61L36.5 62L31.8 62L28.2 63.7Z" fill="#b6f04a" fill-rule="evenodd"/>
<path d="M28.2 62.4L26.8 62.6L25.5 62.1L24.5 61L23.9 59.7L23.6 57.7L23.8 55.7L24.5 54.1L25.5 53L26.5 52.5L27.8 52.6L32.2 54.5L36.5 53.7L38.2 54.7L38.8 56L38.9 57.7L38.5 59L37.6 60L35.8 60.5L32.2 60L28.2 62.4Z" fill="#eee631" fill-rule="evenodd"/>
<path d="M27.8 61.1L26.8 61.2L25.8 60.8L24.9 59.7L24.6 58.3L24.6 56.7L25 55.3L25.8 54.3L26.8 53.8L27.8 53.9L29.1 54.7L30.3 56L30.8 57L30.7 58L30 59.3L27.8 61.1ZM36.2 58.4L35.2 58.2L34.5 57.3L34.8 56.3L35.8 55.8L36.8 56.2L37.2 57L36.8 58L36.2 58.4Z" fill="#f4a228" fill-rule="evenodd"/>
<path d="M27.2 60L25.9 59.3L25.3 57.7L25.8 55.8L27.2 55L28.5 55.7L29.2 57.3L28.7 59L27.2 60Z" fill="#e6461a" fill-rule="evenodd"/>
</g></g>
</g>
<rect x="0" y="0" width="75.00" height="73.00" fill="none" stroke="#a4a4a4" stroke-width="1"/>
<path d="M0 0V73.00H75.00" fill="none" stroke="#7a7a7a" stroke-width="1"/>
<line x1="-1.5" y1="6.5" x2="0" y2="6.5" stroke="#555" stroke-width="0.8"/>
<text x="-2.5" y="7.8" font-size="4" fill="#8a8a8a" text-anchor="end">10⁵</text>
<line x1="-1.5" y1="23.0" x2="0" y2="23.0" stroke="#555" stroke-width="0.8"/>
<text x="-2.5" y="24.3" font-size="4" fill="#8a8a8a" text-anchor="end">10⁴</text>
<line x1="-1.5" y1="40.0" x2="0" y2="40.0" stroke="#555" stroke-width="0.8"/>
<text x="-2.5" y="41.3" font-size="4" fill="#8a8a8a" text-anchor="end">10³</text>
<line x1="-1.5" y1="57.5" x2="0" y2="57.5" stroke="#555" stroke-width="0.8"/>
<text x="-2.5" y="58.8" font-size="4" fill="#8a8a8a" text-anchor="end">10²</text>
<line x1="-1.5" y1="65.5" x2="0" y2="65.5" stroke="#555" stroke-width="0.8"/>
<text x="-2.5" y="66.8" font-size="4" fill="#8a8a8a" text-anchor="end">0</text>
<line x1="7.5" y1="73.0" x2="7.5" y2="74.5" stroke="#555" stroke-width="0.8"/>
<text x="7.5" y="79.5" font-size="4" fill="#8a8a8a" text-anchor="middle">0</text>
<line x1="15.0" y1="73.0" x2="15.0" y2="74.5" stroke="#555" stroke-width="0.8"/>
<text x="15.0" y="79.5" font-size="4" fill="#8a8a8a" text-anchor="middle">10²</text>
<line x1="33.5" y1="73.0" x2="33.5" y2="74.5" stroke="#555" stroke-width="0.8"/>
<text x="33.5" y="79.5" font-size="4" fill="#8a8a8a" text-anchor="middle">10³</text>
<line x1="50.0" y1="73.0" x2="50.0" y2="74.5" stroke="#555" stroke-width="0.8"/>
<text x="50.0" y="79.5" font-size="4" fill="#8a8a8a" text-anchor="middle">10⁴</text>
<line x1="66.0" y1="73.0" x2="66.0" y2="74.5" stroke="#555" stroke-width="0.8"/>
<text x="66.0" y="79.5" font-size="4" fill="#8a8a8a" text-anchor="middle">10⁵</text>
<line x1="32.00" y1="0" x2="32.00" y2="73.00" stroke="#505050" stroke-width="1"/>
<line x1="0" y1="37.25" x2="75.00" y2="37.25" stroke="#505050" stroke-width="1"/>
<rect x="32.00" y="37.25" width="43.00" height="35.75" fill="none" stroke="#cc1f1f" stroke-width="2"/>
<g stroke="#000" stroke-width="0.15">
<text x="1.6" y="10.3" font-size="9.8">0.72</text>
<text x="73.80" y="10.3" font-size="9.8" text-anchor="end">0.03</text>
<text x="1.6" y="72.00" font-size="9.8">52.6</text>
<text x="73.80" y="72.00" font-size="9.8" text-anchor="end">46.6</text>
</g>
</g>
<g transform="translate(120.75 236.00)">
<clipPath id="c13"><rect x="0" y="0" width="72.75" height="73.50"/></clipPath>
<g clip-path="url(#c13)">
<g transform="translate(-0.75 0.00)">
<g filter="url(#bl2)">
<path d="M29.6 79.5L12.4 79.5L9.2 76.3L6.8 72.2L5.1 67.2L4.4 62.2L4.4 58.2L4.8 54.5L5.7 50.8L7.1 47.5L8.6 44.8L10.4 42.5L16.2 37.9L18.1 35.8L19.2 33.2L20.5 26.5L21.6 23.1L23.3 20.5L24.6 19.7L25.6 19.5L26.9 19.8L27.9 20.5L29.8 23.5L30.8 27.2L31.8 35.5L32.9 38.5L34.9 42.1L35.9 43.5L37.2 44.7L42.6 46.3L45.9 48.6L47.3 50.2L48.4 52.2L49.3 54.5L49.6 56.8L49.6 59.5L48.9 62.2L47.9 64.5L46.4 66.5L43.2 69L37.2 71.5L31.9 77.7L29.6 79.5Z" fill="url(#p1)" fill-rule="evenodd"/>
<path d="M25.6 78.9L22.6 79.1L19.2 78.4L15.9 76.7L13.2 74.4L11.1 71.5L9.5 68.2L8.5 64.2L8.2 60.2L8.8 54.8L10.5 50.2L12.5 47.2L17.6 41.5L21.1 36.8L22.4 33.8L23.7 27.5L24.6 26.2L25.6 25.7L26.6 26.1L27.5 27.5L29.1 35.5L35.6 48.7L37.6 51.4L40.9 53.2L42 54.2L43 55.8L43.4 57.8L43.1 59.5L42.3 61.2L37.6 65L33.5 72.2L31.6 74.9L28.6 77.6L25.6 78.9Z" fill="url(#p2)" fill-rule="evenodd"/>
<path d="M24.2 76.8L21.9 76.5L19.6 75.5L17.3 73.8L15.1 71.5L13.4 68.8L12.3 66.2L11.6 63.2L11.5 59.8L12.3 54.8L14.8 49.8L21.2 40.4L23.6 38.3L25.6 37.6L27.2 38.2L28.9 39.7L30.5 41.8L31.9 44.5L33.4 48.5L34.7 53.5L35.3 56.8L35.5 59.8L35.1 63.2L34.4 66.2L33.1 69.5L31.7 72.2L30 74.2L28.2 75.6L26.2 76.5L24.2 76.8Z" fill="url(#p3)" fill-rule="evenodd"/>
</g><g filter="url(#bl)">
<path d="M25.6 74.8L23.6 74.9L21.6 74.3L19.6 73L17.8 71.2L16.2 68.8L15 66.2L14.4 63.5L14.2 60.8L14.4 57.8L15.2 54.8L19.2 46.5L20.9 43.7L22.6 41.9L23.9 41L25.6 40.6L27.2 41.1L28.6 42.2L29.9 43.9L31.1 46.2L33.1 53.2L33.8 59.8L33.2 65.5L31.5 69.8L28.9 73.2L27.2 74.3L25.6 74.8Z" fill="#4262fa" fill-rule="evenodd"/>
<path d="M25.9 73.2L24.2 73.4L22.6 73L20.9 72L19.2 70.4L17 66.5L16.3 63.8L16 61.2L16.2 58.5L16.9 55.5L19.7 48.5L22.6 44.2L24.2 43.1L25.6 42.8L26.9 43.2L28.2 44.2L30.3 47.5L32 53.5L32.7 59.8L32.2 64.8L30.8 68.8L28.6 71.7L25.9 73.2Z" fill="#2848f6" fill-rule="evenodd"/>
<path d="M24.9 70.5L22.5 69.8L20.3 67.5L19 64.2L18.6 60.5L19.3 55.8L21.3 50.8L23.4 47.8L24.6 47.1L25.6 46.9L26.6 47.2L27.6 48.1L29.2 51.1L30.5 55.8L30.9 60.8L30.4 64.5L29 67.8L27.2 69.7L24.9 70.5Z" fill="#2a78ff" fill-rule="evenodd"/>
<path d="M25.9 69.6L23.6 69.5L21.3 67.8L19.8 64.8L19.2 61.2L19.7 56.8L21.2 52.5L23.2 49.2L24.2 48.4L25.2 48.1L26.9 48.7L28.6 51.1L29.9 55.2L30.4 59.5L30.2 63.2L29.3 66.2L27.9 68.3L25.9 69.6Z" fill="#30b6f2" fill-rule="evenodd"/>
<path d="M25.9 68.9L24.6 69L23.6 68.8L21.6 67.2L20.2 64.5L19.7 61.2L20.1 57.2L21.5 53.2L23.2 50.4L24.2 49.5L25.2 49.2L26.9 49.9L28.2 51.9L29.5 55.5L30 59.5L29.8 62.8L29 65.5L27.6 67.8L25.9 68.9Z" fill="#4adcc0" fill-rule="evenodd"/>
<path d="M25.9 68.2L23.9 68.2L22 66.8L20.8 64.5L20.2 61.2L20.6 57.5L21.8 53.8L23.6 51.2L25.2 50.3L26.7 50.8L28.1 52.8L29.2 56.2L29.6 59.5L29.4 62.5L28.7 65.2L27.6 67L25.9 68.2Z" fill="#72e882" fill-rule="evenodd"/>
<path d="M25.9 66.9L24.2 67.1L22.6 65.9L21.5 63.8L21 61.2L21.3 58.2L22.2 55.2L23.6 53.1L25.2 52.1L26.6 52.7L27.6 54.2L28.5 56.8L28.9 59.5L28.8 61.8L28.2 64.2L27.2 65.9L25.9 66.9Z" fill="#b6f04a" fill-rule="evenodd"/>
<path d="M25.9 65.5L24.6 65.8L23.2 65L22.2 63.2L21.9 61.2L22.1 58.5L22.9 56.2L23.9 54.7L25.2 54.1L26.2 54.5L27 55.5L27.7 57.2L28.1 59.5L28 61.5L27.6 63.3L26.9 64.6L25.9 65.5Z" fill="#eee631" fill-rule="evenodd"/>
<path d="M25.6 64.3L24.6 64.4L23.6 63.6L23 62.5L22.7 60.8L22.9 58.9L23.6 57.2L24.2 56.3L25.2 55.9L25.9 56.2L26.6 57.1L27.3 59.8L26.9 62.6L26.2 63.7L25.6 64.3Z" fill="#f4a228" fill-rule="evenodd"/>
<path d="M25.6 62.9L24.9 63.1L24.2 62.8L23.5 61.2L23.8 58.8L24.9 57.5L25.9 58L26.5 59.8L26.3 61.8L25.6 62.9Z" fill="#e6461a" fill-rule="evenodd"/>
</g></g>
</g>
<rect x="0" y="0" width="72.75" height="73.50" fill="none" stroke="#a4a4a4" stroke-width="1"/>
<path d="M0 0V73.50H72.75" fill="none" stroke="#7a7a7a" stroke-width="1"/>
<line x1="-1.5" y1="6.5" x2="0" y2="6.5" stroke="#555" stroke-width="0.8"/>
<text x="-2.5" y="7.8" font-size="4" fill="#8a8a8a" text-anchor="end">10⁵</text>
<line x1="-1.5" y1="23.0" x2="0" y2="23.0" stroke="#555" stroke-width="0.8"/>
<text x="-2.5" y="24.3" font-size="4" fill="#8a8a8a" text-anchor="end">10⁴</text>
<line x1="-1.5" y1="40.0" x2="0" y2="40.0" stroke="#555" stroke-width="0.8"/>
<text x="-2.5" y="41.3" font-size="4" fill="#8a8a8a" text-anchor="end">10³</text>
<line x1="-1.5" y1="57.5" x2="0" y2="57.5" stroke="#555" stroke-width="0.8"/>
<text x="-2.5" y="58.8" font-size="4" fill="#8a8a8a" text-anchor="end">10²</text>
<line x1="-1.5" y1="65.5" x2="0" y2="65.5" stroke="#555" stroke-width="0.8"/>
<text x="-2.5" y="66.8" font-size="4" fill="#8a8a8a" text-anchor="end">0</text>
<line x1="7.5" y1="73.5" x2="7.5" y2="75.0" stroke="#555" stroke-width="0.8"/>
<text x="7.5" y="80.0" font-size="4" fill="#8a8a8a" text-anchor="middle">0</text>
<line x1="15.0" y1="73.5" x2="15.0" y2="75.0" stroke="#555" stroke-width="0.8"/>
<text x="15.0" y="80.0" font-size="4" fill="#8a8a8a" text-anchor="middle">10²</text>
<line x1="33.5" y1="73.5" x2="33.5" y2="75.0" stroke="#555" stroke-width="0.8"/>
<text x="33.5" y="80.0" font-size="4" fill="#8a8a8a" text-anchor="middle">10³</text>
<line x1="50.0" y1="73.5" x2="50.0" y2="75.0" stroke="#555" stroke-width="0.8"/>
<text x="50.0" y="80.0" font-size="4" fill="#8a8a8a" text-anchor="middle">10⁴</text>
<line x1="66.0" y1="73.5" x2="66.0" y2="75.0" stroke="#555" stroke-width="0.8"/>
<text x="66.0" y="80.0" font-size="4" fill="#8a8a8a" text-anchor="middle">10⁵</text>
<line x1="31.00" y1="0" x2="31.00" y2="73.50" stroke="#505050" stroke-width="1"/>
<line x1="0" y1="37.50" x2="72.75" y2="37.50" stroke="#505050" stroke-width="1"/>
<g stroke="#000" stroke-width="0.15">
<text x="1.6" y="10.3" font-size="9.8">1.07</text>
<text x="71.55" y="10.3" font-size="9.8" text-anchor="end">0.039</text>
<text x="1.6" y="72.50" font-size="9.8">95.7</text>
<text x="71.55" y="72.50" font-size="9.8" text-anchor="end">3.23</text>
</g>
</g>
<g transform="translate(208.25 236.50)">
<clipPath id="c14"><rect x="0" y="0" width="73.75" height="73.25"/></clipPath>
<g clip-path="url(#c14)">
<g transform="translate(-0.25 -0.50)">
<g filter="url(#bl2)">
<path d="M28.1 79.7L13.4 79.7L12.1 79.1L8.9 76L6.3 71.7L4.6 66.7L3.8 61.3L3.8 57.3L4.3 53.7L5.2 50L6.6 46.7L8.1 44.1L9.8 42L15.8 37.2L17.3 35.3L18.4 33L20 26.3L21.1 23.3L22.8 21L24.8 20L26.1 20.2L27.1 20.8L28.9 23.3L30.1 27L31.4 35.1L32.4 37.7L34.1 40.4L36.1 42.3L42.4 43.9L44.4 44.9L46.4 46.5L48.3 48.7L49.5 51L50.4 53.7L50.8 56.3L50.6 59.7L49.8 62.7L48.5 65.3L46.7 67.7L44.8 69.3L42.8 70.4L37.4 72L35.8 72.8L30.4 78L28.1 79.7Z" fill="url(#p1)" fill-rule="evenodd"/>
<path d="M24.8 78.4L21.8 78.5L18.4 77.7L15.2 76L12.5 73.7L10.3 70.7L8.8 67.3L7.9 63.7L7.6 59.7L8.2 54.3L9.9 49.7L11.8 46.7L16.4 41.6L19.8 37L21.3 34L23.1 27.9L24.1 26.5L25.1 26.1L26.1 26.6L26.8 27.7L29 35.7L34.4 45.7L36.4 47.7L40.8 48.9L43.4 50.6L45.4 53.7L46.1 57.3L45.3 61L43.4 63.8L41.4 65.3L36.4 67.4L30.1 75.4L27.4 77.4L24.8 78.4Z" fill="url(#p2)" fill-rule="evenodd"/>
<path d="M25.1 76.1L22.8 76.2L20.1 75.5L17.4 73.9L15.1 71.7L13.2 69L12 66.3L11.2 63.3L10.9 60L11.5 55L13.5 50.3L20.4 40L22.8 37.6L24.8 36.7L26.1 37L27.4 38L30.6 42.3L35.6 54.7L36.2 57.7L35.9 60L34.9 63.3L31.9 70.3L30.4 72.5L28.8 74.2L26.8 75.5L25.1 76.1Z" fill="url(#p3)" fill-rule="evenodd"/>
</g><g filter="url(#bl)">
<path d="M24.1 74.3L22.1 74.1L20.1 73.2L18.4 71.9L16.7 70L15.3 67.7L14.3 65L13.7 62.3L13.6 59.7L13.9 56.7L14.8 53.7L18.9 45.3L20.4 43L22.1 41.1L23.8 40.1L25.1 39.9L26.8 40.5L28.1 41.6L30.6 45.7L32.9 53.3L33.5 59.7L32.6 65.3L30.5 70L29.1 71.9L27.4 73.3L25.8 74.1L24.1 74.3Z" fill="#4262fa" fill-rule="evenodd"/>
<path d="M24.8 72.7L23.1 72.7L21.4 72.1L19.8 71L18.3 69.3L16.2 65.3L15.5 60.3L15.6 57.7L16.3 54.7L19.2 47.7L22.1 43.5L23.4 42.5L24.8 42.2L26.1 42.4L27.4 43.3L29.6 46.7L31.6 53L32.3 59.3L31.7 64.3L30.2 68.3L27.8 71.3L26.4 72.2L24.8 72.7Z" fill="#2848f6" fill-rule="evenodd"/>
<path d="M25.4 69.7L24.1 69.9L22.8 69.6L20.4 67.9L18.7 64.7L18 60.7L18.5 56L20.3 51L22.4 47.6L23.4 46.8L24.8 46.3L25.8 46.5L26.8 47.2L28.4 49.8L29.8 54.3L30.4 59L30.1 62.7L29.1 66L27.4 68.5L25.4 69.7Z" fill="#2a78ff" fill-rule="evenodd"/>
<path d="M25.1 69L22.8 68.8L20.6 67L19.1 64L18.6 60.3L19.1 56L20.7 51.7L22.8 48.5L23.8 47.8L24.8 47.5L26.4 48.1L28.1 50.7L29.3 54.7L29.9 59.3L29.6 62.7L28.7 65.7L27.1 67.9L25.1 69Z" fill="#30b6f2" fill-rule="evenodd"/>
<path d="M24.8 68.4L22.8 68.1L20.8 66.3L19.6 63.7L19.1 60.3L19.6 56.3L21.1 52.3L22.8 49.7L23.8 48.9L24.8 48.6L26.4 49.4L27.9 51.7L29.1 55.7L29.5 59.7L29.1 63L28.1 65.7L26.4 67.7L24.8 68.4Z" fill="#4adcc0" fill-rule="evenodd"/>
<path d="M24.8 67.7L22.8 67.3L21.1 65.7L20 63.3L19.6 60.3L20 56.7L21.3 53L23.1 50.5L24.8 49.6L26.4 50.5L27.7 52.7L28.7 56L29 59.7L28.7 62.7L27.9 65L26.4 66.9L24.8 67.7Z" fill="#72e882" fill-rule="evenodd"/>
<path d="M25.1 66.4L23.4 66.4L21.8 65L20.8 63L20.4 60.3L20.7 57.3L21.8 54.4L23.1 52.3L24.8 51.5L26.1 52.2L27.1 53.7L27.9 56.3L28.3 59.3L28.1 62L27.4 64L26.4 65.5L25.1 66.4Z" fill="#b6f04a" fill-rule="evenodd"/>
<path d="M25.1 65.1L23.8 65.1L22.6 64.3L21.7 62.7L21.3 60.7L21.4 58.3L22.1 56.1L23.1 54.4L24.4 53.5L25.4 53.7L26.4 54.9L27.1 56.7L27.5 59L27.4 61L26.9 63L26.1 64.3L25.1 65.1Z" fill="#eee631" fill-rule="evenodd"/>
<path d="M24.8 63.8L23.8 63.7L23 63L22.4 61.9L22.1 60.3L22.8 57L23.4 55.9L24.4 55.3L25.1 55.4L25.9 56.3L26.7 59.3L26.2 62.3L25.5 63.3L24.8 63.8Z" fill="#f4a228" fill-rule="evenodd"/>
<path d="M24.8 62.4L24.1 62.5L23.5 62L22.9 60.3L23.3 58L24.4 56.9L25.4 57.5L25.9 59.3L25.7 61.3L24.8 62.4Z" fill="#e6461a" fill-rule="evenodd"/>
</g></g>
</g>
<rect x="0" y="0" width="73.75" height="73.25" fill="none" stroke="#a4a4a4" stroke-width="1"/>
<path d="M0 0V73.25H73.75" fill="none" stroke="#7a7a7a" stroke-width="1"/>
<line x1="-1.5" y1="6.5" x2="0" y2="6.5" stroke="#555" stroke-width="0.8"/>
<text x="-2.5" y="7.8" font-size="4" fill="#8a8a8a" text-anchor="end">10⁵</text>
<line x1="-1.5" y1="23.0" x2="0" y2="23.0" stroke="#555" stroke-width="0.8"/>
<text x="-2.5" y="24.3" font-size="4" fill="#8a8a8a" text-anchor="end">10⁴</text>
<line x1="-1.5" y1="40.0" x2="0" y2="40.0" stroke="#555" stroke-width="0.8"/>
<text x="-2.5" y="41.3" font-size="4" fill="#8a8a8a" text-anchor="end">10³</text>
<line x1="-1.5" y1="57.5" x2="0" y2="57.5" stroke="#555" stroke-width="0.8"/>
<text x="-2.5" y="58.8" font-size="4" fill="#8a8a8a" text-anchor="end">10²</text>
<line x1="-1.5" y1="65.5" x2="0" y2="65.5" stroke="#555" stroke-width="0.8"/>
<text x="-2.5" y="66.8" font-size="4" fill="#8a8a8a" text-anchor="end">0</text>
<line x1="7.5" y1="73.2" x2="7.5" y2="74.8" stroke="#555" stroke-width="0.8"/>
<text x="7.5" y="79.8" font-size="4" fill="#8a8a8a" text-anchor="middle">0</text>
<line x1="15.0" y1="73.2" x2="15.0" y2="74.8" stroke="#555" stroke-width="0.8"/>
<text x="15.0" y="79.8" font-size="4" fill="#8a8a8a" text-anchor="middle">10²</text>
<line x1="33.5" y1="73.2" x2="33.5" y2="74.8" stroke="#555" stroke-width="0.8"/>
<text x="33.5" y="79.8" font-size="4" fill="#8a8a8a" text-anchor="middle">10³</text>
<line x1="50.0" y1="73.2" x2="50.0" y2="74.8" stroke="#555" stroke-width="0.8"/>
<text x="50.0" y="79.8" font-size="4" fill="#8a8a8a" text-anchor="middle">10⁴</text>
<line x1="66.0" y1="73.2" x2="66.0" y2="74.8" stroke="#555" stroke-width="0.8"/>
<text x="66.0" y="79.8" font-size="4" fill="#8a8a8a" text-anchor="middle">10⁵</text>
<line x1="31.00" y1="0" x2="31.00" y2="73.25" stroke="#505050" stroke-width="1"/>
<line x1="0" y1="37.75" x2="73.75" y2="37.75" stroke="#505050" stroke-width="1"/>
<g stroke="#000" stroke-width="0.15">
<text x="1.6" y="10.3" font-size="9.8">1.08</text>
<text x="72.55" y="10.3" font-size="9.8" text-anchor="end">0.057</text>
<text x="1.6" y="72.25" font-size="9.8">94.3</text>
<text x="72.55" y="72.25" font-size="9.8" text-anchor="end">4.56</text>
</g>
</g>
<g transform="translate(308.00 237.00)">
<clipPath id="c15"><rect x="0" y="0" width="74.50" height="73.00"/></clipPath>
<g clip-path="url(#c15)">
<g transform="translate(0.00 0.00)">
<g filter="url(#bl2)">
<path d="M29.2 78.8L12.8 78.8L9.6 75.8L7 71.8L5.2 66.8L4.3 61.2L4.2 57.2L4.7 53.2L5.7 49.5L7 46.2L8.5 43.7L10.2 41.5L16.2 36.7L17.8 34.8L19 32.2L20.4 25.8L21.5 22.9L23.2 20.5L25.2 19.5L26.5 19.6L27.5 20.2L29.5 23.1L30.6 26.5L31.8 34.6L32.8 37.1L34.5 40.1L35.5 41.3L36.8 42.2L42.8 43.8L44.8 44.8L46.5 46.2L48.3 48.2L49.6 50.5L50.5 53.2L50.9 55.8L50.7 58.8L50 61.8L48.7 64.5L46.9 66.8L43.5 69.4L36.5 71.8L31.2 77.2L29.2 78.8Z" fill="url(#p1)" fill-rule="evenodd"/>
<path d="M25.2 77.9L22.2 78L18.8 77.2L15.6 75.5L12.9 73.2L10.8 70.2L9.3 66.8L8.4 63.2L8 59.2L8.6 53.8L10.3 49.2L12.2 46.2L17.2 40.7L20.3 36.5L21.8 33.5L23.5 27.5L24.5 26L25.5 25.6L26.5 26.1L27.3 27.2L29.5 35.2L35.2 46L36.8 47.6L41.2 49L43.5 50.6L45.3 53.5L45.9 56.8L45.2 60.2L43.5 62.8L41.5 64.3L37.2 66.2L35.8 67.6L32.6 72.5L30.5 74.9L27.8 76.9L25.2 77.9Z" fill="url(#p2)" fill-rule="evenodd"/>
<path d="M25.8 75.5L23.5 75.7L20.8 75.1L18.2 73.6L15.9 71.5L14.1 69.2L12.6 66.2L11.7 63.2L11.3 59.8L12 54.5L14 49.8L20.8 39.6L23.2 37.1L25.2 36.2L26.5 36.5L27.8 37.5L29.5 39.4L31.2 42.2L32.7 45.5L35 52.2L36.1 57.2L35.9 59.8L35 63.5L32.3 69.8L29.4 73.5L27.8 74.7L25.8 75.5Z" fill="url(#p3)" fill-rule="evenodd"/>
</g><g filter="url(#bl)">
<path d="M24.5 73.8L22.5 73.6L20.5 72.7L18.6 71.2L16.9 69.2L15.6 66.8L14.7 64.5L14.2 61.8L14 59.2L14.4 56.2L15.2 53.2L19.3 44.8L20.8 42.5L22.5 40.7L24.2 39.6L25.5 39.4L27.2 39.9L28.5 41.1L31 45.2L33.3 52.8L33.9 59.2L33 64.8L31 69.5L29.5 71.4L27.8 72.8L26.2 73.6L24.5 73.8Z" fill="#4262fa" fill-rule="evenodd"/>
<path d="M25.2 72.2L23.5 72.2L21.8 71.6L20.2 70.4L18.7 68.8L17.5 66.8L16.6 64.5L15.9 59.5L16.2 56.5L17 53.5L20 46.5L21.5 44.2L22.8 42.7L24.2 41.9L25.5 41.7L26.8 42.1L28.2 43.1L30.3 46.8L32 52.8L32.7 59.2L32 64.2L30.4 68.2L28.2 70.9L26.8 71.7L25.2 72.2Z" fill="#2848f6" fill-rule="evenodd"/>
<path d="M25.8 69.2L24.5 69.4L23.2 69.1L20.8 67.4L19.1 64.2L18.4 60.2L19 55.5L20.8 50.5L22.8 47.2L23.8 46.3L25.2 45.8L26.2 46L27.2 46.6L28.8 49.2L30.2 53.8L30.8 58.5L30.6 62.2L29.5 65.5L27.8 68L25.8 69.2Z" fill="#2a78ff" fill-rule="evenodd"/>
<path d="M25.5 68.6L23.2 68.3L21 66.5L19.6 63.5L19 59.8L19.6 55.5L21.2 51.2L23.2 48.1L24.2 47.3L25.2 47L26.8 47.6L28.5 50.2L29.9 54.5L30.3 58.8L30.1 62.2L29.1 65.2L27.5 67.4L25.5 68.6Z" fill="#30b6f2" fill-rule="evenodd"/>
<path d="M25.5 67.8L24.2 67.9L23.2 67.6L21.3 65.8L20 63.2L19.6 59.8L20 55.8L21.5 51.8L23.2 49.2L24.2 48.4L25.2 48.1L26.8 48.8L28.3 51.2L29.4 54.8L29.9 58.8L29.6 62.2L28.7 64.8L27.3 66.8L25.5 67.8Z" fill="#4adcc0" fill-rule="evenodd"/>
<path d="M25.2 67.2L23.2 66.8L21.5 65.2L20.4 62.8L20 59.8L20.4 56.5L21.6 52.8L23.5 50L25.2 49.1L26.8 50L28.1 52.2L29.1 55.5L29.5 59.2L29.2 62.2L28.3 64.5L26.8 66.4L25.2 67.2Z" fill="#72e882" fill-rule="evenodd"/>
<path d="M25.5 65.9L23.8 65.9L22.2 64.5L21.2 62.5L20.9 59.8L21.2 56.8L22.2 53.9L23.5 51.9L25.2 51L26.5 51.7L27.5 53.2L28.4 55.8L28.7 58.8L28.5 61.5L27.9 63.5L26.8 65.1L25.5 65.9Z" fill="#b6f04a" fill-rule="evenodd"/>
<path d="M25.5 64.6L24.2 64.6L22.8 63.6L22 61.8L21.7 59.8L22 57.2L22.8 54.9L23.8 53.5L25.2 53L26.2 53.5L27.1 54.8L27.9 58.8L27.3 62.5L26.5 63.9L25.5 64.6Z" fill="#eee631" fill-rule="evenodd"/>
<path d="M25.2 63.3L24.2 63.2L23.4 62.5L22.8 61.3L22.6 59.8L23.2 56.6L23.8 55.5L24.8 54.8L25.5 54.9L26.3 55.8L27.1 58.8L26.6 61.8L25.9 62.8L25.2 63.3Z" fill="#f4a228" fill-rule="evenodd"/>
<path d="M25.2 62L24.5 62L23.9 61.5L23.4 59.8L23.8 57.5L24.8 56.4L25.8 57L26.4 58.8L26.1 60.8L25.2 62Z" fill="#e6461a" fill-rule="evenodd"/>
</g></g>
</g>
<rect x="0" y="0" width="74.50" height="73.00" fill="none" stroke="#a4a4a4" stroke-width="1"/>
<path d="M0 0V73.00H74.50" fill="none" stroke="#7a7a7a" stroke-width="1"/>
<line x1="-1.5" y1="6.5" x2="0" y2="6.5" stroke="#555" stroke-width="0.8"/>
<text x="-2.5" y="7.8" font-size="4" fill="#8a8a8a" text-anchor="end">10⁵</text>
<line x1="-1.5" y1="23.0" x2="0" y2="23.0" stroke="#555" stroke-width="0.8"/>
<text x="-2.5" y="24.3" font-size="4" fill="#8a8a8a" text-anchor="end">10⁴</text>
<line x1="-1.5" y1="40.0" x2="0" y2="40.0" stroke="#555" stroke-width="0.8"/>
<text x="-2.5" y="41.3" font-size="4" fill="#8a8a8a" text-anchor="end">10³</text>
<line x1="-1.5" y1="57.5" x2="0" y2="57.5" stroke="#555" stroke-width="0.8"/>
<text x="-2.5" y="58.8" font-size="4" fill="#8a8a8a" text-anchor="end">10²</text>
<line x1="-1.5" y1="65.5" x2="0" y2="65.5" stroke="#555" stroke-width="0.8"/>
<text x="-2.5" y="66.8" font-size="4" fill="#8a8a8a" text-anchor="end">0</text>
<line x1="7.5" y1="73.0" x2="7.5" y2="74.5" stroke="#555" stroke-width="0.8"/>
<text x="7.5" y="79.5" font-size="4" fill="#8a8a8a" text-anchor="middle">0</text>
<line x1="15.0" y1="73.0" x2="15.0" y2="74.5" stroke="#555" stroke-width="0.8"/>
<text x="15.0" y="79.5" font-size="4" fill="#8a8a8a" text-anchor="middle">10²</text>
<line x1="33.5" y1="73.0" x2="33.5" y2="74.5" stroke="#555" stroke-width="0.8"/>
<text x="33.5" y="79.5" font-size="4" fill="#8a8a8a" text-anchor="middle">10³</text>
<line x1="50.0" y1="73.0" x2="50.0" y2="74.5" stroke="#555" stroke-width="0.8"/>
<text x="50.0" y="79.5" font-size="4" fill="#8a8a8a" text-anchor="middle">10⁴</text>
<line x1="66.0" y1="73.0" x2="66.0" y2="74.5" stroke="#555" stroke-width="0.8"/>
<text x="66.0" y="79.5" font-size="4" fill="#8a8a8a" text-anchor="middle">10⁵</text>
<line x1="32.00" y1="0" x2="32.00" y2="73.00" stroke="#505050" stroke-width="1"/>
<line x1="0" y1="37.25" x2="74.50" y2="37.25" stroke="#505050" stroke-width="1"/>
<g stroke="#000" stroke-width="0.15">
<text x="1.6" y="10.3" font-size="9.8">0.92</text>
<text x="73.30" y="10.3" font-size="9.8" text-anchor="end">0.13</text>
<text x="1.6" y="72.00" font-size="9.8">95.1</text>
<text x="73.30" y="72.00" font-size="9.8" text-anchor="end">3.82</text>
</g>
</g>
<g transform="translate(397.00 237.00)">
<clipPath id="c16"><rect x="0" y="0" width="75.00" height="73.50"/></clipPath>
<g clip-path="url(#c16)">
<g transform="translate(0.00 0.00)">
<g filter="url(#bl2)">
<path d="M27.2 79.5L12.9 79.5L11.2 78.3L8.1 75.2L5.6 70.8L4 65.8L3.3 60.5L3.4 55.8L4.1 51.2L6.6 41.5L8.3 37.2L9.6 35.2L11.1 33.5L15.8 30.4L17.2 29.2L21.3 21.5L22.8 20L24.5 19.5L25.5 19.7L26.8 20.5L28.5 23.2L29.6 26.5L31.1 34.2L33.2 38.6L35.5 40.8L41.8 43.1L43.8 44.3L45.8 46.1L47.5 48.2L48.9 50.8L49.9 53.8L50.3 56.8L50.1 60.5L49.2 63.8L47.6 67.2L45.4 69.8L43.5 71.4L41.2 72.8L33.8 75.2L27.2 79.5Z" fill="url(#p1)" fill-rule="evenodd"/>
<path d="M24.2 77.9L21.2 78L17.8 77.1L14.7 75.5L12 73.2L10 70.5L8.3 66.8L7.4 63.2L7.1 59.2L7.3 55.8L8 52.2L11 42.8L12.2 39.8L14.2 37.2L19.2 32.7L22.8 26.3L23.5 25.7L24.5 25.4L25.5 25.9L26.5 27.3L28.9 35.2L33.2 43.1L35.2 45.2L40.5 47.3L43.3 49.5L44.7 51.5L45.6 53.5L46.4 57.8L46.1 60.5L45.3 62.8L44.2 64.9L42.5 66.8L39.8 68.6L34.8 70.6L28.5 76L26.2 77.3L24.2 77.9Z" fill="url(#p2)" fill-rule="evenodd"/>
<path d="M24.8 75.5L22.5 75.7L19.8 75.1L17.2 73.6L14.9 71.5L12.9 68.8L11.6 66.2L10.7 63.2L10.4 59.8L10.6 56.2L11.4 52.8L16.2 42.2L17.9 39.5L20 37.2L22.2 35.4L23.8 34.8L24.8 35L25.8 35.7L28.2 38.4L34.5 49.6L35.8 50.7L38.8 52.4L40.2 53.7L41.1 55.5L41.5 57.5L41.1 60.2L39.6 62.5L34.8 66L30.9 71.2L28.8 73.4L26.8 74.8L24.8 75.5Z" fill="url(#p3)" fill-rule="evenodd"/>
</g><g filter="url(#bl)">
<path d="M23.8 73.8L21.8 73.7L20.2 73L18.2 71.7L16.5 69.8L15 67.5L14 65.2L13.3 62.5L13 59.5L13.3 56.5L14.1 53.5L18.1 44.2L19.5 41.8L20.8 40.2L22.5 39L23.8 38.7L25.2 38.9L26.5 39.7L27.9 41.2L29.4 43.5L33 52.8L33.9 56.2L34.1 58.2L33.9 60.5L33.3 63.2L31.9 66.5L30.5 69.2L27.5 72.4L25.8 73.4L23.8 73.8Z" fill="#4262fa" fill-rule="evenodd"/>
<path d="M24.5 72.2L22.8 72.2L21.2 71.7L19.5 70.7L18 69.2L16.7 67.2L15.7 64.8L14.9 59.8L15.1 57.2L15.8 54.2L18.9 46.2L21.5 42.4L22.8 41.5L24.2 41.2L25.5 41.6L26.8 42.5L29.1 45.8L31.3 52.5L32.2 58.5L31.7 63.2L30 67.5L27.5 70.7L26.2 71.6L24.5 72.2Z" fill="#2848f6" fill-rule="evenodd"/>
<path d="M24.8 69.3L23.5 69.4L22.2 69.1L19.8 67.3L18.2 64.2L17.5 60.2L18 55.5L19.7 50.5L21.8 47L22.8 46.1L24.2 45.6L25.2 45.8L26.2 46.5L27.9 49.2L29.4 53.8L30 58.5L29.7 62.2L28.7 65.5L26.8 68.1L24.8 69.3Z" fill="#2a78ff" fill-rule="evenodd"/>
<path d="M24.5 68.6L22.2 68.3L20 66.5L18.6 63.5L18 59.8L18.6 55.5L20.2 51.1L22.2 47.9L23.2 47.1L24.2 46.8L25.2 47.1L26.2 47.8L27.6 50.2L29 54.5L29.5 58.8L29.2 62.2L28.2 65.3L26.5 67.5L24.5 68.6Z" fill="#30b6f2" fill-rule="evenodd"/>
<path d="M24.5 67.9L23.2 67.9L22.2 67.5L20.3 65.8L19 63.2L18.6 59.8L19.1 55.8L20.5 51.8L22.2 49.1L23.2 48.3L24.2 48L25.8 48.7L27.4 51.2L28.6 54.8L29 58.8L28.7 62.2L27.8 64.8L26.3 66.8L24.5 67.9Z" fill="#4adcc0" fill-rule="evenodd"/>
<path d="M24.5 67.2L22.5 67L20.7 65.5L19.5 62.8L19.1 59.8L19.5 56.2L20.8 52.5L22.5 49.9L24.2 49.1L25.8 49.9L27.2 52L28.2 55.5L28.6 58.8L28.3 61.8L27.5 64.4L26.2 66.2L24.5 67.2Z" fill="#72e882" fill-rule="evenodd"/>
<path d="M24.5 65.9L22.8 65.9L21.2 64.5L20.3 62.5L19.9 59.8L20.2 56.8L21.2 53.9L22.5 51.9L24.2 51L25.5 51.6L26.6 53.2L27.5 55.8L27.8 58.8L27.6 61.5L27 63.5L25.8 65.1L24.5 65.9Z" fill="#b6f04a" fill-rule="evenodd"/>
<path d="M24.5 64.6L23.2 64.6L21.8 63.5L21 61.8L20.7 59.8L21 57.2L21.8 54.9L22.8 53.5L24.2 52.9L25.2 53.4L26.1 54.8L27 58.8L26.4 62.5L25.5 63.9L24.5 64.6Z" fill="#eee631" fill-rule="evenodd"/>
<path d="M24.2 63.3L23.2 63.1L22.4 62.5L21.8 61.2L21.6 59.5L21.8 57.6L22.5 56L23.2 55.1L24.2 54.8L24.8 55.1L25.6 56.2L26.2 59.2L25.7 61.8L25 62.8L24.2 63.3Z" fill="#f4a228" fill-rule="evenodd"/>
<path d="M24.2 62L23.5 61.9L23 61.5L22.4 59.8L22.8 57.5L23.8 56.4L24.8 56.9L25.4 58.8L25.2 60.8L24.2 62Z" fill="#e6461a" fill-rule="evenodd"/>
</g></g>
</g>
<rect x="0" y="0" width="75.00" height="73.50" fill="none" stroke="#a4a4a4" stroke-width="1"/>
<path d="M0 0V73.50H75.00" fill="none" stroke="#7a7a7a" stroke-width="1"/>
<line x1="-1.5" y1="6.5" x2="0" y2="6.5" stroke="#555" stroke-width="0.8"/>
<text x="-2.5" y="7.8" font-size="4" fill="#8a8a8a" text-anchor="end">10⁵</text>
<line x1="-1.5" y1="23.0" x2="0" y2="23.0" stroke="#555" stroke-width="0.8"/>
<text x="-2.5" y="24.3" font-size="4" fill="#8a8a8a" text-anchor="end">10⁴</text>
<line x1="-1.5" y1="40.0" x2="0" y2="40.0" stroke="#555" stroke-width="0.8"/>
<text x="-2.5" y="41.3" font-size="4" fill="#8a8a8a" text-anchor="end">10³</text>
<line x1="-1.5" y1="57.5" x2="0" y2="57.5" stroke="#555" stroke-width="0.8"/>
<text x="-2.5" y="58.8" font-size="4" fill="#8a8a8a" text-anchor="end">10²</text>
<line x1="-1.5" y1="65.5" x2="0" y2="65.5" stroke="#555" stroke-width="0.8"/>
<text x="-2.5" y="66.8" font-size="4" fill="#8a8a8a" text-anchor="end">0</text>
<line x1="7.5" y1="73.5" x2="7.5" y2="75.0" stroke="#555" stroke-width="0.8"/>
<text x="7.5" y="80.0" font-size="4" fill="#8a8a8a" text-anchor="middle">0</text>
<line x1="15.0" y1="73.5" x2="15.0" y2="75.0" stroke="#555" stroke-width="0.8"/>
<text x="15.0" y="80.0" font-size="4" fill="#8a8a8a" text-anchor="middle">10²</text>
<line x1="33.5" y1="73.5" x2="33.5" y2="75.0" stroke="#555" stroke-width="0.8"/>
<text x="33.5" y="80.0" font-size="4" fill="#8a8a8a" text-anchor="middle">10³</text>
<line x1="50.0" y1="73.5" x2="50.0" y2="75.0" stroke="#555" stroke-width="0.8"/>
<text x="50.0" y="80.0" font-size="4" fill="#8a8a8a" text-anchor="middle">10⁴</text>
<line x1="66.0" y1="73.5" x2="66.0" y2="75.0" stroke="#555" stroke-width="0.8"/>
<text x="66.0" y="80.0" font-size="4" fill="#8a8a8a" text-anchor="middle">10⁵</text>
<line x1="31.75" y1="0" x2="31.75" y2="73.50" stroke="#505050" stroke-width="1"/>
<line x1="0" y1="36.75" x2="75.00" y2="36.75" stroke="#505050" stroke-width="1"/>
<rect x="31.75" y="36.75" width="43.25" height="36.75" fill="none" stroke="#cc1f1f" stroke-width="2"/>
<g stroke="#000" stroke-width="0.15">
<text x="1.6" y="10.3" font-size="9.8">0.81</text>
<text x="73.80" y="10.3" font-size="9.8" text-anchor="end">0.16</text>
<text x="1.6" y="72.50" font-size="9.8">92.3</text>
<text x="73.80" y="72.50" font-size="9.8" text-anchor="end">6.73</text>
</g>
</g>
<g transform="translate(495.50 236.50)">
<clipPath id="c17"><rect x="0" y="0" width="74.00" height="73.00"/></clipPath>
<g clip-path="url(#c17)">
<g transform="translate(-0.50 -0.50)">
<g filter="url(#bl2)">
<path d="M29 79.3L21 79.5L12.7 79.2L9.6 76.3L6.9 72L5.1 67L4.2 61.3L4.3 57.3L4.8 53.3L5.8 49.7L7.2 46.3L8.8 43.7L10.5 41.7L16 37.3L17.7 35.5L19 32.7L20.4 26.3L21.5 23.3L23.3 20.8L25.3 19.9L26.7 20.2L27.7 20.9L29.5 23.7L30.6 27L32 35.7L33.3 38.8L35 41.6L37 43.5L42.7 45.2L44.7 46.3L46.3 47.7L47.9 49.7L48.9 51.7L49.7 54L50 56.3L49.9 59L49.3 61.7L48.1 64.3L46.6 66.3L43.3 68.9L38.3 70.7L36.7 71.6L31.5 77.3L29 79.3Z" fill="url(#p1)" fill-rule="evenodd"/>
<path d="M25 78.4L22 78.5L18.7 77.6L15.6 76L12.9 73.7L10.8 70.7L9.3 67.3L8.4 63.7L8 59.7L8.6 54.7L10.3 49.7L12.2 46.7L17 41.4L20.3 37L21.8 34L23.6 27.7L24.3 26.6L25.3 26.1L26.3 26.4L27.3 27.8L29.3 35.3L35.3 47.5L37.3 49.8L41 51.3L42.7 52.6L43.9 54.7L44.4 57.3L44 59.5L43 61.4L41.7 62.7L38.3 64.5L37 65.7L33.2 72L31 74.9L28.3 77.1L25 78.4Z" fill="url(#p2)" fill-rule="evenodd"/>
<path d="M25.7 76L23.3 76.2L20.7 75.5L18.3 74.2L15.9 72L13.9 69.3L12.6 66.7L11.6 63.3L11.3 60L12.1 54.7L14.2 50L21 39.8L23.3 37.5L25.3 36.7L26.7 37.1L28.3 38.5L30 40.7L31.5 43.3L34.5 52L35.3 55.3L35.5 58.3L34.8 64L32.5 70L31 72.3L29.3 74.1L27.7 75.3L25.7 76Z" fill="url(#p3)" fill-rule="evenodd"/>
</g><g filter="url(#bl)">
<path d="M24.7 74.3L22.7 74.1L20.7 73.3L19 72L17.2 70L15.8 67.7L14.8 65.3L14.2 62.7L14 59.7L14.4 56.7L15.2 53.7L19.1 45.7L20.8 43L22.3 41.3L24 40.2L25.3 39.9L26.7 40.2L28.3 41.4L29.7 43.1L30.8 45.3L32.1 49L33.1 53L33.7 59.7L32.9 65.3L30.9 70L29.7 71.7L28 73.2L26.3 74L24.7 74.3Z" fill="#4262fa" fill-rule="evenodd"/>
<path d="M25.3 72.7L23.7 72.7L22 72.2L20.3 71.1L18.7 69.3L17.5 67.3L16.6 65L15.9 60.3L16.1 57.7L16.8 54.7L19.9 47.3L21.3 45L22.7 43.4L24 42.5L25.3 42.2L26.7 42.5L28 43.5L30.2 47L31.9 53L32.6 59.3L32.1 64L30.6 68.3L28.3 71.2L27 72.1L25.3 72.7Z" fill="#2848f6" fill-rule="evenodd"/>
<path d="M26 69.7L24.7 69.9L23.3 69.7L21 68L19.1 64.7L18.4 60.7L18.9 56.3L20.8 51L23 47.5L24.3 46.5L25.3 46.3L26.3 46.5L27.3 47.3L28.9 50L30.2 54.3L30.8 59L30.5 62.7L29.5 66L28 68.3L26 69.7Z" fill="#2a78ff" fill-rule="evenodd"/>
<path d="M25.7 69L23.3 68.9L22 68.1L21 67L19.5 64L19 60.3L19.5 56.3L21.2 51.7L23.3 48.4L24.3 47.7L25.3 47.5L27 48.3L28.7 51L29.8 55L30.3 59.3L30 62.7L29.1 65.7L27.7 67.8L25.7 69Z" fill="#30b6f2" fill-rule="evenodd"/>
<path d="M25.3 68.4L23.3 68.1L21.3 66.4L20 63.7L19.5 60.3L20 56.3L21.5 52.3L23.3 49.6L24.3 48.8L25.3 48.6L27 49.5L28.3 51.8L29.5 55.7L29.9 59.7L29.6 62.7L28.7 65.4L27.3 67.3L25.3 68.4Z" fill="#4adcc0" fill-rule="evenodd"/>
<path d="M25.3 67.7L23.3 67.4L21.7 66L20.4 63.3L20 60.3L20.5 56.7L21.8 53L23.7 50.3L25.3 49.7L26.7 50.3L28.1 52.7L29.1 56L29.5 59.7L29.1 62.7L28.3 65L27 66.8L25.3 67.7Z" fill="#72e882" fill-rule="evenodd"/>
<path d="M25.7 66.4L24 66.4L22.4 65.3L21.4 63.3L20.9 60.7L21.1 57.7L22 54.8L23.3 52.6L25 51.5L26.3 52L27.3 53.4L28.3 56L28.7 59L28.6 61.7L28 63.7L27 65.4L25.7 66.4Z" fill="#b6f04a" fill-rule="evenodd"/>
<path d="M25.3 65.1L24 65L22.8 64L22 62.3L21.7 60.3L21.9 58L22.7 55.7L23.7 54.2L25 53.5L26 53.8L27 55.2L27.7 57.2L27.9 59.3L27.3 63L26.3 64.5L25.3 65.1Z" fill="#eee631" fill-rule="evenodd"/>
<path d="M25.3 63.7L24.3 63.7L23.4 63L22.6 60.3L22.7 58.7L23.3 56.7L24 55.8L25 55.3L25.7 55.5L26.3 56.3L27.1 59.3L26.7 62.2L25.3 63.7Z" fill="#f4a228" fill-rule="evenodd"/>
<path d="M25.3 62.4L24.7 62.5L24 62.1L23.4 60.3L23.7 58L24.3 57.1L25 56.9L25.9 57.7L26.4 59.3L26.1 61.3L25.3 62.4Z" fill="#e6461a" fill-rule="evenodd"/>
</g></g>
</g>
<rect x="0" y="0" width="74.00" height="73.00" fill="none" stroke="#a4a4a4" stroke-width="1"/>
<path d="M0 0V73.00H74.00" fill="none" stroke="#7a7a7a" stroke-width="1"/>
<line x1="-1.5" y1="6.5" x2="0" y2="6.5" stroke="#555" stroke-width="0.8"/>
<text x="-2.5" y="7.8" font-size="4" fill="#8a8a8a" text-anchor="end">10⁵</text>
<line x1="-1.5" y1="23.0" x2="0" y2="23.0" stroke="#555" stroke-width="0.8"/>
<text x="-2.5" y="24.3" font-size="4" fill="#8a8a8a" text-anchor="end">10⁴</text>
<line x1="-1.5" y1="40.0" x2="0" y2="40.0" stroke="#555" stroke-width="0.8"/>
<text x="-2.5" y="41.3" font-size="4" fill="#8a8a8a" text-anchor="end">10³</text>
<line x1="-1.5" y1="57.5" x2="0" y2="57.5" stroke="#555" stroke-width="0.8"/>
<text x="-2.5" y="58.8" font-size="4" fill="#8a8a8a" text-anchor="end">10²</text>
<line x1="-1.5" y1="65.5" x2="0" y2="65.5" stroke="#555" stroke-width="0.8"/>
<text x="-2.5" y="66.8" font-size="4" fill="#8a8a8a" text-anchor="end">0</text>
<line x1="7.5" y1="73.0" x2="7.5" y2="74.5" stroke="#555" stroke-width="0.8"/>
<text x="7.5" y="79.5" font-size="4" fill="#8a8a8a" text-anchor="middle">0</text>
<line x1="15.0" y1="73.0" x2="15.0" y2="74.5" stroke="#555" stroke-width="0.8"/>
<text x="15.0" y="79.5" font-size="4" fill="#8a8a8a" text-anchor="middle">10²</text>
<line x1="33.5" y1="73.0" x2="33.5" y2="74.5" stroke="#555" stroke-width="0.8"/>
<text x="33.5" y="79.5" font-size="4" fill="#8a8a8a" text-anchor="middle">10³</text>
<line x1="50.0" y1="73.0" x2="50.0" y2="74.5" stroke="#555" stroke-width="0.8"/>
<text x="50.0" y="79.5" font-size="4" fill="#8a8a8a" text-anchor="middle">10⁴</text>
<line x1="66.0" y1="73.0" x2="66.0" y2="74.5" stroke="#555" stroke-width="0.8"/>
<text x="66.0" y="79.5" font-size="4" fill="#8a8a8a" text-anchor="middle">10⁵</text>
<line x1="32.00" y1="0" x2="32.00" y2="73.00" stroke="#505050" stroke-width="1"/>
<line x1="0" y1="36.50" x2="74.00" y2="36.50" stroke="#505050" stroke-width="1"/>
<g stroke="#000" stroke-width="0.15">
<text x="1.6" y="10.3" font-size="9.8">1.16</text>
<text x="72.80" y="10.3" font-size="9.8" text-anchor="end">0.056</text>
<text x="1.6" y="72.00" font-size="9.8">95.7</text>
<text x="72.80" y="72.00" font-size="9.8" text-anchor="end">3.06</text>
</g>
</g>
<g transform="translate(583.75 236.50)">
<clipPath id="c18"><rect x="0" y="0" width="73.75" height="73.50"/></clipPath>
<g clip-path="url(#c18)">
<g transform="translate(-0.75 -0.50)">
<g filter="url(#bl2)">
<path d="M28.2 80L18.1 80L15.6 78.7L13.2 76.9L10.4 73.3L8.3 69L7.1 64.3L6.6 59L6.7 55.3L7.3 51.7L8.3 48.3L9.7 45.3L12.8 41L18.2 36.7L19.9 34.8L21.2 32L22.8 26L23.9 23.2L25.6 21L27.6 20.1L28.9 20.3L29.9 21L31.7 23.7L32.8 27L34.2 35L35.6 38.2L36.9 40.3L39 42L44.9 43.8L48.2 45.2L52.9 48.2L55 50.3L56.7 53L57.7 55.7L58 58.3L57.6 61.3L56.6 64L54.9 66.5L52.6 68.6L50.2 70.1L47.6 71.2L37.7 73.7L31.2 78.6L28.2 80Z" fill="url(#p1)" fill-rule="evenodd"/>
<path d="M25.6 77.7L22.6 77.3L19.6 76.1L16.6 74L14.4 71.7L12.5 68.7L11.3 65.3L10.6 61.7L10.4 57.7L11.2 53L13 48.3L14.8 45.7L18.9 41.1L21.9 37.1L23.9 33.7L25.9 27.8L26.9 26.6L27.9 26.3L28.9 26.9L29.6 28L31.9 35.3L34.9 41L36.6 43.5L38.6 45L46.2 47.4L50.4 50L52.3 52L53.6 54L54.5 56.3L54.7 58.7L54.3 61L53.4 63L51.9 65L49.9 66.7L45.6 68.7L37.6 70.7L30.6 76.3L28.2 77.3L25.6 77.7Z" fill="url(#p2)" fill-rule="evenodd"/>
<path d="M26.9 75.3L24.6 75.2L21.9 74.1L19.6 72.5L17.5 70.3L15.8 67.7L14.6 65L13.9 61.7L13.7 58.7L14.5 53.7L16.7 49L23.3 39L25.6 36.7L27.6 35.8L29.2 36.5L30.9 38.1L35.6 45.5L36.9 47.1L38.6 48L44.6 49.9L48.3 52.3L50.5 55.3L51.2 58.3L50.9 60L50.2 61.7L47.7 64.3L44.2 66L37.6 67.7L35.9 69L30.9 73.9L28.9 74.9L26.9 75.3Z" fill="url(#p3)" fill-rule="evenodd"/>
</g><g filter="url(#bl)">
<path d="M27.9 73.3L25.9 73.5L23.9 72.9L21.9 71.7L20.2 70L18.6 67.7L17.3 65L16.6 62.3L16.4 59.3L16.6 56.3L17.4 53.3L21.4 45L24.6 40.6L26.2 39.4L27.6 39.1L29.2 39.6L31.2 41.4L35.2 48.3L36.6 50L38.2 51.2L42.2 52.5L44.2 53.7L46.1 55.7L46.8 58L46.3 60L44.9 61.7L42.9 62.8L37.6 64.6L36.2 65.8L31.6 71.4L29.9 72.6L27.9 73.3Z" fill="#4262fa" fill-rule="evenodd"/>
<path d="M28.2 71.7L26.2 71.9L24.6 71.4L22.9 70.5L21.4 69L20.1 67L19.1 64.7L18.2 59.7L18.4 57L19.1 54L21.9 47L23.5 44.3L24.9 42.7L26.2 41.7L27.6 41.4L29.6 42.1L31.3 44L35.6 52.3L38.4 56.7L38.7 57.7L38.1 59.3L32.6 68.3L30.6 70.5L28.2 71.7Z" fill="#2848f6" fill-rule="evenodd"/>
<path d="M27.6 69L26.2 69L24.9 68.5L22.9 66.7L21.3 63.3L20.8 59.3L21.4 54.7L23.2 49.9L25.4 46.7L26.6 45.8L27.6 45.6L28.6 45.8L29.6 46.5L31.5 49.3L33.2 54L33.8 58.3L33.3 62L31.8 65.7L29.9 67.9L27.6 69Z" fill="#2a78ff" fill-rule="evenodd"/>
<path d="M28.2 68.1L25.9 68.1L24.6 67.4L23.6 66.5L22 63.7L21.4 60L21.8 55.7L23.4 51L25.6 47.7L26.6 47L27.6 46.7L29.2 47.5L31 50L32.5 54L33.2 58L32.9 61.3L31.9 64.3L30.2 66.7L28.2 68.1Z" fill="#30b6f2" fill-rule="evenodd"/>
<path d="M28.2 67.4L27.2 67.6L25.9 67.4L24 66L22.5 63.3L21.9 60L22.2 56L23.6 52L25.6 48.9L26.6 48.1L27.6 47.8L29.2 48.6L30.8 51L32.1 54.7L32.6 58L32.4 61L31.4 64L29.9 66.2L28.2 67.4Z" fill="#4adcc0" fill-rule="evenodd"/>
<path d="M27.9 66.8L25.9 66.7L24.2 65.3L22.8 62.7L22.3 59.7L22.7 56L24 52.3L25.9 49.6L27.6 48.9L29.2 49.8L30.6 51.8L31.7 55L32.1 58.3L31.8 61.3L31 63.7L29.6 65.8L27.9 66.8Z" fill="#72e882" fill-rule="evenodd"/>
<path d="M27.2 65.7L25.6 65.2L24.2 63.7L23.4 61.7L23.2 59L23.6 56L24.6 53.3L26.1 51.3L27.6 50.7L28.9 51.4L30.2 53.5L31.1 56.3L31.3 59L30.9 61.6L30 63.7L28.9 65L27.2 65.7Z" fill="#b6f04a" fill-rule="evenodd"/>
<path d="M27.2 64.3L25.9 63.9L24.9 62.8L24.2 61L24 59L24.4 56.7L25.2 54.4L26.2 53.2L27.6 52.7L28.6 53.2L29.6 54.7L30.2 56.7L30.4 59L30.2 61L29.5 62.7L28.6 63.8L27.2 64.3Z" fill="#eee631" fill-rule="evenodd"/>
<path d="M27.9 62.7L26.9 62.9L25.9 62.3L25.2 61.2L24.9 59.7L25.1 57.7L25.6 56.1L26.2 55.1L27.2 54.5L28.2 54.8L28.9 55.7L29.6 58.3L29.2 61L27.9 62.7Z" fill="#f4a228" fill-rule="evenodd"/>
<path d="M27.9 61.4L27.2 61.7L26.6 61.4L25.7 59.7L26 57.3L26.6 56.4L27.2 56L28.2 56.7L28.8 58.3L28.6 60.3L27.9 61.4Z" fill="#e6461a" fill-rule="evenodd"/>
</g></g>
</g>
<rect x="0" y="0" width="73.75" height="73.50" fill="none" stroke="#a4a4a4" stroke-width="1"/>
<path d="M0 0V73.50H73.75" fill="none" stroke="#7a7a7a" stroke-width="1"/>
<line x1="-1.5" y1="6.5" x2="0" y2="6.5" stroke="#555" stroke-width="0.8"/>
<text x="-2.5" y="7.8" font-size="4" fill="#8a8a8a" text-anchor="end">10⁵</text>
<line x1="-1.5" y1="23.0" x2="0" y2="23.0" stroke="#555" stroke-width="0.8"/>
<text x="-2.5" y="24.3" font-size="4" fill="#8a8a8a" text-anchor="end">10⁴</text>
<line x1="-1.5" y1="40.0" x2="0" y2="40.0" stroke="#555" stroke-width="0.8"/>
<text x="-2.5" y="41.3" font-size="4" fill="#8a8a8a" text-anchor="end">10³</text>
<line x1="-1.5" y1="57.5" x2="0" y2="57.5" stroke="#555" stroke-width="0.8"/>
<text x="-2.5" y="58.8" font-size="4" fill="#8a8a8a" text-anchor="end">10²</text>
<line x1="-1.5" y1="65.5" x2="0" y2="65.5" stroke="#555" stroke-width="0.8"/>
<text x="-2.5" y="66.8" font-size="4" fill="#8a8a8a" text-anchor="end">0</text>
<line x1="7.5" y1="73.5" x2="7.5" y2="75.0" stroke="#555" stroke-width="0.8"/>
<text x="7.5" y="80.0" font-size="4" fill="#8a8a8a" text-anchor="middle">0</text>
<line x1="15.0" y1="73.5" x2="15.0" y2="75.0" stroke="#555" stroke-width="0.8"/>
<text x="15.0" y="80.0" font-size="4" fill="#8a8a8a" text-anchor="middle">10²</text>
<line x1="33.5" y1="73.5" x2="33.5" y2="75.0" stroke="#555" stroke-width="0.8"/>
<text x="33.5" y="80.0" font-size="4" fill="#8a8a8a" text-anchor="middle">10³</text>
<line x1="50.0" y1="73.5" x2="50.0" y2="75.0" stroke="#555" stroke-width="0.8"/>
<text x="50.0" y="80.0" font-size="4" fill="#8a8a8a" text-anchor="middle">10⁴</text>
<line x1="66.0" y1="73.5" x2="66.0" y2="75.0" stroke="#555" stroke-width="0.8"/>
<text x="66.0" y="80.0" font-size="4" fill="#8a8a8a" text-anchor="middle">10⁵</text>
<line x1="30.75" y1="0" x2="30.75" y2="73.50" stroke="#505050" stroke-width="1"/>
<line x1="0" y1="37.25" x2="73.75" y2="37.25" stroke="#505050" stroke-width="1"/>
<rect x="30.75" y="37.25" width="43.00" height="36.25" fill="none" stroke="#cc1f1f" stroke-width="2"/>
<g stroke="#000" stroke-width="0.15">
<text x="1.6" y="10.3" font-size="9.8">1.05</text>
<text x="72.55" y="10.3" font-size="9.8" text-anchor="end">0.08</text>
<text x="1.6" y="72.50" font-size="9.8">79.9</text>
<text x="72.55" y="72.50" font-size="9.8" text-anchor="end">18.9</text>
</g>
</g>
<g transform="translate(120.25 321.25)">
<clipPath id="c19"><rect x="0" y="0" width="73.50" height="73.75"/></clipPath>
<g clip-path="url(#c19)">
<g transform="translate(-0.25 -0.25)">
<g filter="url(#bl2)">
<path d="M20.1 79.1L14.4 79.2L12.1 78.7L10.1 77.8L7.8 76.2L6 74.4L4.2 72.1L2.8 69.4L1.3 64.4L0.8 59.1L2.3 38.4L3.2 32.4L4.2 28.1L5.6 25.1L7.4 23.1L9.1 22.2L11.4 21.6L19.4 21.4L22.4 20.3L25.8 20.4L27.4 20.6L28.8 21.2L30.2 23.4L30.9 26.4L32.4 37.1L34.1 42.9L35.4 45.8L36.8 47.3L38.8 48.9L45.1 51.8L47.4 53.4L49.2 56.1L49.6 59.1L48.9 61.4L47.5 63.4L42.4 67.5L37.4 72.4L34.8 74.6L31.8 76.3L29.1 77.3L20.1 79.1Z" fill="url(#p1)" fill-rule="evenodd"/>
<path d="M22.8 76.4L18.1 76.4L14.8 75.8L11.8 74.7L9.4 73L7.2 70.4L5.5 67.1L4.5 63.4L4.3 59.4L4.9 52.1L5.6 34.4L6.3 30.1L7.2 27.4L8.4 25.8L10.4 24.6L13.1 24.1L19.4 23.9L22.1 22L24.1 21.7L27.8 22.2L28.8 22.9L29.5 24.1L30.5 29.1L31.1 40.1L32.1 44.8L33.8 48.1L38.3 53.1L40 55.4L41 57.8L41.3 60.1L40.7 63.1L39.3 66.4L37.4 69.4L35.1 71.9L32.4 73.8L29.4 75.2L26.4 76L22.8 76.4Z" fill="url(#p2)" fill-rule="evenodd"/>
<path d="M25.8 74.4L22.4 74.6L18.8 74.2L15.4 73.2L12.8 71.7L10.6 69.8L9 67.4L7.9 64.4L7.5 61.4L8.2 53.8L7.7 46.1L7.9 37.8L8.4 33.1L9.1 30.3L10.4 28.4L12.1 27.5L19.4 26.9L21.8 23.7L23.8 23.1L27.8 23.6L28.7 24.4L29.2 25.4L30 29.4L30.4 40.3L31.1 46.8L32.1 49.2L37 55.4L38 57.8L38.5 60.4L38.3 63.1L37.6 65.4L36.4 67.8L34.9 69.8L32.8 71.7L30.8 72.9L28.4 73.8L25.8 74.4Z" fill="url(#p3)" fill-rule="evenodd"/>
</g><g filter="url(#bl)">
<path d="M26.8 72.8L23.8 73.1L20.8 72.8L17.8 71.9L15.1 70.5L13.1 68.8L11.6 66.8L10.6 64.4L10.2 61.8L10.5 58.4L12.4 51.1L12.5 45.4L13.1 42.8L14.4 40.4L18.1 38.3L18.8 37.7L20.2 29.4L20.9 26.8L22.1 25L23.8 24.4L27.4 24.8L28.4 25.6L29 26.8L29.7 30.8L30.1 43.8L30.6 49.1L31.4 50.9L35.3 55.8L36.3 58.1L36.7 60.4L36.2 64.4L35.4 66.4L34.1 68.4L30.8 71.3L26.8 72.8Z" fill="#4262fa" fill-rule="evenodd"/>
<path d="M24.4 71.8L22.1 71.6L19.8 71L17.7 70.1L15.8 68.8L14.2 67.1L13.2 65.4L12.5 63.4L12.3 61.4L12.7 58.4L13.9 55.4L15.4 53.1L18.8 49.6L19.5 48.4L20.1 44.8L21 29.4L22.1 26.5L23.1 25.8L24.1 25.7L27.4 26.2L28.1 26.8L28.7 28.1L29.3 32.1L30 50.4L30.8 52.2L34.2 56.8L35 58.8L35.3 61.1L35.2 63.1L34.6 65.1L33.5 67.1L32.1 68.7L28.8 70.9L26.8 71.5L24.4 71.8Z" fill="#2848f6" fill-rule="evenodd"/>
<path d="M26.8 69.1L24.8 69.4L22.8 69.3L20.8 68.7L19.1 67.8L17.8 66.6L16.6 65.1L15.8 63.4L15.5 61.8L15.7 59.4L16.5 57.4L18 55.4L20.4 53.1L21.1 51.8L22 32.1L22.8 29.6L23.4 29L24.1 28.9L26.8 29.5L27.8 31.1L28.2 34.8L28.7 52.1L29.4 54.1L32 57.8L32.9 60.8L32.6 63.4L31.3 66.1L29.4 67.9L26.8 69.1Z" fill="#2a78ff" fill-rule="evenodd"/>
<path d="M24.8 68.8L21.8 68.3L18.9 66.8L17.1 64.4L16.3 61.4L16.6 59.4L17.4 57.4L20.9 53.8L21.7 52.1L22.4 33.1L23.1 30.8L24.1 30.3L26.4 30.9L27.4 32.6L28.2 44.8L28.1 52.4L28.7 54.1L31.5 58.1L32.2 61.1L31.7 64.1L30.2 66.4L27.8 68.1L24.8 68.8Z" fill="#30b6f2" fill-rule="evenodd"/>
<path d="M25.4 68.1L22.4 67.9L19.5 66.4L17.7 64.1L17 61.4L17.3 59.4L18 57.8L21.5 54.1L22.5 52.1L22.3 45.1L22.9 35.8L23.4 33.1L24.1 32.5L25.1 32.8L26.1 33.6L26.8 35.4L27.8 45.1L27.7 47.8L27 51.4L27.2 52.8L30.8 58.1L31.6 61.1L31.3 63.4L30 65.8L28.1 67.3L25.4 68.1Z" fill="#4adcc0" fill-rule="evenodd"/>
<path d="M24.8 50.5L24.1 50.4L23.4 49.5L22.9 46.8L23.1 42.5L23.4 41L24.1 39.8L24.8 40L26.1 41.6L26.8 43.3L27 45.1L26.6 48.4L25.8 49.7L24.8 50.5ZM26.1 67.4L23.4 67.5L20.8 66.5L18.8 64.6L17.8 62.1L17.9 59.8L18.8 57.8L23.1 53.5L24.4 52.7L26.1 53.5L29.1 56.6L30.5 58.8L31 60.8L30.8 63.1L29.8 65.1L28.1 66.6L26.1 67.4Z" fill="#72e882" fill-rule="evenodd"/>
<path d="M25.8 66.5L23.4 66.5L21.4 65.7L19.7 64.1L18.9 62.1L19 60.1L19.9 58.1L22.1 56.1L24.1 55.3L26.1 55.6L27.8 56.7L29.2 58.4L30 60.4L29.9 62.4L29.1 64.3L27.6 65.8L25.8 66.5Z" fill="#b6f04a" fill-rule="evenodd"/>
<path d="M25.4 65.4L23.8 65.5L22.1 64.8L20.9 63.8L20.2 62.1L20.2 60.4L20.9 58.8L22.1 57.6L23.8 56.8L25.4 56.9L26.8 57.5L28.1 58.8L28.8 60.4L28.8 62.1L28.1 63.8L27.1 64.8L25.4 65.4Z" fill="#eee631" fill-rule="evenodd"/>
<path d="M25.8 64.2L24.4 64.4L23.1 64.1L22.2 63.4L21.5 62.4L21.3 61.4L21.5 60.1L22.2 59.1L23.4 58.3L24.8 58.1L25.8 58.3L26.8 59L27.5 60.1L27.8 61.4L27.6 62.4L26.9 63.4L25.8 64.2Z" fill="#f4a228" fill-rule="evenodd"/>
<path d="M25.4 63.2L23.8 63.2L22.6 62.1L22.6 60.4L23.8 59.3L25.4 59.3L26.5 60.4L26.6 62.1L25.4 63.2Z" fill="#e6461a" fill-rule="evenodd"/>
</g></g>
</g>
<rect x="0" y="0" width="73.50" height="73.75" fill="none" stroke="#a4a4a4" stroke-width="1"/>
<path d="M0 0V73.75H73.50" fill="none" stroke="#7a7a7a" stroke-width="1"/>
<line x1="-1.5" y1="6.5" x2="0" y2="6.5" stroke="#555" stroke-width="0.8"/>
<text x="-2.5" y="7.8" font-size="4" fill="#8a8a8a" text-anchor="end">10⁵</text>
<line x1="-1.5" y1="23.0" x2="0" y2="23.0" stroke="#555" stroke-width="0.8"/>
<text x="-2.5" y="24.3" font-size="4" fill="#8a8a8a" text-anchor="end">10⁴</text>
<line x1="-1.5" y1="40.0" x2="0" y2="40.0" stroke="#555" stroke-width="0.8"/>
<text x="-2.5" y="41.3" font-size="4" fill="#8a8a8a" text-anchor="end">10³</text>
<line x1="-1.5" y1="57.5" x2="0" y2="57.5" stroke="#555" stroke-width="0.8"/>
<text x="-2.5" y="58.8" font-size="4" fill="#8a8a8a" text-anchor="end">10²</text>
<line x1="-1.5" y1="65.5" x2="0" y2="65.5" stroke="#555" stroke-width="0.8"/>
<text x="-2.5" y="66.8" font-size="4" fill="#8a8a8a" text-anchor="end">0</text>
<line x1="7.5" y1="73.8" x2="7.5" y2="75.2" stroke="#555" stroke-width="0.8"/>
<text x="7.5" y="80.2" font-size="4" fill="#8a8a8a" text-anchor="middle">0</text>
<line x1="15.0" y1="73.8" x2="15.0" y2="75.2" stroke="#555" stroke-width="0.8"/>
<text x="15.0" y="80.2" font-size="4" fill="#8a8a8a" text-anchor="middle">10²</text>
<line x1="33.5" y1="73.8" x2="33.5" y2="75.2" stroke="#555" stroke-width="0.8"/>
<text x="33.5" y="80.2" font-size="4" fill="#8a8a8a" text-anchor="middle">10³</text>
<line x1="50.0" y1="73.8" x2="50.0" y2="75.2" stroke="#555" stroke-width="0.8"/>
<text x="50.0" y="80.2" font-size="4" fill="#8a8a8a" text-anchor="middle">10⁴</text>
<line x1="66.0" y1="73.8" x2="66.0" y2="75.2" stroke="#555" stroke-width="0.8"/>
<text x="66.0" y="80.2" font-size="4" fill="#8a8a8a" text-anchor="middle">10⁵</text>
<line x1="33.50" y1="0" x2="33.50" y2="73.75" stroke="#505050" stroke-width="1"/>
<line x1="0" y1="47.50" x2="73.50" y2="47.50" stroke="#505050" stroke-width="1"/>
<g stroke="#000" stroke-width="0.15">
<text x="1.6" y="10.3" font-size="9.8">22.4</text>
<text x="72.30" y="10.3" font-size="9.8" text-anchor="end">0.31</text>
<text x="1.6" y="72.75" font-size="9.8">76.2</text>
<text x="72.30" y="72.75" font-size="9.8" text-anchor="end">1.04</text>
</g>
</g>
<g transform="translate(208.25 321.25)">
<clipPath id="c20"><rect x="0" y="0" width="73.75" height="73.75"/></clipPath>
<g clip-path="url(#c20)">
<g transform="translate(-0.25 -0.25)">
<g filter="url(#bl2)">
<path d="M19.8 77.8L16.8 78L14.1 77.9L11.8 77.3L9.4 76.2L7.4 74.8L5.4 72.8L2.6 68.1L1.1 63.4L0.6 57.8L2.4 37.4L3.2 31.8L4.3 27.8L5.5 25.1L7.4 23L9.1 22.2L11.4 21.6L19.4 21.4L22.8 20.3L26.4 20.5L28.8 21.3L29.9 23.1L30.9 27.1L32.1 35.9L33.4 40L34.8 42.5L36.1 43.9L37.6 44.8L45.4 46.6L47.8 47.6L49.8 48.9L51.5 50.8L52.9 53.1L53.6 55.4L53.6 58.1L53.1 60.4L51.8 62.8L50.1 64.7L48.1 66.1L40.8 69.2L34.1 73.6L30.8 75.3L26.4 76.6L19.8 77.8Z" fill="url(#p1)" fill-rule="evenodd"/>
<path d="M25.1 74.8L20.4 75L15.8 74.7L12.8 73.8L10.1 72.3L7.7 70.1L5.9 67.1L4.6 63.4L4.1 59.4L5.6 34.1L6.2 30.1L7.1 27.4L8.4 25.7L10.4 24.6L13.1 24.1L19.1 24L21.8 22.1L23.4 21.7L27.8 22.2L28.8 23L29.5 24.4L30.4 28.4L31.1 40.6L31.8 43.1L32.8 44.9L34.4 46.9L36.8 48.6L45.1 52.9L46.6 54.8L47.2 56.8L46.8 58.8L45.8 60.5L41.1 64.5L35.1 70.5L30.4 73.4L25.1 74.8Z" fill="url(#p2)" fill-rule="evenodd"/>
<path d="M24.4 73.1L21.1 73L17.8 72.5L14.8 71.5L12.1 69.9L10.1 67.9L8.6 65.4L7.6 62.4L7.3 59.4L7.9 37.1L8.3 32.8L9.1 30.2L10.4 28.4L12.1 27.5L19.1 27.1L21.6 23.8L22.4 23.3L23.8 23.1L27.4 23.5L28.4 24.2L29.1 25.3L29.9 29.4L30.4 41.6L31.1 45.7L32.4 47.9L37.9 53.8L39.1 56.1L39.5 58.4L39.2 60.8L38.3 63.4L36.5 66.4L34.5 68.8L32.1 70.6L29.8 71.9L27.4 72.6L24.4 73.1Z" fill="url(#p3)" fill-rule="evenodd"/>
</g><g filter="url(#bl)">
<path d="M25.8 71.4L23.1 71.6L20.1 71.2L17.1 70.2L14.8 68.9L12.8 67.1L11.4 65.1L10.5 62.8L10.1 60.1L11.6 46.4L12.4 43L14.1 40.3L18.1 38.4L18.8 37.7L20 30.1L20.9 26.8L22.1 24.9L23.8 24.4L27.4 24.9L28.1 25.4L28.9 26.8L29.6 30.8L29.9 41.8L30.4 47.1L31.3 49.1L34.3 52.4L35.9 54.8L36.7 56.8L37 59.1L36.9 61.1L36.2 63.4L35.2 65.4L33.8 67.3L32.1 68.8L30.1 70.1L25.8 71.4Z" fill="#4262fa" fill-rule="evenodd"/>
<path d="M26.1 70.1L23.8 70.3L21.1 69.9L18.8 69.2L16.4 67.9L14.8 66.4L13.4 64.4L12.5 62.4L12.2 60.1L12.5 56.8L13.9 53.1L15.4 50.8L18.8 47.5L19.4 46.4L20.1 43L21 29.1L22.1 26.4L22.8 25.9L23.8 25.7L27.1 26.1L27.8 26.6L28.5 27.8L29.1 31.4L29.5 43.1L30.1 48.9L30.8 50.5L34.3 55.1L35.1 57.1L35.4 59.1L34.9 62.8L34 64.8L32.8 66.4L29.8 68.8L26.1 70.1Z" fill="#2848f6" fill-rule="evenodd"/>
<path d="M25.8 67.8L22.1 67.6L18.7 66.1L16.4 63.4L15.4 60.1L15.7 57.8L16.5 55.8L17.6 54.1L20.1 51.5L20.8 49.9L21.2 46.1L21.9 32.1L22.6 29.8L23.8 29L26.4 29.4L27.1 29.9L27.7 31.1L28.1 33.9L29 50.4L29.7 52.8L32.3 56.8L32.9 59.4L32.5 62.1L31.1 64.8L28.8 66.7L25.8 67.8Z" fill="#2a78ff" fill-rule="evenodd"/>
<path d="M25.8 67.1L22.4 67L19.4 65.7L18.1 64.5L17.1 63.1L16.2 60.1L16.4 58.1L17.2 56.1L20.4 52.2L21.1 50.7L21.5 47.8L22.4 32.8L23.1 30.8L24.1 30.4L26.4 31.1L27.2 32.4L28.6 51.1L29.3 53.1L31.5 56.8L32.2 59.4L31.8 62.1L30.5 64.4L28.4 66.2L25.8 67.1Z" fill="#30b6f2" fill-rule="evenodd"/>
<path d="M26.1 66.5L23.1 66.6L20.1 65.4L17.9 63.1L17 60.1L17.1 58.4L17.6 56.8L20.8 52.8L21.5 51.1L23 34.4L23.4 33L24.1 32.7L25.8 33.7L26.4 35L27.6 43.8L28.1 51.4L28.9 53.4L31 57.1L31.6 59.4L31.3 61.8L30.1 64L28.4 65.5L26.1 66.5Z" fill="#4adcc0" fill-rule="evenodd"/>
<path d="M24.8 66.1L22.1 65.7L19.8 64.4L18.3 62.4L17.6 59.8L18.4 56.8L21 53.4L21.9 51.8L23.1 42.1L23.4 40.9L24.1 40.1L25.4 41L26.4 42.6L27.1 45.5L27.6 51.8L30.4 57.2L31 59.8L30.6 62.1L29.3 64.1L27.1 65.6L24.8 66.1Z" fill="#72e882" fill-rule="evenodd"/>
<path d="M24.8 65.1L22.4 64.7L20.4 63.5L19.2 61.8L18.8 59.8L19 58.1L19.9 56.4L23.1 52.8L24.4 52.1L26.1 52.9L28.1 55.2L29.6 57.8L30 59.8L29.6 61.8L28.5 63.4L26.8 64.6L24.8 65.1Z" fill="#b6f04a" fill-rule="evenodd"/>
<path d="M25.8 63.8L23.8 63.9L22.1 63.3L20.7 62.1L20.1 60.4L20.1 58.8L20.9 57.1L22.4 55.5L24.1 54.7L25.8 55L27.1 55.9L28.2 57.4L28.8 59.1L28.7 60.8L28.1 62.1L27.1 63.2L25.8 63.8Z" fill="#eee631" fill-rule="evenodd"/>
<path d="M25.1 62.8L23.8 62.8L22.4 62.2L21.5 61.1L21.2 60.1L21.4 58.8L21.9 57.8L22.9 56.8L24.1 56.3L25.4 56.4L26.4 57L27.3 58.1L27.7 59.4L27.6 60.4L27.1 61.6L26.2 62.4L25.1 62.8Z" fill="#f4a228" fill-rule="evenodd"/>
<path d="M25.1 61.8L23.4 61.6L22.8 61L22.4 60.1L22.7 58.4L24.1 57.5L25.5 57.8L26.5 59.1L26.4 60.8L25.1 61.8Z" fill="#e6461a" fill-rule="evenodd"/>
</g></g>
</g>
<rect x="0" y="0" width="73.75" height="73.75" fill="none" stroke="#a4a4a4" stroke-width="1"/>
<path d="M0 0V73.75H73.75" fill="none" stroke="#7a7a7a" stroke-width="1"/>
<line x1="-1.5" y1="6.5" x2="0" y2="6.5" stroke="#555" stroke-width="0.8"/>
<text x="-2.5" y="7.8" font-size="4" fill="#8a8a8a" text-anchor="end">10⁵</text>
<line x1="-1.5" y1="23.0" x2="0" y2="23.0" stroke="#555" stroke-width="0.8"/>
<text x="-2.5" y="24.3" font-size="4" fill="#8a8a8a" text-anchor="end">10⁴</text>
<line x1="-1.5" y1="40.0" x2="0" y2="40.0" stroke="#555" stroke-width="0.8"/>
<text x="-2.5" y="41.3" font-size="4" fill="#8a8a8a" text-anchor="end">10³</text>
<line x1="-1.5" y1="57.5" x2="0" y2="57.5" stroke="#555" stroke-width="0.8"/>
<text x="-2.5" y="58.8" font-size="4" fill="#8a8a8a" text-anchor="end">10²</text>
<line x1="-1.5" y1="65.5" x2="0" y2="65.5" stroke="#555" stroke-width="0.8"/>
<text x="-2.5" y="66.8" font-size="4" fill="#8a8a8a" text-anchor="end">0</text>
<line x1="7.5" y1="73.8" x2="7.5" y2="75.2" stroke="#555" stroke-width="0.8"/>
<text x="7.5" y="80.2" font-size="4" fill="#8a8a8a" text-anchor="middle">0</text>
<line x1="15.0" y1="73.8" x2="15.0" y2="75.2" stroke="#555" stroke-width="0.8"/>
<text x="15.0" y="80.2" font-size="4" fill="#8a8a8a" text-anchor="middle">10²</text>
<line x1="33.5" y1="73.8" x2="33.5" y2="75.2" stroke="#555" stroke-width="0.8"/>
<text x="33.5" y="80.2" font-size="4" fill="#8a8a8a" text-anchor="middle">10³</text>
<line x1="50.0" y1="73.8" x2="50.0" y2="75.2" stroke="#555" stroke-width="0.8"/>
<text x="50.0" y="80.2" font-size="4" fill="#8a8a8a" text-anchor="middle">10⁴</text>
<line x1="66.0" y1="73.8" x2="66.0" y2="75.2" stroke="#555" stroke-width="0.8"/>
<text x="66.0" y="80.2" font-size="4" fill="#8a8a8a" text-anchor="middle">10⁵</text>
<line x1="33.75" y1="0" x2="33.75" y2="73.75" stroke="#505050" stroke-width="1"/>
<line x1="0" y1="47.50" x2="73.75" y2="47.50" stroke="#505050" stroke-width="1"/>
<g stroke="#000" stroke-width="0.15">
<text x="1.6" y="10.3" font-size="9.8">22.3</text>
<text x="72.55" y="10.3" font-size="9.8" text-anchor="end">0.62</text>
<text x="1.6" y="72.75" font-size="9.8">73.8</text>
<text x="72.55" y="72.75" font-size="9.8" text-anchor="end">3.27</text>
</g>
</g>
<g transform="translate(308.00 321.25)">
<clipPath id="c21"><rect x="0" y="0" width="74.00" height="73.25"/></clipPath>
<g clip-path="url(#c21)">
<g transform="translate(0.00 -0.25)">
<g filter="url(#bl2)">
<path d="M19.2 77.8L13.8 77.9L11.5 77.4L9.2 76.4L7.2 75L5.1 73.1L3.4 70.8L2 68.1L0.6 63.4L0 57.8L1.8 37.8L2.6 32.1L3.7 27.8L4.9 25.1L6.8 23L8.5 22.2L10.8 21.6L18.8 21.4L22.5 20.3L25.8 20.4L28.2 21.3L29.6 23.8L30.4 27.1L31.5 35.9L32.8 40.5L34.3 43.8L35.8 45.6L37.8 47.2L44.5 50.4L46.8 52.1L48.5 54.8L48.9 57.8L48.2 60.1L46.7 62.1L41.8 65.9L36.8 70.9L33.8 73.3L31.2 74.8L28.2 76L19.2 77.8Z" fill="url(#p1)" fill-rule="evenodd"/>
<path d="M24.5 74.8L19.8 75L15.2 74.7L12.2 73.8L9.5 72.3L7.2 70.1L5.3 67.1L4 63.4L3.5 59.4L5 34.1L5.6 30.1L6.6 27.4L7.8 25.7L9.8 24.6L12.5 24.1L18.5 24L21.2 22.1L22.8 21.7L26.8 22.1L27.8 22.6L28.7 23.8L29.7 27.4L30.4 39.8L31.2 43.3L33.2 46.8L39 53.4L40.1 55.8L40.6 58.1L40.3 60.8L39.2 63.8L37.6 66.8L35.4 69.4L33.2 71.4L30.5 73L27.5 74.2L24.5 74.8Z" fill="url(#p2)" fill-rule="evenodd"/>
<path d="M23.8 73.1L20.5 73L17.2 72.5L14.2 71.5L11.5 69.9L9.5 67.9L8 65.4L7 62.4L6.7 59.4L7.3 37.4L7.7 33.1L8.5 30.2L9.8 28.4L11.5 27.5L18.5 27.1L21.2 23.7L23.2 23.1L26.8 23.5L27.8 24.2L28.6 25.4L29.4 29.4L29.8 41.3L30.5 45.8L31.5 47.8L36.3 53.8L37.4 56.4L37.8 59.1L37.6 61.8L36.7 64.4L35.4 66.8L33.7 68.8L31.5 70.6L29.2 71.8L26.8 72.6L23.8 73.1Z" fill="url(#p3)" fill-rule="evenodd"/>
</g><g filter="url(#bl)">
<path d="M25.2 71.4L22.5 71.6L19.5 71.2L16.5 70.2L14.2 68.8L12.2 67.1L10.8 65.1L9.9 62.8L9.5 60.1L11 46.4L11.8 43L13.5 40.2L17.5 38.3L18.2 37.6L19.6 29.4L20.3 26.8L21.5 24.9L23.2 24.4L26.8 24.9L27.6 25.4L28.3 26.8L29 30.8L29.4 42.1L29.9 47.1L30.6 49.1L33.6 52.8L34.9 54.8L35.7 56.8L36 59.1L36 61.1L35.4 63.4L34.5 65.4L33 67.4L29.5 70.1L25.2 71.4Z" fill="#4262fa" fill-rule="evenodd"/>
<path d="M25.5 70.1L23.2 70.3L20.5 69.9L18.2 69.2L15.8 67.9L14.2 66.4L12.8 64.4L12 62.4L11.6 60.1L12 56.8L13.3 53.1L14.8 50.8L18.2 47.5L18.9 46.4L19.5 43.3L20.4 29.1L21.5 26.4L22.2 25.9L23.2 25.7L26.5 26.1L27.5 26.9L28 28.1L28.6 31.8L29 43.1L29.5 48.9L30.2 50.6L33.7 55.4L34.4 57.4L34.7 59.4L34.1 63.1L32.2 66.4L29.2 68.8L25.5 70.1Z" fill="#2848f6" fill-rule="evenodd"/>
<path d="M25.2 67.8L21.5 67.6L18.2 66.1L15.8 63.4L14.9 60.1L15.1 57.8L15.9 55.8L17.2 53.9L19.5 51.5L20.2 50L20.6 46.4L21.4 31.8L22.2 29.6L23.5 28.9L26.2 29.6L27.2 31.2L28.4 50.4L29.1 52.8L31.6 56.8L32.2 59.4L31.9 62.1L30.5 64.8L28.2 66.7L25.2 67.8Z" fill="#2a78ff" fill-rule="evenodd"/>
<path d="M25.2 67.1L21.8 67L18.8 65.7L17.5 64.5L16.5 63.1L15.7 60.1L15.9 58.1L16.6 56.1L19.8 52.2L20.5 50.8L21 47.8L21.8 32.8L22.5 30.8L23.5 30.4L25.8 31.1L26.8 32.8L28 51.1L28.7 53.1L31 57.1L31.6 59.4L31.2 62.1L29.9 64.4L27.8 66.2L25.2 67.1Z" fill="#30b6f2" fill-rule="evenodd"/>
<path d="M25.5 66.5L22.5 66.6L19.5 65.4L17.3 63.1L16.4 60.1L16.5 58.4L17.2 56.6L20.2 52.8L21 51.1L22.4 34.4L22.8 33L23.5 32.6L25 33.4L25.8 34.7L27.1 43.8L27.6 51.4L28.3 53.4L30.4 57.1L30.9 59.4L30.7 61.8L29.5 64L27.8 65.5L25.5 66.5Z" fill="#4adcc0" fill-rule="evenodd"/>
<path d="M24.2 66.1L21.5 65.7L19.2 64.3L17.7 62.4L17.1 59.8L17.8 56.8L20.5 53.4L21.4 51.8L22.5 42.2L22.8 41L23.5 40L24.8 40.9L25.9 42.8L26.5 45.2L27 51.8L29.9 57.4L30.4 59.8L30 62.1L28.7 64.1L26.5 65.6L24.2 66.1Z" fill="#72e882" fill-rule="evenodd"/>
<path d="M24.2 65.1L22.2 64.8L20.1 63.8L18.8 62.1L18.2 59.8L18.5 58.1L19.4 56.4L22.5 52.8L23.8 52.1L25.5 52.9L27.5 55.2L29 57.8L29.4 59.8L29 61.8L27.9 63.4L26.2 64.6L24.2 65.1Z" fill="#b6f04a" fill-rule="evenodd"/>
<path d="M25.2 63.8L23.2 63.9L21.5 63.3L20.2 62.1L19.5 60.4L19.6 58.8L20.3 57.1L21.8 55.5L23.5 54.7L25.2 55L26.5 55.9L27.6 57.4L28.2 59.1L28.1 60.8L27.6 62.1L26.5 63.2L25.2 63.8Z" fill="#eee631" fill-rule="evenodd"/>
<path d="M24.5 62.8L23.2 62.8L21.8 62.1L21 61.1L20.7 60.1L20.8 58.8L21.3 57.8L22.3 56.8L23.5 56.3L24.8 56.4L25.8 57L26.7 58.1L27.1 59.4L27 60.4L26.5 61.6L25.6 62.4L24.5 62.8Z" fill="#f4a228" fill-rule="evenodd"/>
<path d="M24.5 61.8L22.8 61.5L21.8 60.1L22.2 58.4L23.5 57.5L24.9 57.8L26 59.1L25.8 60.8L24.5 61.8Z" fill="#e6461a" fill-rule="evenodd"/>
</g></g>
</g>
<rect x="0" y="0" width="74.00" height="73.25" fill="none" stroke="#a4a4a4" stroke-width="1"/>
<path d="M0 0V73.25H74.00" fill="none" stroke="#7a7a7a" stroke-width="1"/>
<line x1="-1.5" y1="6.5" x2="0" y2="6.5" stroke="#555" stroke-width="0.8"/>
<text x="-2.5" y="7.8" font-size="4" fill="#8a8a8a" text-anchor="end">10⁵</text>
<line x1="-1.5" y1="23.0" x2="0" y2="23.0" stroke="#555" stroke-width="0.8"/>
<text x="-2.5" y="24.3" font-size="4" fill="#8a8a8a" text-anchor="end">10⁴</text>
<line x1="-1.5" y1="40.0" x2="0" y2="40.0" stroke="#555" stroke-width="0.8"/>
<text x="-2.5" y="41.3" font-size="4" fill="#8a8a8a" text-anchor="end">10³</text>
<line x1="-1.5" y1="57.5" x2="0" y2="57.5" stroke="#555" stroke-width="0.8"/>
<text x="-2.5" y="58.8" font-size="4" fill="#8a8a8a" text-anchor="end">10²</text>
<line x1="-1.5" y1="65.5" x2="0" y2="65.5" stroke="#555" stroke-width="0.8"/>
<text x="-2.5" y="66.8" font-size="4" fill="#8a8a8a" text-anchor="end">0</text>
<line x1="7.5" y1="73.2" x2="7.5" y2="74.8" stroke="#555" stroke-width="0.8"/>
<text x="7.5" y="79.8" font-size="4" fill="#8a8a8a" text-anchor="middle">0</text>
<line x1="15.0" y1="73.2" x2="15.0" y2="74.8" stroke="#555" stroke-width="0.8"/>
<text x="15.0" y="79.8" font-size="4" fill="#8a8a8a" text-anchor="middle">10²</text>
<line x1="33.5" y1="73.2" x2="33.5" y2="74.8" stroke="#555" stroke-width="0.8"/>
<text x="33.5" y="79.8" font-size="4" fill="#8a8a8a" text-anchor="middle">10³</text>
<line x1="50.0" y1="73.2" x2="50.0" y2="74.8" stroke="#555" stroke-width="0.8"/>
<text x="50.0" y="79.8" font-size="4" fill="#8a8a8a" text-anchor="middle">10⁴</text>
<line x1="66.0" y1="73.2" x2="66.0" y2="74.8" stroke="#555" stroke-width="0.8"/>
<text x="66.0" y="79.8" font-size="4" fill="#8a8a8a" text-anchor="middle">10⁵</text>
<line x1="33.25" y1="0" x2="33.25" y2="73.25" stroke="#505050" stroke-width="1"/>
<line x1="0" y1="47.00" x2="74.00" y2="47.00" stroke="#505050" stroke-width="1"/>
<g stroke="#000" stroke-width="0.15">
<text x="1.6" y="10.3" font-size="9.8">22.3</text>
<text x="72.80" y="10.3" font-size="9.8" text-anchor="end">0.27</text>
<text x="1.6" y="72.25" font-size="9.8">76.4</text>
<text x="72.80" y="72.25" font-size="9.8" text-anchor="end">1.08</text>
</g>
</g>
<g transform="translate(396.50 321.25)">
<clipPath id="c22"><rect x="0" y="0" width="75.25" height="73.25"/></clipPath>
<g clip-path="url(#c22)">
<g transform="translate(-0.50 -0.25)">
<g filter="url(#bl2)">
<path d="M20 77.8L17 78L14.3 77.9L12 77.3L9.7 76.2L7.6 74.8L5.7 72.8L4.2 70.8L2.8 68.1L1.4 63.4L0.8 57.8L2.6 37.4L3.5 31.8L4.5 27.8L5.7 25.1L7.7 23L9.3 22.2L11.7 21.6L19.7 21.4L23 20.3L26.7 20.5L28.7 21.1L29.9 22.4L30.8 25.1L32 30.7L33 31.9L34.7 32.4L40 31.7L42.7 31.8L45.7 33.1L47.7 35.1L48.7 37.1L49.1 39.1L48.8 46.8L51.8 54.4L52.2 56.8L52.2 59.1L51.4 62.4L49.9 65.4L47.7 68L45.3 69.7L42.7 70.9L37.3 72.4L29.3 75.9L25.3 76.9L20 77.8Z" fill="url(#p1)" fill-rule="evenodd"/>
<path d="M25.3 74.8L20.7 75L16 74.7L13 73.8L10.3 72.3L8 70.1L6.1 67.1L4.8 63.4L4.3 59.4L5.8 34.1L6.4 30.1L7.4 27.4L8.7 25.7L10.7 24.6L13.3 24.1L19.3 24L22 22.1L23.7 21.7L28 22.2L29 23L29.8 24.4L30.6 27.8L31.7 40.6L33.6 44.8L34.8 46.1L36.3 47.1L41.7 48.5L44.7 50.4L46.2 52.1L47.5 54.1L48.2 56.1L48.4 58.1L48.2 60.4L47.4 62.8L46.1 64.8L44.3 66.4L37.8 69.4L31 73.2L28.3 74.2L25.3 74.8Z" fill="url(#p2)" fill-rule="evenodd"/>
<path d="M24.7 73.1L21.3 73.1L18 72.5L15 71.5L12.3 69.9L10.3 67.9L8.8 65.4L7.8 62.4L7.5 59.4L8.1 37.1L8.6 32.8L9.3 30.2L10.6 28.4L12.3 27.5L19.3 27.1L21.9 23.8L22.7 23.3L24 23.1L26.7 23.3L28 23.7L28.8 24.4L29.5 25.8L30.2 29.8L30.9 42.8L31.7 46.4L33 48.2L35.3 50.3L42.7 54.8L44 56.7L44.4 58.8L44 60.8L42.7 62.8L34 69.6L29.7 72L24.7 73.1Z" fill="url(#p3)" fill-rule="evenodd"/>
</g><g filter="url(#bl)">
<path d="M26 71.4L23.3 71.6L20.3 71.2L17.3 70.2L15 68.9L13 67.1L11.6 65.1L10.7 62.8L10.3 60.1L11.8 46.4L12.7 43L14.3 40.2L18.3 38.3L19 37.6L20.2 30.1L21.1 26.8L22.3 24.9L24 24.4L27.7 24.9L29 26.5L29.8 30.4L30.3 43.4L30.9 47.8L31.7 49.3L37.6 55.8L38.5 57.4L38.8 59.1L38.6 60.8L37.7 62.8L36.2 65.1L34.1 67.4L30.3 70.1L26 71.4Z" fill="#4262fa" fill-rule="evenodd"/>
<path d="M26.3 70.1L24 70.3L21.3 69.9L19 69.2L16.7 67.9L15 66.4L13.6 64.4L12.8 62.4L12.4 60.1L12.8 56.8L14.2 53.1L15.7 50.8L19 47.5L19.7 46.4L20.3 43L21.2 29.1L22.3 26.4L23 25.9L24 25.7L27.3 26.1L28.1 26.8L28.7 27.8L29.4 31.4L29.8 43.4L30.3 48.9L31 50.5L35 55.4L35.9 57.4L36.2 59.1L36.1 60.8L35.6 62.8L33.5 66.1L30.3 68.7L26.3 70.1Z" fill="#2848f6" fill-rule="evenodd"/>
<path d="M26 67.8L22.3 67.6L19 66.1L16.6 63.4L15.7 60.1L15.9 57.8L16.7 55.8L17.8 54.1L20.3 51.5L21 49.9L21.5 46.1L22.2 32.1L22.9 29.8L24 28.9L26.7 29.4L27.3 29.9L27.9 31.1L28.3 33.8L29.3 50.8L30 52.8L32.6 56.8L33.2 59.4L32.9 62.1L31.3 64.8L29 66.7L26 67.8Z" fill="#2a78ff" fill-rule="evenodd"/>
<path d="M26 67.1L22.7 67L19.7 65.7L18.3 64.5L17.3 63.1L16.5 60.1L16.7 58.1L17.4 56.1L20.7 52.2L21.3 50.7L21.8 47.8L22.6 32.8L23.3 30.8L24.3 30.4L26.7 31.1L27.5 32.4L28.8 51.1L29.5 53.1L32 57.1L32.5 59.4L32.1 62.1L30.8 64.4L28.7 66.2L26 67.1Z" fill="#30b6f2" fill-rule="evenodd"/>
<path d="M26.3 66.5L23 66.5L20 65.2L18 62.9L17.2 60.1L17.3 58.4L17.9 56.8L21 52.8L21.8 51.1L23.2 34.8L23.7 33L24.3 32.6L25.8 33.4L26.7 34.8L27.8 43.4L28.4 51.4L29.1 53.4L31.3 57.1L31.9 59.4L31.6 61.8L30.6 63.8L28.7 65.5L26.3 66.5Z" fill="#4adcc0" fill-rule="evenodd"/>
<path d="M25 66.1L22.3 65.7L20 64.4L18.5 62.4L17.9 59.8L18.6 56.8L21.3 53.4L22.2 51.8L23.3 42L23.7 40.9L24.3 40L25.7 40.9L26.7 42.5L27.3 45.4L27.8 51.8L30.8 57.4L31.3 59.8L30.8 62.1L29.5 64.1L27.3 65.6L25 66.1Z" fill="#72e882" fill-rule="evenodd"/>
<path d="M25 65.1L22.7 64.7L20.7 63.5L19.4 61.8L19 59.8L19.3 58.1L20.2 56.4L23.3 52.8L24.7 52.1L26.3 52.9L28.3 55.2L29.8 57.8L30.2 59.8L29.8 61.8L28.7 63.4L27 64.6L25 65.1Z" fill="#b6f04a" fill-rule="evenodd"/>
<path d="M26 63.8L24 63.9L22.3 63.3L21 62.1L20.3 60.4L20.4 58.8L21.1 57.1L22.7 55.5L24.3 54.7L26 55L27.3 55.9L28.4 57.4L29 59.1L29 60.8L28.4 62.1L27.3 63.2L26 63.8Z" fill="#eee631" fill-rule="evenodd"/>
<path d="M25.3 62.8L24 62.8L22.7 62.2L21.8 61.1L21.5 60.1L21.6 58.8L22.1 57.8L23.1 56.8L24.3 56.3L25.7 56.4L26.7 57L27.5 58.1L27.9 59.4L27.9 60.4L27.3 61.6L26.4 62.4L25.3 62.8Z" fill="#f4a228" fill-rule="evenodd"/>
<path d="M25.3 61.8L23.7 61.6L23 61L22.6 60.1L23 58.4L24.3 57.5L25.7 57.8L26.8 59.1L26.6 60.8L25.3 61.8Z" fill="#e6461a" fill-rule="evenodd"/>
</g></g>
</g>
<rect x="0" y="0" width="75.25" height="73.25" fill="none" stroke="#a4a4a4" stroke-width="1"/>
<path d="M0 0V73.25H75.25" fill="none" stroke="#7a7a7a" stroke-width="1"/>
<line x1="-1.5" y1="6.5" x2="0" y2="6.5" stroke="#555" stroke-width="0.8"/>
<text x="-2.5" y="7.8" font-size="4" fill="#8a8a8a" text-anchor="end">10⁵</text>
<line x1="-1.5" y1="23.0" x2="0" y2="23.0" stroke="#555" stroke-width="0.8"/>
<text x="-2.5" y="24.3" font-size="4" fill="#8a8a8a" text-anchor="end">10⁴</text>
<line x1="-1.5" y1="40.0" x2="0" y2="40.0" stroke="#555" stroke-width="0.8"/>
<text x="-2.5" y="41.3" font-size="4" fill="#8a8a8a" text-anchor="end">10³</text>
<line x1="-1.5" y1="57.5" x2="0" y2="57.5" stroke="#555" stroke-width="0.8"/>
<text x="-2.5" y="58.8" font-size="4" fill="#8a8a8a" text-anchor="end">10²</text>
<line x1="-1.5" y1="65.5" x2="0" y2="65.5" stroke="#555" stroke-width="0.8"/>
<text x="-2.5" y="66.8" font-size="4" fill="#8a8a8a" text-anchor="end">0</text>
<line x1="7.5" y1="73.2" x2="7.5" y2="74.8" stroke="#555" stroke-width="0.8"/>
<text x="7.5" y="79.8" font-size="4" fill="#8a8a8a" text-anchor="middle">0</text>
<line x1="15.0" y1="73.2" x2="15.0" y2="74.8" stroke="#555" stroke-width="0.8"/>
<text x="15.0" y="79.8" font-size="4" fill="#8a8a8a" text-anchor="middle">10²</text>
<line x1="33.5" y1="73.2" x2="33.5" y2="74.8" stroke="#555" stroke-width="0.8"/>
<text x="33.5" y="79.8" font-size="4" fill="#8a8a8a" text-anchor="middle">10³</text>
<line x1="50.0" y1="73.2" x2="50.0" y2="74.8" stroke="#555" stroke-width="0.8"/>
<text x="50.0" y="79.8" font-size="4" fill="#8a8a8a" text-anchor="middle">10⁴</text>
<line x1="66.0" y1="73.2" x2="66.0" y2="74.8" stroke="#555" stroke-width="0.8"/>
<text x="66.0" y="79.8" font-size="4" fill="#8a8a8a" text-anchor="middle">10⁵</text>
<line x1="34.00" y1="0" x2="34.00" y2="73.25" stroke="#505050" stroke-width="1"/>
<line x1="0" y1="46.25" x2="75.25" y2="46.25" stroke="#505050" stroke-width="1"/>
<rect x="34.00" y="46.25" width="41.25" height="27.00" fill="none" stroke="#cc1f1f" stroke-width="2"/>
<g stroke="#000" stroke-width="0.15">
<text x="1.6" y="10.3" font-size="9.8">21.6</text>
<text x="74.05" y="10.3" font-size="9.8" text-anchor="end">1.18</text>
<text x="1.6" y="72.25" font-size="9.8">71.3</text>
<text x="74.05" y="72.25" font-size="9.8" text-anchor="end">5.97</text>
</g>
</g>
<g transform="translate(495.00 321.25)">
<clipPath id="c23"><rect x="0" y="0" width="74.50" height="73.75"/></clipPath>
<g clip-path="url(#c23)">
<g transform="translate(0.00 -0.25)">
<g filter="url(#bl2)">
<path d="M17.2 78.5L11.8 78.5L9.5 77.8L7.2 76.7L5.1 75.1L3.2 73.1L1.6 70.8L0.3 68.1L-1 63.4L-1.4 58.1L0.4 36.8L1.3 31.1L2.3 27.4L3.7 24.8L5.5 22.9L7.2 22.1L9.5 21.6L17.2 21.4L20.8 20.3L24.5 20.5L26.5 21.1L28 23.4L28.7 26.1L30.2 36.6L31.5 41.2L32.9 44.4L34.2 46.1L36.2 47.8L43.1 51.1L45.2 52.6L47.1 55.4L47.4 58.4L46.7 60.8L45.2 62.8L40.5 66.4L35.1 71.8L32.2 74.1L29.5 75.6L25.8 76.9L17.2 78.5Z" fill="url(#p1)" fill-rule="evenodd"/>
<path d="M23.2 75.4L18.5 75.7L13.8 75.3L10.8 74.5L8.2 73L5.8 70.8L3.7 67.4L2.6 64.1L2.1 60.1L3.5 34.4L4 30.4L5.1 27.4L6.5 25.6L8.5 24.5L11.2 24.1L17.2 23.9L19.8 22.1L21.5 21.7L25.5 22.2L26.5 22.8L27.4 24.1L28.3 28.1L28.8 39L29.8 44.1L31.7 47.4L36 52.1L37.7 54.4L38.7 56.4L39.1 58.8L38.8 61.4L37.7 64.4L36.1 67.4L34 70.1L31.8 72L29.2 73.6L26.5 74.7L23.2 75.4Z" fill="url(#p2)" fill-rule="evenodd"/>
<path d="M22.5 73.8L19.2 73.7L15.8 73.2L12.8 72.2L10.2 70.7L8.2 68.8L6.7 66.4L5.6 63.4L5.3 60.4L5.8 53.8L5.5 46.1L5.8 37.8L6.2 33.1L6.9 30.4L8.2 28.5L9.8 27.6L17.2 27L19.5 23.8L20.5 23.2L21.5 23.1L25.5 23.5L26.5 24.4L27.1 25.4L27.9 29.8L28.3 41.1L28.9 46.1L29.8 48.2L33.4 52.4L35 54.8L36 57.4L36.3 59.8L36.1 62.4L35.4 64.8L33.9 67.4L32.3 69.4L30.2 71.2L27.8 72.5L25.5 73.3L22.5 73.8Z" fill="url(#p3)" fill-rule="evenodd"/>
</g><g filter="url(#bl)">
<path d="M23.8 72.1L21.2 72.3L18.2 71.9L15.2 70.9L12.8 69.6L10.8 67.9L9.3 65.8L8.4 63.4L8 60.8L8.2 57.8L9.6 51.4L10 45.4L10.7 42.8L12.2 40.3L16.5 37.9L17.2 35.6L17.9 30.1L18.7 27.1L19.8 25.1L21.5 24.4L25.2 24.8L26.2 25.5L26.8 26.8L27.5 30.4L27.9 42.1L28.5 48.4L29.2 49.9L32.1 53.4L33.4 55.4L34.2 57.8L34.5 59.8L34 63.8L33 66.1L31.8 67.8L30.2 69.4L28.2 70.7L23.8 72.1Z" fill="#4262fa" fill-rule="evenodd"/>
<path d="M24.2 70.8L21.8 71L19.2 70.7L16.8 69.9L14.5 68.7L12.7 67.1L11.5 65.4L10.6 63.4L10.1 61.1L10.4 57.8L11.7 54.4L13.5 51.6L16.8 48.2L17.5 46.8L18.2 41.5L18.9 29.4L19.8 26.7L20.5 26L21.5 25.7L25.2 26.2L25.9 26.8L26.5 28L27.1 31.8L27.9 49.4L28.5 51.1L32 55.8L32.8 57.8L33.1 59.8L32.7 63.4L30.8 66.9L27.8 69.4L24.2 70.8Z" fill="#2848f6" fill-rule="evenodd"/>
<path d="M23.8 68.5L20.2 68.4L18.2 67.7L16.6 66.8L14.3 64.1L13.4 60.8L13.6 58.4L14.4 56.4L15.6 54.8L18.2 52.2L18.8 50.8L19.9 32.1L20.5 29.8L21.2 29.1L21.8 28.9L24.5 29.4L25.2 30L25.6 31.1L26.1 34.1L26.8 51.4L27.5 53.4L29.9 57.1L30.7 60.1L30.4 62.8L29 65.4L26.8 67.3L23.8 68.5Z" fill="#2a78ff" fill-rule="evenodd"/>
<path d="M23.8 67.8L20.2 67.7L17.2 66.3L15 63.8L14.2 60.8L14.4 58.8L15.2 56.8L18.5 52.9L19.2 51.4L20.2 33.4L20.8 31L21.8 30.3L24.2 30.9L25.2 32.3L25.6 35.1L26.3 51.8L27 53.8L29.4 57.4L30.1 60.1L29.7 62.8L28.5 65.1L26.5 66.8L23.8 67.8Z" fill="#30b6f2" fill-rule="evenodd"/>
<path d="M24.2 67.1L20.8 67.2L17.8 66L15.8 63.8L14.9 60.8L15.1 58.8L15.8 57.1L18.9 53.4L19.7 51.8L20.8 34.8L21.2 33.3L21.8 32.6L23.6 33.4L24.5 35.1L25.6 44.1L25.6 51.8L26.4 53.8L28.9 57.8L29.5 60.1L29.2 62.4L28.2 64.5L26.5 66.1L24.2 67.1Z" fill="#4adcc0" fill-rule="evenodd"/>
<path d="M23.2 66.8L20.5 66.6L17.8 65.2L16.2 63.1L15.6 60.8L15.7 59.1L16.4 57.4L19.5 53.8L20.4 52.1L20.7 50.8L20.8 43.2L21.5 40.5L22.2 39.9L23.8 41.5L24.7 43.8L25 46.4L24.5 50.8L24.8 52.1L28.2 57.8L28.9 60.4L28.5 62.8L27.2 64.8L25.5 66L23.2 66.8Z" fill="#72e882" fill-rule="evenodd"/>
<path d="M23.2 65.8L20.8 65.6L18.8 64.6L17.3 62.8L16.7 60.8L17 58.8L17.9 57.1L20.5 54.6L22.2 53.8L23.8 54.3L25.8 55.9L27.3 58.1L27.9 60.1L27.6 62.1L26.8 63.8L25.2 65.1L23.2 65.8Z" fill="#b6f04a" fill-rule="evenodd"/>
<path d="M23.8 64.5L21.8 64.7L20.2 64.1L18.8 63L18 61.4L18 59.8L18.7 58.1L19.9 56.8L21.5 55.8L23.2 55.8L24.5 56.4L25.8 57.8L26.6 59.4L26.7 61.1L26.3 62.4L25.2 63.8L23.8 64.5Z" fill="#eee631" fill-rule="evenodd"/>
<path d="M23.2 63.5L21.8 63.5L20.6 63.1L19.6 62.1L19.2 61.1L19.2 59.8L19.7 58.8L20.6 57.8L21.8 57.2L23.2 57.2L24.2 57.7L25.1 58.8L25.5 59.8L25.6 61.1L25.2 62.1L24.2 63.1L23.2 63.5Z" fill="#f4a228" fill-rule="evenodd"/>
<path d="M23.2 62.4L21.5 62.4L20.4 61.1L20.5 59.4L21.8 58.4L23.5 58.6L24.4 59.8L24.3 61.4L23.2 62.4Z" fill="#e6461a" fill-rule="evenodd"/>
</g></g>
</g>
<rect x="0" y="0" width="74.50" height="73.75" fill="none" stroke="#a4a4a4" stroke-width="1"/>
<path d="M0 0V73.75H74.50" fill="none" stroke="#7a7a7a" stroke-width="1"/>
<line x1="-1.5" y1="6.5" x2="0" y2="6.5" stroke="#555" stroke-width="0.8"/>
<text x="-2.5" y="7.8" font-size="4" fill="#8a8a8a" text-anchor="end">10⁵</text>
<line x1="-1.5" y1="23.0" x2="0" y2="23.0" stroke="#555" stroke-width="0.8"/>
<text x="-2.5" y="24.3" font-size="4" fill="#8a8a8a" text-anchor="end">10⁴</text>
<line x1="-1.5" y1="40.0" x2="0" y2="40.0" stroke="#555" stroke-width="0.8"/>
<text x="-2.5" y="41.3" font-size="4" fill="#8a8a8a" text-anchor="end">10³</text>
<line x1="-1.5" y1="57.5" x2="0" y2="57.5" stroke="#555" stroke-width="0.8"/>
<text x="-2.5" y="58.8" font-size="4" fill="#8a8a8a" text-anchor="end">10²</text>
<line x1="-1.5" y1="65.5" x2="0" y2="65.5" stroke="#555" stroke-width="0.8"/>
<text x="-2.5" y="66.8" font-size="4" fill="#8a8a8a" text-anchor="end">0</text>
<line x1="7.5" y1="73.8" x2="7.5" y2="75.2" stroke="#555" stroke-width="0.8"/>
<text x="7.5" y="80.2" font-size="4" fill="#8a8a8a" text-anchor="middle">0</text>
<line x1="15.0" y1="73.8" x2="15.0" y2="75.2" stroke="#555" stroke-width="0.8"/>
<text x="15.0" y="80.2" font-size="4" fill="#8a8a8a" text-anchor="middle">10²</text>
<line x1="33.5" y1="73.8" x2="33.5" y2="75.2" stroke="#555" stroke-width="0.8"/>
<text x="33.5" y="80.2" font-size="4" fill="#8a8a8a" text-anchor="middle">10³</text>
<line x1="50.0" y1="73.8" x2="50.0" y2="75.2" stroke="#555" stroke-width="0.8"/>
<text x="50.0" y="80.2" font-size="4" fill="#8a8a8a" text-anchor="middle">10⁴</text>
<line x1="66.0" y1="73.8" x2="66.0" y2="75.2" stroke="#555" stroke-width="0.8"/>
<text x="66.0" y="80.2" font-size="4" fill="#8a8a8a" text-anchor="middle">10⁵</text>
<line x1="33.00" y1="0" x2="33.00" y2="73.75" stroke="#505050" stroke-width="1"/>
<line x1="0" y1="47.50" x2="74.50" y2="47.50" stroke="#505050" stroke-width="1"/>
<g stroke="#000" stroke-width="0.15">
<text x="1.6" y="10.3" font-size="9.8">23.2</text>
<text x="73.30" y="10.3" font-size="9.8" text-anchor="end">0.24</text>
<text x="1.6" y="72.75" font-size="9.8">75.5</text>
<text x="73.30" y="72.75" font-size="9.8" text-anchor="end">0.99</text>
</g>
</g>
<g transform="translate(583.75 321.25)">
<clipPath id="c24"><rect x="0" y="0" width="74.25" height="73.75"/></clipPath>
<g clip-path="url(#c24)">
<g transform="translate(-0.75 -0.25)">
<g filter="url(#bl2)">
<path d="M27.2 75.1L23.6 74.7L20.2 73.5L16.9 71.5L13.1 68.4L9.5 64.8L7.4 61.8L6 58.4L5.4 54.8L4.2 36.8L4.7 31.4L6.1 26.4L8.8 21.1L12.2 17.2L16.2 14.7L20.9 13.5L25.6 13.5L35.2 15.5L42.6 15.8L45.9 16.3L50.2 17.9L54.2 20.9L57 24.8L58.7 29.1L59.1 31.8L59.2 34.8L57.9 41.8L57.9 43.8L58.6 45.9L62.1 52.8L63.1 56.8L62.7 60.8L60.8 64.8L57.3 69.1L52.9 72.3L50.2 73.4L47.2 74L43.9 74L37.2 73L30.6 74.7L27.2 75.1Z" fill="url(#p1)" fill-rule="evenodd"/>
<path d="M28.6 73.1L24.6 72.9L20.9 71.6L17.4 69.1L14.4 65.4L12.4 61.8L11.1 57.8L8.9 43.1L8.7 38.1L9.1 33.4L10.1 29.1L11.8 25.4L13.8 22.4L16.6 19.9L19.6 18.2L22.9 17.4L25.9 17.5L28.9 18.2L31.2 19.3L35.2 21.9L36.6 22.4L37.9 22.3L42.9 21.1L46.2 21.3L49.2 22.5L51.6 24.3L53.9 27.8L55.1 32.1L55.1 35.8L53.7 41.8L53.8 43.8L58.2 51.1L59.2 53.8L59.7 56.4L59.5 60.4L58 64.4L55.3 68.1L51.9 70.6L48.6 71.8L45.6 72.1L43.2 71.9L38.6 70.6L36.9 70.5L31.2 72.5L28.6 73.1Z" fill="url(#p2)" fill-rule="evenodd"/>
<path d="M28.6 71.4L26.2 71.5L23.6 71L21.2 69.9L19.2 68.4L17.4 66.4L15.8 63.8L14.8 60.8L14.3 58.1L14.3 54.8L14.9 47.8L12.9 37.4L12.9 33.8L13.4 30.1L15 26.1L17.2 23L20.2 20.8L23.6 19.8L26.9 20L30.2 21.5L32.6 23.4L35.9 27.6L36.9 28.3L37.9 28.2L41.9 25.6L44.2 25.1L47.2 25.6L49.6 27.3L51.5 30.4L52.1 34.1L51.7 37.1L49.9 41.8L49.8 43.1L50.5 44.4L53.9 47.9L55.8 50.4L57.2 53.4L57.8 56.4L57.6 60.1L56.4 63.8L54 67.1L50.9 69.3L47.9 70.3L44.9 70.4L42.6 70L38.5 68.4L36.9 68.2L35.6 68.5L31.6 70.6L28.6 71.4ZM36.6 47.1L39 45.4L40 43.4L39.7 42.1L38.6 40.4L37.2 38.8L36.2 38.3L35.2 38.7L33.6 40.5L31.9 42.8L31.5 44.1L31.9 45.1L33.6 46.4L35.2 47.1L36.6 47.1Z" fill="url(#p3)" fill-rule="evenodd"/>
</g><g filter="url(#bl)">
<path d="M27.6 70.1L25.6 70L23.6 69.5L21.6 68.4L19.9 67L17.4 63.4L16.6 61.1L16.3 58.8L16.5 55.1L17.7 51.4L19.6 48.6L23.3 45.1L18.9 42.1L16.7 39.1L15.4 34.8L15.7 30.1L16.9 26.8L18.9 24.1L21.6 22.3L24.2 21.7L26.2 21.8L27.9 22.3L30.9 24.3L33.2 27.8L34.2 31.8L33.8 35.1L32.2 38.4L29.9 41.1L25.7 44.4L25.5 45.1L30.2 47.2L34.6 49.7L35.9 50L37.2 49.7L41.2 46.8L43.6 45.7L45.9 45.3L48.2 45.8L51.2 47.5L53.8 50.1L55.5 53.1L56.4 56.8L56.1 60.4L54.8 63.8L52.6 66.4L49.9 68.2L47.2 69L44.2 68.9L41.9 68.2L38.2 66.3L36.9 66L35.6 66.4L30.9 69.3L27.6 70.1ZM45.6 38.9L43.9 38.8L42.6 38L41.5 36.4L41 34.8L41 33.1L41.7 31.4L42.9 30.1L44.2 29.6L45.6 29.7L47 30.4L48 31.8L48.5 33.4L48.5 35.1L47.9 36.8L46.9 38.1L45.6 38.9Z" fill="#4262fa" fill-rule="evenodd"/>
<path d="M24.9 41.4L21.9 41L19.3 39.1L17.7 36.4L17 32.8L17.6 29.1L19.2 26.1L21.9 23.9L24.9 23.2L27.9 24L30.2 25.8L32 28.8L32.6 32.1L32 35.4L30.3 38.4L27.6 40.6L24.9 41.4ZM28.2 68.8L25.2 68.7L22.2 67.4L19.8 65.1L18.2 61.8L17.6 58.4L18.2 54.8L19.6 51.8L21.9 49.5L24.9 48.2L27.9 48.2L30.9 49.3L34.9 52L36.2 52.4L37.2 52L40.3 49.4L42.2 48.1L44.2 47.3L46.2 47.2L48.2 47.5L50.2 48.5L51.9 49.8L53.3 51.4L54.4 53.4L55 55.4L55.1 59.4L53.8 63.1L52.6 64.8L50.9 66.2L47.9 67.6L44.6 67.7L42.2 67L37.9 64.2L36.6 63.9L35.6 64.3L31.6 67.5L28.2 68.8Z" fill="#2848f6" fill-rule="evenodd"/>
<path d="M25.9 37.8L23.9 37.9L21.9 36.9L20.6 35.2L20 33.1L20.1 30.8L20.9 28.6L22.4 27.1L24.2 26.3L26.2 26.5L27.9 27.4L29.2 29.1L29.8 31.1L29.7 33.4L29 35.4L27.6 37L25.9 37.8ZM46.9 65.5L44.2 65.3L41.6 63.8L39.5 61.4L38.4 58.4L38.9 55.4L40.6 52.5L42.9 50.5L45.6 49.7L48.2 50.1L50.6 51.6L52.2 53.9L53.1 56.8L52.9 59.8L51.7 62.4L49.6 64.5L46.9 65.5ZM28.2 66.4L25.6 66.4L22.9 65.1L21 62.8L20 60.1L20 57.1L21.2 54.1L23.2 51.9L25.9 50.9L28.6 51.1L31.2 52.5L33.5 55.1L34.5 57.8L34.3 60.4L32.8 63.4L30.7 65.4L28.2 66.4Z" fill="#2a78ff" fill-rule="evenodd"/>
<path d="M25.9 36.8L24.2 37L22.6 36.2L21.4 34.8L20.8 33.1L20.8 31.1L21.4 29.4L22.6 28L24.2 27.2L25.9 27.3L27.2 28L28.4 29.4L29 31.1L29 33.1L28.4 34.8L27.2 36.1L25.9 36.8ZM47.2 64.8L44.6 64.7L42.2 63.6L40.3 61.4L39.3 58.8L39.4 56.1L40.6 53.4L42.7 51.4L45.2 50.4L47.6 50.6L49.9 51.8L51.5 53.8L52.5 56.4L52.4 59.1L51.4 61.8L49.6 63.7L47.2 64.8ZM28.2 65.8L25.9 65.8L23.5 64.8L21.6 62.8L20.6 60.1L20.7 57.1L21.7 54.4L23.6 52.5L25.9 51.6L28.6 51.8L30.9 53L32.7 55.1L33.7 57.8L33.5 60.4L32.4 62.8L30.6 64.7L28.2 65.8Z" fill="#30b6f2" fill-rule="evenodd"/>
<path d="M25.9 35.8L24.6 36L23.2 35.5L22.2 34.5L21.7 33.1L21.6 31.4L22 30.1L22.9 28.9L24.2 28.2L25.6 28.2L26.7 28.8L27.6 29.8L28.2 31.1L28.2 32.8L27.8 34.1L26.9 35.2L25.9 35.8ZM47.6 64.1L45.2 64.3L42.9 63.3L41 61.4L40 59.1L40 56.4L40.9 54.1L42.6 52.2L44.9 51.1L47.2 51.1L49.2 52L50.9 53.8L51.9 56.1L52 58.8L51.2 61.1L49.6 63L47.6 64.1ZM28.2 65.2L25.9 65.2L23.9 64.4L22.1 62.4L21.2 60.1L21.2 57.4L22 55.1L23.6 53.3L25.9 52.2L28.2 52.3L30.5 53.4L32.2 55.4L33 57.8L32.9 60.1L32 62.4L30.2 64.2L28.2 65.2Z" fill="#4adcc0" fill-rule="evenodd"/>
<path d="M25.6 34.8L24.6 34.9L23.6 34.4L22.6 32.8L22.9 30.5L23.6 29.7L24.6 29.2L26.2 29.7L27.3 31.4L27 33.4L25.6 34.8ZM46.2 63.8L44.2 63.4L42.2 62.1L40.9 60.1L40.4 57.8L40.9 55.4L42.1 53.4L43.9 52L45.9 51.5L47.9 51.9L49.7 53.1L51.1 55.1L51.6 57.4L51.2 59.8L50.2 61.8L48.2 63.3L46.2 63.8ZM27.2 64.8L25.2 64.4L23.3 63.1L22.2 61.4L21.6 59.1L21.9 56.8L22.9 54.8L24.6 53.3L26.6 52.7L28.6 53L30.6 54.3L31.9 56.1L32.5 58.4L32.2 60.8L31.1 62.8L29.2 64.2L27.2 64.8Z" fill="#72e882" fill-rule="evenodd"/>
<path d="M46.6 62.8L44.9 62.6L43.2 61.8L41.9 60.1L41.4 58.1L41.6 56.1L42.4 54.4L43.9 53.1L45.6 52.5L47.2 52.6L48.9 53.6L50.1 55.1L50.7 57.1L50.5 59.1L49.8 60.8L48.2 62.2L46.6 62.8ZM27.2 63.8L25.6 63.5L23.9 62.4L22.9 60.9L22.5 59.1L22.7 57.1L23.6 55.5L24.9 54.3L26.6 53.8L28.2 54L29.9 55L31 56.4L31.5 58.4L31.3 60.4L30.4 62.1L28.9 63.3L27.2 63.8Z" fill="#b6f04a" fill-rule="evenodd"/>
<path d="M47.2 61.5L45.6 61.7L44.2 61.2L43.1 60.1L42.5 58.8L42.4 57.1L42.9 55.6L43.9 54.3L45.2 53.7L46.6 53.6L47.9 54.1L48.9 55.1L49.6 56.4L49.7 58.1L49.4 59.4L48.5 60.8L47.2 61.5ZM27.9 62.5L26.6 62.6L25.2 62.1L24.2 61.1L23.6 59.8L23.6 58.1L24 56.8L24.9 55.6L26.2 55L27.6 55L28.7 55.4L29.7 56.4L30.3 57.8L30.4 59.4L30 60.8L29.2 61.8L27.9 62.5Z" fill="#eee631" fill-rule="evenodd"/>
<path d="M46.9 60.5L45.9 60.7L44.9 60.4L43.9 59.4L43.5 58.4L43.4 57.1L43.8 56.1L44.6 55.2L45.6 54.7L46.6 54.7L47.5 55.1L48.7 56.8L48.7 58.1L48.5 59.1L47.9 59.9L46.9 60.5ZM27.2 61.4L25.6 60.9L24.9 60.1L24.6 59.1L25.1 57.1L25.9 56.4L26.9 56.1L28.6 56.8L29.4 58.8L28.9 60.4L28.2 61.1L27.2 61.4Z" fill="#f4a228" fill-rule="evenodd"/>
<path d="M46.9 59.4L45.6 59.6L44.4 58.4L44.5 56.8L45.6 55.7L46.9 55.9L47.7 56.8L47.8 58.4L46.9 59.4ZM27.2 60.2L26.2 60L25.7 59.1L25.9 58.1L26.6 57.4L27.6 57.5L28.2 58.4L28.1 59.4L27.2 60.2Z" fill="#e6461a" fill-rule="evenodd"/>
</g></g>
</g>
<rect x="0" y="0" width="74.25" height="73.75" fill="none" stroke="#a4a4a4" stroke-width="1"/>
<path d="M0 0V73.75H74.25" fill="none" stroke="#7a7a7a" stroke-width="1"/>
<line x1="-1.5" y1="6.5" x2="0" y2="6.5" stroke="#555" stroke-width="0.8"/>
<text x="-2.5" y="7.8" font-size="4" fill="#8a8a8a" text-anchor="end">10⁵</text>
<line x1="-1.5" y1="23.0" x2="0" y2="23.0" stroke="#555" stroke-width="0.8"/>
<text x="-2.5" y="24.3" font-size="4" fill="#8a8a8a" text-anchor="end">10⁴</text>
<line x1="-1.5" y1="40.0" x2="0" y2="40.0" stroke="#555" stroke-width="0.8"/>
<text x="-2.5" y="41.3" font-size="4" fill="#8a8a8a" text-anchor="end">10³</text>
<line x1="-1.5" y1="57.5" x2="0" y2="57.5" stroke="#555" stroke-width="0.8"/>
<text x="-2.5" y="58.8" font-size="4" fill="#8a8a8a" text-anchor="end">10²</text>
<line x1="-1.5" y1="65.5" x2="0" y2="65.5" stroke="#555" stroke-width="0.8"/>
<text x="-2.5" y="66.8" font-size="4" fill="#8a8a8a" text-anchor="end">0</text>
<line x1="7.5" y1="73.8" x2="7.5" y2="75.2" stroke="#555" stroke-width="0.8"/>
<text x="7.5" y="80.2" font-size="4" fill="#8a8a8a" text-anchor="middle">0</text>
<line x1="15.0" y1="73.8" x2="15.0" y2="75.2" stroke="#555" stroke-width="0.8"/>
<text x="15.0" y="80.2" font-size="4" fill="#8a8a8a" text-anchor="middle">10²</text>
<line x1="33.5" y1="73.8" x2="33.5" y2="75.2" stroke="#555" stroke-width="0.8"/>
<text x="33.5" y="80.2" font-size="4" fill="#8a8a8a" text-anchor="middle">10³</text>
<line x1="50.0" y1="73.8" x2="50.0" y2="75.2" stroke="#555" stroke-width="0.8"/>
<text x="50.0" y="80.2" font-size="4" fill="#8a8a8a" text-anchor="middle">10⁴</text>
<line x1="66.0" y1="73.8" x2="66.0" y2="75.2" stroke="#555" stroke-width="0.8"/>
<text x="66.0" y="80.2" font-size="4" fill="#8a8a8a" text-anchor="middle">10⁵</text>
<line x1="33.75" y1="0" x2="33.75" y2="73.75" stroke="#505050" stroke-width="1"/>
<line x1="0" y1="47.00" x2="74.25" y2="47.00" stroke="#505050" stroke-width="1"/>
<rect x="33.75" y="47.00" width="40.50" height="26.75" fill="none" stroke="#cc1f1f" stroke-width="2"/>
<g stroke="#000" stroke-width="0.15">
<text x="1.6" y="10.3" font-size="9.8">14.7</text>
<text x="73.05" y="10.3" font-size="9.8" text-anchor="end">7.95</text>
<text x="1.6" y="72.75" font-size="9.8">38.5</text>
<text x="73.05" y="72.75" font-size="9.8" text-anchor="end">38.9</text>
</g>
</g>
<g transform="translate(186.20 498.80)">
<clipPath id="c25"><rect x="0" y="0" width="77.70" height="69.80"/></clipPath>
<g clip-path="url(#c25)">
<g transform="translate(-0.20 -0.80)">
<g filter="url(#bl2)">
<path d="M50.4 70.6L49.4 70.4L48.3 69.6L46.5 66.3L44 56.6L41.3 47.3L40.8 43.3L41.5 39.3L42.8 36.3L47.5 30.3L49.7 24.8L50.7 23.8L51.7 23.6L52.7 24.1L53.4 24.9L55.7 29.8L59.7 33.1L61.5 35.3L63.1 39L63.6 43L63.2 45.6L62.6 47.6L57.4 56.3L53.6 67.6L52 69.9L50.4 70.6Z" fill="url(#p1)" fill-rule="evenodd"/>
<path d="M51 65.1L50 65.3L49.4 64.9L47.7 62.2L42.8 48.3L42.2 45.6L42.1 43.3L42.8 39.3L44.5 36L46.2 34L50 30.4L51.7 29.6L57.4 33L59.9 35.3L61.8 39L62.3 42.6L61.9 45.6L60.9 48.3L56.7 54.4L52.4 63.5L51 65.1Z" fill="url(#p2)" fill-rule="evenodd"/>
<path d="M50.7 59.4L49.7 59.2L48.7 58.3L46.5 54.6L43.8 47.6L43.3 45.3L43.2 43L44 39.3L46 35.8L49.4 33L50.7 32.4L52.4 32.2L56 33.5L58.9 36L60 37.6L60.8 39.6L61.2 43.3L60.6 46.3L59.2 49L52.7 57.8L51.7 58.9L50.7 59.4Z" fill="url(#p3)" fill-rule="evenodd"/>
</g><g filter="url(#bl)">
<path d="M51.4 55.8L50.4 55.9L49.4 55.5L47.1 52.6L44.7 47.3L44.2 43L44.9 39.6L46.7 36.6L49.4 34.4L51 33.7L52.4 33.6L55.4 34.4L58.2 36.6L59.8 39.6L60.3 43L59.6 46L58.2 48.6L53.4 54.2L51.4 55.8Z" fill="#4262fa" fill-rule="evenodd"/>
<path d="M51.7 53.3L50.7 53.5L49.7 53.2L48.7 52.5L47.4 50.7L45.5 46.6L45 43L45.8 39.6L47.6 37L50 35.2L52.7 34.7L55.4 35.5L57.5 37.3L59 40L59.4 43L58.8 45.6L57.4 48.3L54.4 51.5L51.7 53.3Z" fill="#2848f6" fill-rule="evenodd"/>
<path d="M52.4 50.1L50.4 50.1L48.4 48.6L47 46L46.6 43.3L47.1 40.6L48.4 38.5L50.4 37L52.4 36.6L54.4 37L56.1 38.3L57.4 40.3L57.8 42.6L57.4 45L56.3 47L54.4 49L52.4 50.1Z" fill="#2a78ff" fill-rule="evenodd"/>
<path d="M52.4 49.4L50.4 49.4L48.7 48.1L47.5 46L47 43.3L47.4 41L48.6 39L50.4 37.6L52.4 37.1L54.4 37.6L55.8 38.6L56.9 40.3L57.3 42.6L57 44.6L56 46.6L54.4 48.3L52.4 49.4Z" fill="#30b6f2" fill-rule="evenodd"/>
<path d="M52.7 48.7L51 48.9L49.4 48.1L47.9 46L47.4 43.6L47.8 41.3L48.7 39.5L50.4 38.1L52 37.6L53.7 37.8L55.4 38.8L56.4 40.3L56.9 42.3L56.7 44.3L56 46L54.5 47.6L52.7 48.7Z" fill="#4adcc0" fill-rule="evenodd"/>
<path d="M52 48.3L50.4 48.1L49 47L48 45L47.8 43L48.3 41L49.4 39.3L51 38.2L52.7 38L54.4 38.6L55.6 39.6L56.4 41.3L56.5 43L56 45L55 46.5L53.7 47.7L52 48.3Z" fill="#72e882" fill-rule="evenodd"/>
<path d="M52.4 47.4L51 47.3L49.7 46.5L48.8 45L48.5 43.3L48.8 41.6L49.7 40L51 39L52.4 38.8L53.7 39.1L54.9 40L55.6 41.3L55.9 42.6L55.6 44.3L54.9 45.6L53.7 46.8L52.4 47.4Z" fill="#b6f04a" fill-rule="evenodd"/>
<path d="M52.7 46.3L51.4 46.4L50.5 46L49.7 45L49.3 43.6L49.4 42.3L49.9 41L51 40L52 39.6L53 39.7L54 40.3L54.7 41.1L55.1 42.3L54.6 44.6L53.7 45.7L52.7 46.3Z" fill="#eee631" fill-rule="evenodd"/>
<path d="M52.7 45.3L51.7 45.5L51 45.2L50.1 43.6L50.4 41.6L51 41L52 40.5L53.5 41L54.3 42.3L54 44L52.7 45.3Z" fill="#f4a228" fill-rule="evenodd"/>
<path d="M52 44.6L51 44.1L50.7 43L51.4 41.7L52.4 41.3L53.4 42L53.6 43L53 44.2L52 44.6Z" fill="#e6461a" fill-rule="evenodd"/>
</g></g>
</g>
<rect x="0" y="0" width="77.70" height="69.80" fill="none" stroke="#a4a4a4" stroke-width="1"/>
<path d="M0 0V69.80H77.70" fill="none" stroke="#7a7a7a" stroke-width="1"/>
<line x1="-1.5" y1="7.0" x2="0" y2="7.0" stroke="#555" stroke-width="0.8"/>
<text x="-2.5" y="8.3" font-size="4" fill="#8a8a8a" text-anchor="end">10⁵</text>
<line x1="-1.5" y1="22.4" x2="0" y2="22.4" stroke="#555" stroke-width="0.8"/>
<text x="-2.5" y="23.7" font-size="4" fill="#8a8a8a" text-anchor="end">10⁴</text>
<line x1="-1.5" y1="38.4" x2="0" y2="38.4" stroke="#555" stroke-width="0.8"/>
<text x="-2.5" y="39.7" font-size="4" fill="#8a8a8a" text-anchor="end">10³</text>
<line x1="-1.5" y1="55.0" x2="0" y2="55.0" stroke="#555" stroke-width="0.8"/>
<text x="-2.5" y="56.3" font-size="4" fill="#8a8a8a" text-anchor="end">10²</text>
<line x1="-1.5" y1="62.7" x2="0" y2="62.7" stroke="#555" stroke-width="0.8"/>
<text x="-2.5" y="64.0" font-size="4" fill="#8a8a8a" text-anchor="end">0</text>
<line x1="8.2" y1="69.8" x2="8.2" y2="71.3" stroke="#555" stroke-width="0.8"/>
<text x="8.2" y="76.3" font-size="4" fill="#8a8a8a" text-anchor="middle">0</text>
<line x1="16.0" y1="69.8" x2="16.0" y2="71.3" stroke="#555" stroke-width="0.8"/>
<text x="16.0" y="76.3" font-size="4" fill="#8a8a8a" text-anchor="middle">10²</text>
<line x1="34.9" y1="69.8" x2="34.9" y2="71.3" stroke="#555" stroke-width="0.8"/>
<text x="34.9" y="76.3" font-size="4" fill="#8a8a8a" text-anchor="middle">10³</text>
<line x1="53.0" y1="69.8" x2="53.0" y2="71.3" stroke="#555" stroke-width="0.8"/>
<text x="53.0" y="76.3" font-size="4" fill="#8a8a8a" text-anchor="middle">10⁴</text>
<line x1="70.3" y1="69.8" x2="70.3" y2="71.3" stroke="#555" stroke-width="0.8"/>
<text x="70.3" y="76.3" font-size="4" fill="#8a8a8a" text-anchor="middle">10⁵</text>
<rect x="42.00" y="17.60" width="18.10" height="17.90" fill="none" stroke="#3a3a3a" stroke-width="1"/>
<text x="39.80" y="23.40" font-size="10.5" text-anchor="end" stroke="#000" stroke-width="0.1">0.68</text>
</g>
<g transform="translate(286.40 499.00)">
<clipPath id="c26"><rect x="0" y="0" width="78.00" height="70.00"/></clipPath>
<g clip-path="url(#c26)">
<g transform="translate(-0.40 0.00)">
<g filter="url(#bl2)">
<path d="M51.6 70L50.2 70.1L49.2 69.5L48.1 68.2L47.1 66.2L41.8 46.8L41.3 43.2L41.6 40.2L42.3 37.8L45.9 31.2L46.8 25.2L47.8 21.8L49.6 19.1L50.6 18.4L51.9 18L53.9 18.7L55.9 21.2L57 24.2L58.1 29.8L58.9 31.2L61.5 34.2L62.8 36.2L63.8 39.2L64.1 42.2L63.7 45.2L62.8 47.8L57.9 55.7L53.9 67.5L52.9 69L51.6 70Z" fill="url(#p1)" fill-rule="evenodd"/>
<path d="M51.6 64.5L50.6 64.7L49.9 64.4L48.2 61.7L43.4 47.8L42.6 43.2L42.8 40.8L43.5 38.2L47.2 31.5L47.9 26.2L48.7 23.5L50.2 21.2L51.9 20.4L53.6 21L55 22.8L55.8 25.2L56.9 30.5L61.5 36.5L62.5 39.2L62.8 42.2L62.4 45.2L61.4 47.8L57.2 53.8L52.9 62.9L51.6 64.5Z" fill="url(#p2)" fill-rule="evenodd"/>
<path d="M51.2 58.8L50.2 58.7L49.2 57.8L47.2 54.5L44.3 47.2L43.7 42.8L44 40.5L44.7 38.2L48.3 32.2L49.7 25.2L50.6 23.7L51.9 23L53.2 23.5L54.2 25L55.5 30.5L56.1 31.8L59.2 35.2L60.6 37.2L61.4 39.5L61.7 42.2L61.3 45.2L59.9 48.2L53.2 57.3L52.2 58.3L51.2 58.8Z" fill="url(#p3)" fill-rule="evenodd"/>
</g><g filter="url(#bl)">
<path d="M51.9 55.2L50.9 55.4L49.9 55L47.9 52.6L45.4 47.2L44.6 43.2L44.9 40.8L45.6 38.5L49.7 32.5L50.9 27.6L51.9 26.5L52.6 26.7L53.1 27.5L53.9 30.8L54.6 32.2L58.1 35.5L59.6 37.5L60.5 39.8L60.8 42.2L60.4 44.8L58.9 47.8L53.9 53.7L51.9 55.2Z" fill="#4262fa" fill-rule="evenodd"/>
<path d="M51.9 52.9L50.9 53L49.9 52.5L47.9 50.3L46.1 46.5L45.5 42.8L46 39.8L47.4 37.2L50.2 34.1L52.2 33L53.2 33.2L55.2 34.4L57.9 36.6L59.4 39.2L59.9 42.2L59.3 45.2L57.8 47.8L54.6 51.2L51.9 52.9Z" fill="#2848f6" fill-rule="evenodd"/>
<path d="M52.9 49.6L50.9 49.6L49.2 48.5L47.8 46.2L47.1 43.2L47.5 40.5L48.7 38.2L50.6 36.4L52.6 35.8L54.6 36.2L56.6 37.7L57.7 39.5L58.3 41.8L58 44.2L56.9 46.3L54.9 48.4L52.9 49.6Z" fill="#2a78ff" fill-rule="evenodd"/>
<path d="M52.9 48.9L51.2 49L49.4 47.8L48.1 45.8L47.5 43.2L47.8 40.8L48.9 38.6L50.6 37L52.6 36.3L54.6 36.8L56.2 38L57.4 39.8L57.8 41.8L57.5 44.2L56.6 46L54.9 47.8L52.9 48.9Z" fill="#30b6f2" fill-rule="evenodd"/>
<path d="M53.2 48.2L51.6 48.4L49.8 47.5L48.5 45.5L47.9 43.2L48.2 40.8L49.2 38.9L50.9 37.4L52.6 36.9L54.2 37.2L55.9 38.3L56.9 39.8L57.4 41.8L57.2 43.8L56.4 45.5L54.9 47.2L53.2 48.2Z" fill="#4adcc0" fill-rule="evenodd"/>
<path d="M52.2 47.9L50.9 47.6L49.5 46.5L48.6 44.6L48.3 42.5L48.8 40.5L49.8 38.8L51.2 37.7L52.9 37.3L54.6 37.8L55.9 38.9L56.8 40.5L57 42.5L56.6 44.4L55.6 46L53.9 47.4L52.2 47.9Z" fill="#72e882" fill-rule="evenodd"/>
<path d="M52.9 46.8L51.6 46.8L50.2 46L49.3 44.5L49 42.8L49.3 41.2L50.2 39.5L51.6 38.4L52.9 38.2L54.2 38.5L55.4 39.5L56.1 40.8L56.3 42.2L56.1 43.8L55.3 45.2L54.2 46.2L52.9 46.8Z" fill="#b6f04a" fill-rule="evenodd"/>
<path d="M52.9 45.9L51.6 45.8L50.7 45.2L50 44.2L49.8 42.8L49.9 41.5L50.6 40.2L51.6 39.4L52.9 39.1L53.9 39.3L54.9 40.1L55.6 42.2L54.9 44.5L53.9 45.4L52.9 45.9Z" fill="#eee631" fill-rule="evenodd"/>
<path d="M52.9 44.9L51.9 44.9L51.3 44.5L50.5 42.8L51.1 40.8L52.6 40L54.1 40.5L54.8 42.2L54.3 43.8L52.9 44.9Z" fill="#f4a228" fill-rule="evenodd"/>
<path d="M53.2 43.9L51.9 43.9L51.3 42.8L51.5 41.5L52.6 40.8L53.6 41.1L54 41.8L53.9 43.2L53.2 43.9Z" fill="#e6461a" fill-rule="evenodd"/>
</g></g>
</g>
<rect x="0" y="0" width="78.00" height="70.00" fill="none" stroke="#a4a4a4" stroke-width="1"/>
<path d="M0 0V70.00H78.00" fill="none" stroke="#7a7a7a" stroke-width="1"/>
<line x1="-1.5" y1="7.0" x2="0" y2="7.0" stroke="#555" stroke-width="0.8"/>
<text x="-2.5" y="8.3" font-size="4" fill="#8a8a8a" text-anchor="end">10⁵</text>
<line x1="-1.5" y1="22.4" x2="0" y2="22.4" stroke="#555" stroke-width="0.8"/>
<text x="-2.5" y="23.7" font-size="4" fill="#8a8a8a" text-anchor="end">10⁴</text>
<line x1="-1.5" y1="38.4" x2="0" y2="38.4" stroke="#555" stroke-width="0.8"/>
<text x="-2.5" y="39.7" font-size="4" fill="#8a8a8a" text-anchor="end">10³</text>
<line x1="-1.5" y1="55.0" x2="0" y2="55.0" stroke="#555" stroke-width="0.8"/>
<text x="-2.5" y="56.3" font-size="4" fill="#8a8a8a" text-anchor="end">10²</text>
<line x1="-1.5" y1="62.7" x2="0" y2="62.7" stroke="#555" stroke-width="0.8"/>
<text x="-2.5" y="64.0" font-size="4" fill="#8a8a8a" text-anchor="end">0</text>
<line x1="8.2" y1="70.0" x2="8.2" y2="71.5" stroke="#555" stroke-width="0.8"/>
<text x="8.2" y="76.5" font-size="4" fill="#8a8a8a" text-anchor="middle">0</text>
<line x1="16.0" y1="70.0" x2="16.0" y2="71.5" stroke="#555" stroke-width="0.8"/>
<text x="16.0" y="76.5" font-size="4" fill="#8a8a8a" text-anchor="middle">10²</text>
<line x1="34.9" y1="70.0" x2="34.9" y2="71.5" stroke="#555" stroke-width="0.8"/>
<text x="34.9" y="76.5" font-size="4" fill="#8a8a8a" text-anchor="middle">10³</text>
<line x1="53.0" y1="70.0" x2="53.0" y2="71.5" stroke="#555" stroke-width="0.8"/>
<text x="53.0" y="76.5" font-size="4" fill="#8a8a8a" text-anchor="middle">10⁴</text>
<line x1="70.3" y1="70.0" x2="70.3" y2="71.5" stroke="#555" stroke-width="0.8"/>
<text x="70.3" y="76.5" font-size="4" fill="#8a8a8a" text-anchor="middle">10⁵</text>
<rect x="42.00" y="18.00" width="18.60" height="17.40" fill="none" stroke="#3a3a3a" stroke-width="1"/>
<text x="39.80" y="23.80" font-size="10.5" text-anchor="end" stroke="#000" stroke-width="0.1">4.45</text>
</g>
<g transform="translate(389.40 499.00)">
<clipPath id="c27"><rect x="0" y="0" width="77.40" height="70.00"/></clipPath>
<g clip-path="url(#c27)">
<g transform="translate(-0.40 0.00)">
<g filter="url(#bl2)">
<path d="M50.2 69.9L48.9 70L47.9 69.5L46.7 68.2L45.8 66.2L40.4 46.8L39.9 42.8L40.3 39.8L41 37.5L44.9 30.6L45.7 25.2L46.6 22.2L48.4 19.5L49.6 18.7L50.6 18.5L52.6 19.3L54.2 21.5L55.1 23.8L56.5 29.8L60.2 34.2L61.7 36.8L62.5 39.5L62.7 42.2L62.4 44.8L61.5 47.5L56.5 55.5L52.6 67.3L51.6 68.8L50.2 69.9Z" fill="url(#p1)" fill-rule="evenodd"/>
<path d="M49.9 64.6L48.9 64.6L48.2 64.1L46.8 61.5L42 47.8L41.3 45.2L41.2 42.8L41.5 40.2L42.4 37.5L46.1 31.2L47 26.2L47.7 23.8L48.9 21.9L50.6 21.2L51.9 21.6L53 22.8L54 25.2L55.3 30.5L58.8 34.5L60.1 36.5L61.1 39.2L61.4 42.2L61.1 44.8L60.1 47.5L55.6 54.2L51.2 63.3L49.9 64.6Z" fill="url(#p2)" fill-rule="evenodd"/>
<path d="M50.2 58.6L49.2 58.7L48.2 58.2L46.2 55.2L43 47.5L42.3 42.8L42.6 40.2L43.4 37.8L47.4 31.8L48.9 25.6L49.6 24.6L50.6 24.1L51.6 24.6L52.3 25.5L53.5 30.2L54.2 31.5L57.6 34.8L59 36.8L60.1 39.5L60.3 42.2L59.9 45.2L58.7 47.8L51.9 57.1L50.2 58.6Z" fill="url(#p3)" fill-rule="evenodd"/>
</g><g filter="url(#bl)">
<path d="M50.2 55.2L49.2 55.2L48.2 54.7L46.2 52L44 47.2L43.2 42.8L43.7 39.8L44.7 37.5L46.1 35.5L50.6 30.5L51.2 30.7L57.4 36.2L58.8 38.8L59.4 42.2L58.8 45.2L57.5 47.8L52.2 53.9L50.2 55.2Z" fill="#4262fa" fill-rule="evenodd"/>
<path d="M50.2 52.9L49.2 52.8L48.2 52.3L46.2 49.7L44.5 45.8L44.1 42.5L44.7 39.5L46.2 36.8L49.2 34L51.2 33.4L54.2 34.6L56.7 36.8L58.1 39.5L58.5 42.5L57.8 45.5L56.2 48L52.6 51.6L50.2 52.9Z" fill="#2848f6" fill-rule="evenodd"/>
<path d="M51.2 49.5L49.2 49.4L47.6 48.1L46.1 45.5L45.7 42.8L46 40.5L47.2 38.2L49.2 36.4L51.2 35.8L53.2 36.2L55.2 37.7L56.5 39.8L56.9 42.2L56.4 44.5L55.3 46.5L53.2 48.5L51.2 49.5Z" fill="#2a78ff" fill-rule="evenodd"/>
<path d="M51.2 48.9L49.6 48.8L47.8 47.5L46.5 45.2L46.1 42.5L46.6 40.2L47.9 38.1L49.6 36.8L51.6 36.3L53.6 36.9L55.1 38.2L56.2 40.2L56.4 42.2L56.1 44.2L54.9 46.3L53.2 47.9L51.2 48.9Z" fill="#30b6f2" fill-rule="evenodd"/>
<path d="M51.6 48.2L49.9 48.2L48.2 47.2L47 45.2L46.5 42.8L46.9 40.5L47.9 38.7L49.6 37.3L51.2 36.8L52.9 37.1L54.6 38.3L55.6 39.8L56 41.8L55.8 43.8L54.9 45.6L53.2 47.3L51.6 48.2Z" fill="#4adcc0" fill-rule="evenodd"/>
<path d="M51.9 47.5L50.2 47.7L48.6 46.9L47.4 45.2L46.9 43.2L47.1 41.2L48.1 39.2L49.6 37.8L51.2 37.3L52.9 37.6L54.2 38.5L55.2 40L55.6 41.8L55.5 43.5L54.7 45.2L53.6 46.5L51.9 47.5Z" fill="#72e882" fill-rule="evenodd"/>
<path d="M51.9 46.6L50.6 46.8L49.2 46.3L48.1 44.8L47.6 43.2L47.8 41.2L48.6 39.7L49.9 38.5L51.2 38.1L52.6 38.3L53.8 39.2L54.7 40.5L54.9 41.8L54.8 43.2L54.2 44.6L53.2 45.8L51.9 46.6Z" fill="#b6f04a" fill-rule="evenodd"/>
<path d="M51.2 45.8L50.2 45.7L49.2 45.1L48.5 43.8L48.4 42.5L48.6 41.2L49.2 40.1L50.2 39.3L51.6 39L52.6 39.3L53.6 40.1L54.2 42.2L53.9 43.5L53.2 44.7L52.2 45.5L51.2 45.8Z" fill="#eee631" fill-rule="evenodd"/>
<path d="M51.2 44.9L50.2 44.7L49.7 44.2L49.2 43.2L49.1 42.2L49.9 40.5L51.6 39.9L52.4 40.2L53 40.8L53.4 42.5L52.6 44.2L51.2 44.9Z" fill="#f4a228" fill-rule="evenodd"/>
<path d="M51.6 44L50.6 43.9L49.9 42.8L50.1 41.5L51.2 40.7L52.2 41.1L52.7 42.2L52.5 43.2L51.6 44Z" fill="#e6461a" fill-rule="evenodd"/>
</g></g>
</g>
<rect x="0" y="0" width="77.40" height="70.00" fill="none" stroke="#a4a4a4" stroke-width="1"/>
<path d="M0 0V70.00H77.40" fill="none" stroke="#7a7a7a" stroke-width="1"/>
<line x1="-1.5" y1="7.0" x2="0" y2="7.0" stroke="#555" stroke-width="0.8"/>
<text x="-2.5" y="8.3" font-size="4" fill="#8a8a8a" text-anchor="end">10⁵</text>
<line x1="-1.5" y1="22.4" x2="0" y2="22.4" stroke="#555" stroke-width="0.8"/>
<text x="-2.5" y="23.7" font-size="4" fill="#8a8a8a" text-anchor="end">10⁴</text>
<line x1="-1.5" y1="38.4" x2="0" y2="38.4" stroke="#555" stroke-width="0.8"/>
<text x="-2.5" y="39.7" font-size="4" fill="#8a8a8a" text-anchor="end">10³</text>
<line x1="-1.5" y1="55.0" x2="0" y2="55.0" stroke="#555" stroke-width="0.8"/>
<text x="-2.5" y="56.3" font-size="4" fill="#8a8a8a" text-anchor="end">10²</text>
<line x1="-1.5" y1="62.7" x2="0" y2="62.7" stroke="#555" stroke-width="0.8"/>
<text x="-2.5" y="64.0" font-size="4" fill="#8a8a8a" text-anchor="end">0</text>
<line x1="8.2" y1="70.0" x2="8.2" y2="71.5" stroke="#555" stroke-width="0.8"/>
<text x="8.2" y="76.5" font-size="4" fill="#8a8a8a" text-anchor="middle">0</text>
<line x1="16.0" y1="70.0" x2="16.0" y2="71.5" stroke="#555" stroke-width="0.8"/>
<text x="16.0" y="76.5" font-size="4" fill="#8a8a8a" text-anchor="middle">10²</text>
<line x1="34.9" y1="70.0" x2="34.9" y2="71.5" stroke="#555" stroke-width="0.8"/>
<text x="34.9" y="76.5" font-size="4" fill="#8a8a8a" text-anchor="middle">10³</text>
<line x1="53.0" y1="70.0" x2="53.0" y2="71.5" stroke="#555" stroke-width="0.8"/>
<text x="53.0" y="76.5" font-size="4" fill="#8a8a8a" text-anchor="middle">10⁴</text>
<line x1="70.3" y1="70.0" x2="70.3" y2="71.5" stroke="#555" stroke-width="0.8"/>
<text x="70.3" y="76.5" font-size="4" fill="#8a8a8a" text-anchor="middle">10⁵</text>
<rect x="42.00" y="17.30" width="17.70" height="18.00" fill="none" stroke="#3a3a3a" stroke-width="1"/>
<text x="39.80" y="23.10" font-size="10.5" text-anchor="end" stroke="#000" stroke-width="0.1">2.72</text>
</g>
<g transform="translate(492.00 500.70)">
<clipPath id="c28"><rect x="0" y="0" width="76.00" height="67.90"/></clipPath>
<g clip-path="url(#c28)">
<g transform="translate(0.00 -0.70)">
<g filter="url(#bl2)">
<path d="M48.8 69.2L47.5 69.2L46.5 68.6L45.4 67.2L44.5 65.2L41.8 54.9L39.3 46.5L38.7 42.2L39 39.5L39.7 37.2L43.4 30.2L44.3 24.2L45.2 21.2L47.2 18.3L48.2 17.6L49.5 17.3L51.5 18.2L53.3 20.5L54.3 23.5L55.5 29.2L58.8 33.2L60.1 35.2L61.2 38.5L61.5 41.5L61.2 43.9L60.4 46.5L55.2 55.2L51.5 66.2L50.2 68.4L48.8 69.2Z" fill="url(#p1)" fill-rule="evenodd"/>
<path d="M48.5 63.9L47.5 63.8L46.8 63.2L45.5 60.6L40.7 46.9L40.1 44.2L40 41.9L40.3 39.5L41 37.2L44.6 30.9L45.5 25.2L46.3 22.5L47.8 20.4L49.5 19.8L51.1 20.5L52.3 22.2L53.3 24.9L54.2 29.6L54.9 30.9L57.7 33.9L59 35.9L59.9 38.5L60.2 41.5L59.8 44.5L58.7 47.2L54.2 53.9L50.2 62.3L49.5 63.3L48.5 63.9Z" fill="url(#p2)" fill-rule="evenodd"/>
<path d="M48.8 58L47.8 58L46.8 57.3L44.8 54.1L41.8 46.5L41.1 42.2L41.3 39.9L42 37.5L45.9 31.2L47.2 24.5L48.2 23L49.5 22.5L50.5 22.9L51.5 24.3L53.3 30.9L56.8 34.5L58.1 36.5L58.9 39.2L59.1 41.5L58.6 44.5L57.4 47.2L50.8 56.2L48.8 58Z" fill="url(#p3)" fill-rule="evenodd"/>
</g><g filter="url(#bl)">
<path d="M48.8 54.6L47.8 54.5L46.8 53.8L44.8 51L42.6 45.9L42.1 41.9L42.4 39.5L43.1 37.5L47.1 31.9L47.7 30.5L48.5 27.2L48.8 26.6L49.5 26.3L50.2 26.9L51.7 31.2L55.5 34.7L56.9 36.5L57.9 38.9L58.1 41.5L57.6 44.5L56 47.5L50.8 53.4L48.8 54.6Z" fill="#4262fa" fill-rule="evenodd"/>
<path d="M48.8 52.2L47.8 52L46.8 51.4L44.9 48.9L43.3 45.2L42.9 41.9L43.5 38.9L44.9 36.2L47.8 33.2L48.8 32.5L49.8 32.3L52.8 33.7L55.5 36.1L56.9 38.9L57.3 41.5L56.7 44.5L55.1 47.2L51.2 51.1L48.8 52.2Z" fill="#2848f6" fill-rule="evenodd"/>
<path d="M49.8 48.9L47.8 48.6L46.2 47.1L44.9 44.5L44.5 41.9L44.9 39.5L46.2 37.2L48.2 35.5L50.2 35L52.2 35.5L54.2 37.1L55.3 39.2L55.7 41.5L55.2 43.9L54.1 45.9L52.2 47.7L49.8 48.9Z" fill="#2a78ff" fill-rule="evenodd"/>
<path d="M49.5 48.2L47.8 47.9L46.2 46.2L45.1 43.9L44.9 41.5L45.5 39.2L46.8 37.2L48.5 35.9L50.5 35.6L52.5 36.3L54.2 37.9L55.1 39.9L55.2 41.9L54.7 43.9L53.5 45.9L51.5 47.5L49.5 48.2Z" fill="#30b6f2" fill-rule="evenodd"/>
<path d="M49.8 47.6L48.2 47.4L46.8 46.2L45.7 44.2L45.3 41.9L45.7 39.9L46.8 37.8L48.5 36.5L50.2 36.1L51.8 36.5L53.5 37.7L54.5 39.5L54.8 41.5L54.4 43.5L53.2 45.5L51.5 47L49.8 47.6Z" fill="#4adcc0" fill-rule="evenodd"/>
<path d="M50.5 46.9L48.8 47L47.4 46.2L46.2 44.5L45.7 42.2L46 40.2L47.1 38.2L48.5 37L50.2 36.5L51.8 36.9L53.2 38L54.1 39.5L54.4 41.2L54.2 42.9L53.5 44.5L52.2 46L50.5 46.9Z" fill="#72e882" fill-rule="evenodd"/>
<path d="M50.8 45.9L49.2 46.1L48 45.5L46.9 44.2L46.4 42.5L46.5 40.9L47.2 39.2L48.5 37.9L49.8 37.4L51.2 37.5L52.3 38.2L53.3 39.5L53.7 40.9L53.6 42.5L53.1 43.9L52.2 45L50.8 45.9Z" fill="#b6f04a" fill-rule="evenodd"/>
<path d="M50.8 44.9L49.5 45.1L48.5 44.8L47.7 43.9L47.2 42.5L47.2 41.2L47.7 39.9L48.5 38.9L49.8 38.3L50.8 38.3L51.8 38.9L52.5 39.6L52.9 40.9L52.6 43.2L51.8 44.2L50.8 44.9Z" fill="#eee631" fill-rule="evenodd"/>
<path d="M50.8 43.9L49.2 44L48.5 43.5L48 42.5L48.2 40.5L48.8 39.7L49.8 39.2L51.3 39.5L52.1 40.9L52 42.5L50.8 43.9Z" fill="#f4a228" fill-rule="evenodd"/>
<path d="M50.5 43.2L49.4 43.2L48.7 42.2L48.8 40.9L49.8 40L50.8 40.2L51.5 41.2L51.2 42.5L50.5 43.2Z" fill="#e6461a" fill-rule="evenodd"/>
</g></g>
</g>
<rect x="0" y="0" width="76.00" height="67.90" fill="none" stroke="#a4a4a4" stroke-width="1"/>
<path d="M0 0V67.90H76.00" fill="none" stroke="#7a7a7a" stroke-width="1"/>
<line x1="-1.5" y1="7.0" x2="0" y2="7.0" stroke="#555" stroke-width="0.8"/>
<text x="-2.5" y="8.3" font-size="4" fill="#8a8a8a" text-anchor="end">10⁵</text>
<line x1="-1.5" y1="22.4" x2="0" y2="22.4" stroke="#555" stroke-width="0.8"/>
<text x="-2.5" y="23.7" font-size="4" fill="#8a8a8a" text-anchor="end">10⁴</text>
<line x1="-1.5" y1="38.4" x2="0" y2="38.4" stroke="#555" stroke-width="0.8"/>
<text x="-2.5" y="39.7" font-size="4" fill="#8a8a8a" text-anchor="end">10³</text>
<line x1="-1.5" y1="55.0" x2="0" y2="55.0" stroke="#555" stroke-width="0.8"/>
<text x="-2.5" y="56.3" font-size="4" fill="#8a8a8a" text-anchor="end">10²</text>
<line x1="-1.5" y1="62.7" x2="0" y2="62.7" stroke="#555" stroke-width="0.8"/>
<text x="-2.5" y="64.0" font-size="4" fill="#8a8a8a" text-anchor="end">0</text>
<line x1="8.2" y1="67.9" x2="8.2" y2="69.4" stroke="#555" stroke-width="0.8"/>
<text x="8.2" y="74.4" font-size="4" fill="#8a8a8a" text-anchor="middle">0</text>
<line x1="16.0" y1="67.9" x2="16.0" y2="69.4" stroke="#555" stroke-width="0.8"/>
<text x="16.0" y="74.4" font-size="4" fill="#8a8a8a" text-anchor="middle">10²</text>
<line x1="34.9" y1="67.9" x2="34.9" y2="69.4" stroke="#555" stroke-width="0.8"/>
<text x="34.9" y="74.4" font-size="4" fill="#8a8a8a" text-anchor="middle">10³</text>
<line x1="53.0" y1="67.9" x2="53.0" y2="69.4" stroke="#555" stroke-width="0.8"/>
<text x="53.0" y="74.4" font-size="4" fill="#8a8a8a" text-anchor="middle">10⁴</text>
<line x1="70.3" y1="67.9" x2="70.3" y2="69.4" stroke="#555" stroke-width="0.8"/>
<text x="70.3" y="74.4" font-size="4" fill="#8a8a8a" text-anchor="middle">10⁵</text>
<rect x="41.10" y="17.20" width="17.70" height="17.20" fill="none" stroke="#3a3a3a" stroke-width="1"/>
<text x="38.90" y="23.00" font-size="10.5" text-anchor="end" stroke="#000" stroke-width="0.1">4.11</text>
</g>
<g transform="translate(184.50 591.10)">
<clipPath id="c29"><rect x="0" y="0" width="77.50" height="70.50"/></clipPath>
<g clip-path="url(#c29)">
<g transform="translate(-0.50 -0.10)">
<g filter="url(#bl2)">
<path d="M51 70L49.7 70.2L48.5 69.6L47.3 68.2L46.4 66.3L41.2 47.3L40.6 43.3L41.1 39.6L42.6 35.9L47.3 29.9L49.6 24.3L50.3 23.5L51.3 23.2L52.3 23.6L53 24.3L55.4 29.3L59.7 32.9L61.5 35.3L62.9 38.6L63.4 42.3L63.1 44.9L62.2 47.6L57 56.2L53.3 67.3L52.3 69L51 70Z" fill="url(#p1)" fill-rule="evenodd"/>
<path d="M50.7 64.8L49.7 64.8L49 64.4L47.6 61.9L42.6 47.6L41.9 42.9L42.5 39.3L44.2 35.6L46 33.5L49.7 30.2L51.3 29.2L52.3 29.5L57 32.4L59.4 34.6L61.5 38.3L62.1 42.3L61.8 44.9L60.9 47.6L56.3 54.3L52.3 62.8L50.7 64.8Z" fill="url(#p2)" fill-rule="evenodd"/>
<path d="M50.3 59L49.3 58.7L48.3 57.7L46.2 53.9L43.5 46.9L43 42.6L43.7 38.9L45.7 35.6L49 32.7L50.7 32L52 31.8L55.7 33L58.8 35.6L60.6 38.9L61 42.6L60.5 45.6L59.2 48.3L52.3 57.6L51.3 58.6L50.3 59Z" fill="url(#p3)" fill-rule="evenodd"/>
</g><g filter="url(#bl)">
<path d="M51.3 55.3L50.3 55.5L49.3 55.2L48.3 54.3L47.1 52.6L44.6 46.9L44 42.6L44.8 38.9L46.7 36L49.7 33.7L52.3 33.2L55.3 34.1L58 36.3L59.6 39.3L60 42.6L59.6 45.3L58.2 47.9L53.3 53.6L51.3 55.3Z" fill="#4262fa" fill-rule="evenodd"/>
<path d="M51.3 53L50.3 53.1L49.3 52.7L47.1 50.3L45.3 46.3L44.8 42.6L45.6 39.3L47.3 36.6L49.7 34.9L52.3 34.3L55 35L57.3 36.9L58.8 39.6L59.2 42.6L58.6 45.3L57.1 47.9L53.7 51.5L51.3 53Z" fill="#2848f6" fill-rule="evenodd"/>
<path d="M52.3 49.6L50.3 49.8L48.5 48.6L47.1 46.3L46.4 43.3L46.8 40.6L48 38.3L50 36.7L52 36.2L54 36.5L56 37.9L57.2 39.9L57.6 41.9L57.3 44.3L56.3 46.3L54.7 48.1L52.3 49.6Z" fill="#2a78ff" fill-rule="evenodd"/>
<path d="M52.3 48.9L50.3 49L48.7 47.9L47.4 45.9L46.8 43.3L47.1 40.9L48.3 38.6L50 37.2L52 36.7L54 37.1L55.6 38.3L56.7 39.9L57.1 41.9L56.9 43.9L56 45.9L54.3 47.8L52.3 48.9Z" fill="#30b6f2" fill-rule="evenodd"/>
<path d="M52.3 48.4L50.7 48.5L49 47.5L47.8 45.6L47.2 43.3L47.5 40.9L48.6 38.9L50.3 37.6L52 37.2L53.7 37.4L55.3 38.6L56.3 40.2L56.7 41.9L56.5 43.9L55.7 45.7L54 47.5L52.3 48.4Z" fill="#4adcc0" fill-rule="evenodd"/>
<path d="M51.7 48L50 47.6L48.8 46.6L47.8 44.6L47.6 42.6L48.1 40.6L49.2 38.9L50.7 37.9L52.3 37.6L54 38.1L55.3 39.2L56.2 40.9L56.3 42.6L55.8 44.6L54.7 46.3L53.3 47.4L51.7 48Z" fill="#72e882" fill-rule="evenodd"/>
<path d="M52 47L50.7 46.9L49.3 45.9L48.5 44.3L48.3 42.6L48.7 40.9L49.7 39.5L51 38.6L52.3 38.4L53.7 38.8L54.7 39.6L55.4 40.9L55.6 42.6L55.2 44.3L54.4 45.6L53.3 46.5L52 47Z" fill="#b6f04a" fill-rule="evenodd"/>
<path d="M52.3 46L51 46L50 45.3L49.3 44.3L49.1 42.9L49.2 41.6L50 40.3L51 39.5L52 39.2L53 39.4L54 40L54.6 40.9L54.9 42.3L54.2 44.6L52.3 46Z" fill="#eee631" fill-rule="evenodd"/>
<path d="M52.3 45L51.3 45L50.7 44.7L50.1 43.9L49.8 42.9L50.5 40.9L52 40.1L53.4 40.6L54.1 42.3L53.7 43.9L52.3 45Z" fill="#f4a228" fill-rule="evenodd"/>
<path d="M52.7 43.9L51.3 44.1L50.6 43.3L50.7 41.9L51.7 41L52.7 41.1L53.3 41.9L53.3 42.9L52.7 43.9Z" fill="#e6461a" fill-rule="evenodd"/>
</g></g>
</g>
<rect x="0" y="0" width="77.50" height="70.50" fill="none" stroke="#a4a4a4" stroke-width="1"/>
<path d="M0 0V70.50H77.50" fill="none" stroke="#7a7a7a" stroke-width="1"/>
<line x1="-1.5" y1="7.0" x2="0" y2="7.0" stroke="#555" stroke-width="0.8"/>
<text x="-2.5" y="8.3" font-size="4" fill="#8a8a8a" text-anchor="end">10⁵</text>
<line x1="-1.5" y1="22.4" x2="0" y2="22.4" stroke="#555" stroke-width="0.8"/>
<text x="-2.5" y="23.7" font-size="4" fill="#8a8a8a" text-anchor="end">10⁴</text>
<line x1="-1.5" y1="38.4" x2="0" y2="38.4" stroke="#555" stroke-width="0.8"/>
<text x="-2.5" y="39.7" font-size="4" fill="#8a8a8a" text-anchor="end">10³</text>
<line x1="-1.5" y1="55.0" x2="0" y2="55.0" stroke="#555" stroke-width="0.8"/>
<text x="-2.5" y="56.3" font-size="4" fill="#8a8a8a" text-anchor="end">10²</text>
<line x1="-1.5" y1="62.7" x2="0" y2="62.7" stroke="#555" stroke-width="0.8"/>
<text x="-2.5" y="64.0" font-size="4" fill="#8a8a8a" text-anchor="end">0</text>
<line x1="8.2" y1="70.5" x2="8.2" y2="72.0" stroke="#555" stroke-width="0.8"/>
<text x="8.2" y="77.0" font-size="4" fill="#8a8a8a" text-anchor="middle">0</text>
<line x1="16.0" y1="70.5" x2="16.0" y2="72.0" stroke="#555" stroke-width="0.8"/>
<text x="16.0" y="77.0" font-size="4" fill="#8a8a8a" text-anchor="middle">10²</text>
<line x1="34.9" y1="70.5" x2="34.9" y2="72.0" stroke="#555" stroke-width="0.8"/>
<text x="34.9" y="77.0" font-size="4" fill="#8a8a8a" text-anchor="middle">10³</text>
<line x1="53.0" y1="70.5" x2="53.0" y2="72.0" stroke="#555" stroke-width="0.8"/>
<text x="53.0" y="77.0" font-size="4" fill="#8a8a8a" text-anchor="middle">10⁴</text>
<line x1="70.3" y1="70.5" x2="70.3" y2="72.0" stroke="#555" stroke-width="0.8"/>
<text x="70.3" y="77.0" font-size="4" fill="#8a8a8a" text-anchor="middle">10⁵</text>
<rect x="41.90" y="18.20" width="18.20" height="17.10" fill="none" stroke="#3a3a3a" stroke-width="1"/>
<text x="39.70" y="24.00" font-size="10.5" text-anchor="end" stroke="#000" stroke-width="0.1">0.64</text>
</g>
<g transform="translate(285.60 591.10)">
<clipPath id="c30"><rect x="0" y="0" width="78.80" height="70.50"/></clipPath>
<g clip-path="url(#c30)">
<g transform="translate(-0.60 -0.10)">
<g filter="url(#bl2)">
<path d="M51.8 69.9L50.4 70.2L49.1 69.6L48.1 68.4L47.1 66.5L41.7 46.9L41.2 43.3L41.5 40.3L42.2 37.9L45.3 31.6L46.1 24.9L47.2 21.3L49.1 18.2L50.4 17.2L51.8 16.9L53.1 17.1L54.1 17.7L55.3 18.9L56.3 20.6L57.5 24.3L58.5 30.3L62.8 36.6L63.7 39.3L64 42.3L63.7 44.9L62.8 47.6L58.1 55.2L56.4 59.3L54.3 66.6L53.1 68.7L51.8 69.9Z" fill="url(#p1)" fill-rule="evenodd"/>
<path d="M51.4 64.6L50.4 64.8L49.8 64.5L48.2 61.9L43.3 47.9L42.5 43.3L42.7 40.9L43.3 38.6L46.4 32.3L47.1 26.3L47.9 22.9L49.8 20L51.8 19L53.8 19.7L55.6 22.3L56.6 25.3L57.5 30.9L58.1 32.3L60.3 34.9L61.6 36.9L62.5 39.6L62.7 42.3L62.3 45.3L61.3 47.9L57.1 54L52.8 63L51.4 64.6Z" fill="url(#p2)" fill-rule="evenodd"/>
<path d="M50.8 59L49.8 58.5L48.8 57.5L46.7 53.6L44.2 47.3L43.7 44.9L43.6 42.6L44.5 38.6L47.4 32.9L48 26.9L48.7 24.3L50.1 21.9L51.1 21.3L52.1 21.1L53.8 22L55 23.9L55.7 26.3L56.4 31.6L57.1 32.9L59.4 35.6L60.6 37.6L61.4 39.9L61.6 42.6L61 45.9L59.6 48.6L53.1 57.4L51.8 58.7L50.8 59Z" fill="url(#p3)" fill-rule="evenodd"/>
</g><g filter="url(#bl)">
<path d="M51.8 55.3L50.8 55.5L49.8 55.1L47.8 52.6L45.3 47.3L44.5 43.3L45.3 39.3L48.6 32.9L49 27.9L49.5 25.6L50.4 24L51.8 23.3L53.1 23.8L54.1 25.2L54.7 27.3L55.4 32.3L59.7 37.9L60.4 39.9L60.7 42.3L60.1 45.3L58.8 47.9L53.8 53.8L51.8 55.3Z" fill="#4262fa" fill-rule="evenodd"/>
<path d="M51.8 53L50.8 53.1L49.8 52.6L48 50.6L46 46.6L45.4 43.3L45.7 40.9L46.3 38.9L49.9 32.9L50.5 27.3L51.1 26.2L51.8 25.8L52.8 26.3L53.3 27.3L54.3 32.9L57.8 36.7L59 38.6L59.6 40.3L59.8 42.3L59.2 45.3L57.7 47.9L54.4 51.3L51.8 53Z" fill="#2848f6" fill-rule="evenodd"/>
<path d="M52.8 49.7L50.8 49.7L49.1 48.5L47.5 45.9L47 43.3L47.4 40.6L48.5 38.3L50.4 36.3L52.4 35.5L54.4 36.1L56.4 37.7L57.6 39.6L58.2 41.9L57.9 44.3L56.8 46.5L54.8 48.5L52.8 49.7Z" fill="#2a78ff" fill-rule="evenodd"/>
<path d="M52.8 49L51.1 49.1L49.3 47.9L48 45.9L47.4 43.3L47.7 40.9L48.9 38.6L50.8 36.7L52.4 36.2L54.4 36.7L56.1 38L57.3 39.9L57.7 41.9L57.4 44.3L56.4 46.2L54.8 47.9L52.8 49Z" fill="#30b6f2" fill-rule="evenodd"/>
<path d="M53.1 48.3L51.4 48.5L49.8 47.6L48.4 45.6L47.8 43.3L48.1 40.9L49.1 39L50.8 37.3L52.4 36.8L54.1 37.1L55.8 38.3L56.8 39.9L57.3 41.9L57.1 43.9L56.3 45.6L54.8 47.3L53.1 48.3Z" fill="#4adcc0" fill-rule="evenodd"/>
<path d="M52.1 48L50.8 47.7L49.4 46.6L48.5 44.6L48.2 42.6L48.7 40.6L49.8 38.8L51.1 37.7L52.8 37.3L54.4 37.8L55.8 38.9L56.7 40.6L56.9 42.6L56.4 44.6L55.4 46.1L53.8 47.5L52.1 48Z" fill="#72e882" fill-rule="evenodd"/>
<path d="M52.8 46.9L51.4 46.9L50.1 46.1L49.2 44.6L48.9 42.9L49.1 41.3L50.1 39.5L51.4 38.4L52.8 38.2L54.1 38.5L55.1 39.3L55.9 40.6L56.2 42.3L55.9 43.9L55.2 45.3L54.1 46.3L52.8 46.9Z" fill="#b6f04a" fill-rule="evenodd"/>
<path d="M52.8 46L51.8 46L50.8 45.5L49.9 44.3L49.7 42.9L49.8 41.6L50.5 40.3L51.4 39.4L52.8 39.1L53.8 39.3L54.8 40.2L55.5 42.3L54.7 44.6L53.8 45.5L52.8 46Z" fill="#eee631" fill-rule="evenodd"/>
<path d="M52.8 45L51.8 45L51.1 44.5L50.4 42.6L51.1 40.8L51.8 40.2L52.8 40L54.1 40.7L54.7 42.3L54.2 43.9L52.8 45Z" fill="#f4a228" fill-rule="evenodd"/>
<path d="M53.1 44L52.4 44.2L51.8 44L51.2 42.9L51.4 41.6L52.4 40.9L53.4 41.1L53.9 41.9L53.8 43.3L53.1 44Z" fill="#e6461a" fill-rule="evenodd"/>
</g></g>
</g>
<rect x="0" y="0" width="78.80" height="70.50" fill="none" stroke="#a4a4a4" stroke-width="1"/>
<path d="M0 0V70.50H78.80" fill="none" stroke="#7a7a7a" stroke-width="1"/>
<line x1="-1.5" y1="7.0" x2="0" y2="7.0" stroke="#555" stroke-width="0.8"/>
<text x="-2.5" y="8.3" font-size="4" fill="#8a8a8a" text-anchor="end">10⁵</text>
<line x1="-1.5" y1="22.4" x2="0" y2="22.4" stroke="#555" stroke-width="0.8"/>
<text x="-2.5" y="23.7" font-size="4" fill="#8a8a8a" text-anchor="end">10⁴</text>
<line x1="-1.5" y1="38.4" x2="0" y2="38.4" stroke="#555" stroke-width="0.8"/>
<text x="-2.5" y="39.7" font-size="4" fill="#8a8a8a" text-anchor="end">10³</text>
<line x1="-1.5" y1="55.0" x2="0" y2="55.0" stroke="#555" stroke-width="0.8"/>
<text x="-2.5" y="56.3" font-size="4" fill="#8a8a8a" text-anchor="end">10²</text>
<line x1="-1.5" y1="62.7" x2="0" y2="62.7" stroke="#555" stroke-width="0.8"/>
<text x="-2.5" y="64.0" font-size="4" fill="#8a8a8a" text-anchor="end">0</text>
<line x1="8.2" y1="70.5" x2="8.2" y2="72.0" stroke="#555" stroke-width="0.8"/>
<text x="8.2" y="77.0" font-size="4" fill="#8a8a8a" text-anchor="middle">0</text>
<line x1="16.0" y1="70.5" x2="16.0" y2="72.0" stroke="#555" stroke-width="0.8"/>
<text x="16.0" y="77.0" font-size="4" fill="#8a8a8a" text-anchor="middle">10²</text>
<line x1="34.9" y1="70.5" x2="34.9" y2="72.0" stroke="#555" stroke-width="0.8"/>
<text x="34.9" y="77.0" font-size="4" fill="#8a8a8a" text-anchor="middle">10³</text>
<line x1="53.0" y1="70.5" x2="53.0" y2="72.0" stroke="#555" stroke-width="0.8"/>
<text x="53.0" y="77.0" font-size="4" fill="#8a8a8a" text-anchor="middle">10⁴</text>
<line x1="70.3" y1="70.5" x2="70.3" y2="72.0" stroke="#555" stroke-width="0.8"/>
<text x="70.3" y="77.0" font-size="4" fill="#8a8a8a" text-anchor="middle">10⁵</text>
<rect x="43.70" y="17.60" width="18.00" height="16.90" fill="none" stroke="#3a3a3a" stroke-width="1"/>
<text x="41.50" y="23.40" font-size="10.5" text-anchor="end" stroke="#000" stroke-width="0.1">14.1</text>
</g>
<g transform="translate(389.30 590.90)">
<clipPath id="c31"><rect x="0" y="0" width="77.70" height="70.10"/></clipPath>
<g clip-path="url(#c31)">
<g transform="translate(-0.30 -0.90)">
<g filter="url(#bl2)">
<path d="M49.5 70.2L48.1 70.1L47.1 69.5L45.3 66.4L39.9 47.1L39.4 43.1L39.7 40.4L40.6 37.4L44.6 30.7L45.7 25.1L46.6 22.4L48.1 20.2L49.1 19.6L50.1 19.4L51.8 20L53.5 22.1L54.3 24.1L55.8 30L59.5 34.1L61.1 36.7L61.9 39.4L62.2 42.4L61.9 44.7L61.3 47.1L60.3 49.1L57.1 53.7L55.8 56.2L52.3 67.1L51 69.1L49.5 70.2Z" fill="url(#p1)" fill-rule="evenodd"/>
<path d="M49.5 64.8L48.5 64.8L47.8 64.4L46.3 61.7L41.4 47.7L40.7 43.1L41 40.4L41.8 37.7L46 31.1L46.9 26.4L47.6 24.4L48.8 22.8L50.1 22.3L51.5 22.8L52.5 24.1L54.5 30.7L58.1 34.4L59.7 36.7L60.6 39.4L60.9 42.4L60.6 45.1L59.6 47.7L55.1 54.3L51.1 62.8L49.5 64.8Z" fill="url(#p2)" fill-rule="evenodd"/>
<path d="M49.8 58.8L48.8 59L47.8 58.4L45.7 55.4L42.6 47.7L42 45.4L41.8 43.1L42.1 40.4L43.1 37.7L47.2 32.1L48.8 27.2L49.5 26.2L50.1 26L51.2 26.7L53.1 31.4L56.8 34.7L58.4 36.7L59.6 39.7L59.8 42.4L59.3 45.4L57.9 48.4L51.5 57.2L49.8 58.8Z" fill="url(#p3)" fill-rule="evenodd"/>
</g><g filter="url(#bl)">
<path d="M49.5 55.5L48.5 55.3L47.5 54.7L45.3 51.4L43.3 46.7L42.8 42.7L43.3 39.7L44.8 36.7L48.5 33L49.5 32.3L50.5 32.1L54.1 33.9L56.8 36.3L58.3 39.1L58.9 42.4L58.3 45.4L56.7 48.4L51.5 54.3L49.5 55.5Z" fill="#4262fa" fill-rule="evenodd"/>
<path d="M49.8 53.1L48.8 53L47.8 52.5L45.8 50L44 46.1L43.6 42.7L44.2 39.7L45.8 36.9L48.5 34.5L50.8 33.8L53.8 34.9L56.1 36.9L57.6 39.7L58 42.7L57.4 45.4L55.8 48.1L52.1 51.8L49.8 53.1Z" fill="#2848f6" fill-rule="evenodd"/>
<path d="M50.5 49.8L48.5 49.5L46.8 47.9L45.5 45.4L45.2 42.7L45.8 40.1L47.1 37.9L49.1 36.4L51.1 36L53.1 36.6L54.9 38.1L56 40.1L56.4 42.4L55.9 44.7L54.8 46.7L52.8 48.7L50.5 49.8Z" fill="#2a78ff" fill-rule="evenodd"/>
<path d="M50.5 49.1L48.8 48.9L47.1 47.5L46 45.4L45.6 42.7L46.1 40.4L47.3 38.4L49.1 37L51.1 36.6L53.1 37.2L54.8 38.7L55.7 40.4L55.9 42.7L55.4 44.7L54.2 46.7L52.5 48.3L50.5 49.1Z" fill="#30b6f2" fill-rule="evenodd"/>
<path d="M50.8 48.5L49.1 48.4L47.5 47.1L46.4 45.1L46 42.7L46.4 40.7L47.6 38.7L49.1 37.5L51.1 37.1L52.8 37.5L54.3 38.7L55.2 40.4L55.5 42.4L55.1 44.4L54.1 46.2L52.5 47.7L50.8 48.5Z" fill="#4adcc0" fill-rule="evenodd"/>
<path d="M51.1 47.8L49.5 47.9L48.1 47.1L46.9 45.4L46.4 43.1L46.7 41.1L47.5 39.4L49.1 38L50.8 37.5L52.5 37.9L53.8 38.8L54.8 40.4L55.1 42.1L54.9 43.7L54.1 45.5L52.8 46.9L51.1 47.8Z" fill="#72e882" fill-rule="evenodd"/>
<path d="M51.5 46.8L49.8 47L48.6 46.4L47.6 45.1L47.1 43.4L47.2 41.7L47.9 40.1L49.1 38.9L50.5 38.3L51.8 38.4L53.1 39.2L54 40.4L54.4 41.7L54.3 43.4L53.8 44.7L52.8 46L51.5 46.8Z" fill="#b6f04a" fill-rule="evenodd"/>
<path d="M51.5 45.8L50.1 46L49.1 45.6L48.4 44.7L47.9 43.4L47.9 42.1L48.4 40.7L49.3 39.7L50.5 39.2L51.5 39.3L52.5 39.7L53.3 40.7L53.6 41.7L53.3 44.1L52.5 45.2L51.5 45.8Z" fill="#eee631" fill-rule="evenodd"/>
<path d="M50.8 45.1L49.8 44.9L49.2 44.4L48.6 42.7L49.1 41.1L49.8 40.4L50.8 40.1L52.3 40.7L52.9 42.4L52.4 44.1L50.8 45.1Z" fill="#f4a228" fill-rule="evenodd"/>
<path d="M51.1 44.1L50.5 44.2L49.8 43.9L49.3 42.7L49.8 41.4L50.8 40.9L51.8 41.3L52.2 42.4L51.9 43.4L51.1 44.1Z" fill="#e6461a" fill-rule="evenodd"/>
</g></g>
</g>
<rect x="0" y="0" width="77.70" height="70.10" fill="none" stroke="#a4a4a4" stroke-width="1"/>
<path d="M0 0V70.10H77.70" fill="none" stroke="#7a7a7a" stroke-width="1"/>
<line x1="-1.5" y1="7.0" x2="0" y2="7.0" stroke="#555" stroke-width="0.8"/>
<text x="-2.5" y="8.3" font-size="4" fill="#8a8a8a" text-anchor="end">10⁵</text>
<line x1="-1.5" y1="22.4" x2="0" y2="22.4" stroke="#555" stroke-width="0.8"/>
<text x="-2.5" y="23.7" font-size="4" fill="#8a8a8a" text-anchor="end">10⁴</text>
<line x1="-1.5" y1="38.4" x2="0" y2="38.4" stroke="#555" stroke-width="0.8"/>
<text x="-2.5" y="39.7" font-size="4" fill="#8a8a8a" text-anchor="end">10³</text>
<line x1="-1.5" y1="55.0" x2="0" y2="55.0" stroke="#555" stroke-width="0.8"/>
<text x="-2.5" y="56.3" font-size="4" fill="#8a8a8a" text-anchor="end">10²</text>
<line x1="-1.5" y1="62.7" x2="0" y2="62.7" stroke="#555" stroke-width="0.8"/>
<text x="-2.5" y="64.0" font-size="4" fill="#8a8a8a" text-anchor="end">0</text>
<line x1="8.2" y1="70.1" x2="8.2" y2="71.6" stroke="#555" stroke-width="0.8"/>
<text x="8.2" y="76.6" font-size="4" fill="#8a8a8a" text-anchor="middle">0</text>
<line x1="16.0" y1="70.1" x2="16.0" y2="71.6" stroke="#555" stroke-width="0.8"/>
<text x="16.0" y="76.6" font-size="4" fill="#8a8a8a" text-anchor="middle">10²</text>
<line x1="34.9" y1="70.1" x2="34.9" y2="71.6" stroke="#555" stroke-width="0.8"/>
<text x="34.9" y="76.6" font-size="4" fill="#8a8a8a" text-anchor="middle">10³</text>
<line x1="53.0" y1="70.1" x2="53.0" y2="71.6" stroke="#555" stroke-width="0.8"/>
<text x="53.0" y="76.6" font-size="4" fill="#8a8a8a" text-anchor="middle">10⁴</text>
<line x1="70.3" y1="70.1" x2="70.3" y2="71.6" stroke="#555" stroke-width="0.8"/>
<text x="70.3" y="76.6" font-size="4" fill="#8a8a8a" text-anchor="middle">10⁵</text>
<rect x="42.00" y="17.00" width="18.00" height="17.70" fill="none" stroke="#3a3a3a" stroke-width="1"/>
<text x="39.80" y="22.80" font-size="10.5" text-anchor="end" stroke="#000" stroke-width="0.1">2.19</text>
</g>
<g transform="translate(492.10 591.30)">
<clipPath id="c32"><rect x="0" y="0" width="76.90" height="70.20"/></clipPath>
<g clip-path="url(#c32)">
<g transform="translate(-0.10 -0.30)">
<g filter="url(#bl2)">
<path d="M50.3 69.2L48.9 69L47.9 68.3L46.2 65.1L43.6 55.1L41 46.5L40.4 42.1L40.8 39.1L41.7 36.1L45.6 29.8L46.6 24.1L47.5 21.5L49.3 19.1L50.3 18.5L51.3 18.4L52.9 19.1L54.1 20.5L55.2 22.8L56.7 28.8L60.3 32.8L61.8 35.1L62.9 38.1L63.2 41.5L62.9 44.1L62.1 46.5L56.9 55L53.2 66.1L51.9 68.2L50.3 69.2Z" fill="url(#p1)" fill-rule="evenodd"/>
<path d="M50.3 63.8L49.3 63.7L48.6 63.2L47.3 60.7L42.4 46.8L41.8 44.1L41.7 41.8L42 39.1L42.8 36.8L47 30.1L48.6 23.5L49.9 21.7L51.3 21.3L52.6 21.9L53.6 23.4L55.5 29.8L59.1 33.5L60.5 35.5L61.6 38.5L61.9 41.5L61.5 44.5L60.4 47.1L55.9 53.6L51.7 62.5L50.3 63.8Z" fill="url(#p2)" fill-rule="evenodd"/>
<path d="M50.6 57.9L49.6 57.9L48.6 57.2L46.4 53.8L43.5 46.5L42.8 41.8L43.2 39.1L44 36.8L48.4 30.8L50 25.8L50.6 25.1L51.3 25L52.3 25.9L53.4 29.1L54.1 30.5L57.9 33.8L59.4 35.8L60.5 38.5L60.8 41.5L60.4 44.1L59.1 47.1L52.6 56.1L50.6 57.9Z" fill="url(#p3)" fill-rule="evenodd"/>
</g><g filter="url(#bl)">
<path d="M50.3 54.5L49.3 54.3L48.3 53.5L46.1 50.1L44.1 45.1L43.8 41.5L44.4 38.5L46 35.5L49.6 31.9L50.6 31.2L51.6 31.1L55.3 33L58 35.5L59.5 38.5L59.8 41.8L59.2 44.8L57.4 47.8L52.6 53.2L51.3 54.2L50.3 54.5Z" fill="#4262fa" fill-rule="evenodd"/>
<path d="M51.6 51.8L50.6 52.1L49.6 52L47.6 50.2L45.4 46.1L44.6 42.1L45.1 39.1L46.6 36.1L49.3 33.7L51.6 32.8L54.3 33.6L56.9 35.7L58.4 38.1L59 41.1L58.6 43.8L57.3 46.5L54.6 49.5L51.6 51.8Z" fill="#2848f6" fill-rule="evenodd"/>
<path d="M51.3 48.8L49.3 48.4L47.7 46.8L46.5 44.1L46.2 41.5L46.9 38.8L48.3 36.8L50.3 35.4L52.3 35L54.6 35.9L56.2 37.5L57.2 39.5L57.4 41.8L56.8 44.1L55.5 46.1L53.3 48L51.3 48.8Z" fill="#2a78ff" fill-rule="evenodd"/>
<path d="M51.3 48.1L49.6 47.8L47.9 46.2L46.8 43.8L46.6 41.5L47.2 39.1L48.5 37.1L50.3 35.9L52.3 35.6L54.3 36.3L55.9 37.8L56.8 39.8L56.9 41.8L56.4 43.8L55.2 45.8L53.3 47.4L51.3 48.1Z" fill="#30b6f2" fill-rule="evenodd"/>
<path d="M51.6 47.5L49.9 47.3L48.5 46.1L47.4 44.1L47 41.8L47.4 39.8L48.5 37.8L50.3 36.4L51.9 36.1L53.6 36.4L55.3 37.7L56.2 39.5L56.5 41.5L56.1 43.5L54.9 45.4L53.3 46.8L51.6 47.5Z" fill="#4adcc0" fill-rule="evenodd"/>
<path d="M51.9 46.9L50.3 46.8L48.8 45.8L47.8 44.1L47.4 41.8L47.8 39.8L48.8 38.1L50.3 36.9L51.9 36.5L53.6 36.9L54.9 38L55.8 39.5L56.1 41.1L55.8 43.1L54.9 44.8L53.6 46.1L51.9 46.9Z" fill="#72e882" fill-rule="evenodd"/>
<path d="M52.3 45.9L50.9 46L49.6 45.4L48.6 44.1L48.1 42.1L48.3 40.5L49.1 38.8L50.3 37.8L51.6 37.3L52.9 37.5L54.1 38.1L54.9 39.2L55.4 40.8L55.3 42.5L54.7 43.8L53.6 45.1L52.3 45.9Z" fill="#b6f04a" fill-rule="evenodd"/>
<path d="M52.3 44.9L50.9 45L49.9 44.5L49.2 43.5L48.9 42.1L49 40.8L49.6 39.5L50.6 38.5L51.6 38.2L52.6 38.3L53.6 38.8L54.3 39.8L54.7 41.1L54.1 43.5L52.3 44.9Z" fill="#eee631" fill-rule="evenodd"/>
<path d="M52.3 44L51.3 44.1L50.6 43.8L50 43.1L49.6 42.1L50.1 40.1L51.6 39.1L53 39.5L53.9 41.1L53.5 42.8L52.3 44Z" fill="#f4a228" fill-rule="evenodd"/>
<path d="M51.9 43.2L50.9 43L50.3 41.8L50.7 40.5L51.9 39.9L52.9 40.5L53.2 41.5L52.9 42.5L51.9 43.2Z" fill="#e6461a" fill-rule="evenodd"/>
</g></g>
</g>
<rect x="0" y="0" width="76.90" height="70.20" fill="none" stroke="#a4a4a4" stroke-width="1"/>
<path d="M0 0V70.20H76.90" fill="none" stroke="#7a7a7a" stroke-width="1"/>
<line x1="-1.5" y1="7.0" x2="0" y2="7.0" stroke="#555" stroke-width="0.8"/>
<text x="-2.5" y="8.3" font-size="4" fill="#8a8a8a" text-anchor="end">10⁵</text>
<line x1="-1.5" y1="22.4" x2="0" y2="22.4" stroke="#555" stroke-width="0.8"/>
<text x="-2.5" y="23.7" font-size="4" fill="#8a8a8a" text-anchor="end">10⁴</text>
<line x1="-1.5" y1="38.4" x2="0" y2="38.4" stroke="#555" stroke-width="0.8"/>
<text x="-2.5" y="39.7" font-size="4" fill="#8a8a8a" text-anchor="end">10³</text>
<line x1="-1.5" y1="55.0" x2="0" y2="55.0" stroke="#555" stroke-width="0.8"/>
<text x="-2.5" y="56.3" font-size="4" fill="#8a8a8a" text-anchor="end">10²</text>
<line x1="-1.5" y1="62.7" x2="0" y2="62.7" stroke="#555" stroke-width="0.8"/>
<text x="-2.5" y="64.0" font-size="4" fill="#8a8a8a" text-anchor="end">0</text>
<line x1="8.2" y1="70.2" x2="8.2" y2="71.7" stroke="#555" stroke-width="0.8"/>
<text x="8.2" y="76.7" font-size="4" fill="#8a8a8a" text-anchor="middle">0</text>
<line x1="16.0" y1="70.2" x2="16.0" y2="71.7" stroke="#555" stroke-width="0.8"/>
<text x="16.0" y="76.7" font-size="4" fill="#8a8a8a" text-anchor="middle">10²</text>
<line x1="34.9" y1="70.2" x2="34.9" y2="71.7" stroke="#555" stroke-width="0.8"/>
<text x="34.9" y="76.7" font-size="4" fill="#8a8a8a" text-anchor="middle">10³</text>
<line x1="53.0" y1="70.2" x2="53.0" y2="71.7" stroke="#555" stroke-width="0.8"/>
<text x="53.0" y="76.7" font-size="4" fill="#8a8a8a" text-anchor="middle">10⁴</text>
<line x1="70.3" y1="70.2" x2="70.3" y2="71.7" stroke="#555" stroke-width="0.8"/>
<text x="70.3" y="76.7" font-size="4" fill="#8a8a8a" text-anchor="middle">10⁵</text>
<rect x="42.00" y="16.60" width="18.00" height="17.70" fill="none" stroke="#3a3a3a" stroke-width="1"/>
<text x="39.80" y="22.40" font-size="10.5" text-anchor="end" stroke="#000" stroke-width="0.1">2.38</text>
</g>
<g transform="translate(186.40 683.00)">
<clipPath id="c33"><rect x="0" y="0" width="77.20" height="69.50"/></clipPath>
<g clip-path="url(#c33)">
<g transform="translate(-0.40 0.00)">
<g filter="url(#bl2)">
<path d="M50.6 70L49.2 70.1L48.2 69.6L47 68.2L46 66.2L40.8 47.2L40.2 43.2L40.7 39.5L42.2 35.8L43.8 33.5L47.1 29.8L49.4 24.8L50.9 23.9L51.6 24.1L52.4 24.8L54.8 29.2L58.9 32.5L60.7 34.5L62.4 38.2L63 42.2L62.7 44.8L61.7 47.8L56.9 55.5L52.9 67.3L51.9 68.9L50.6 70Z" fill="url(#p1)" fill-rule="evenodd"/>
<path d="M50.2 64.7L49.2 64.7L48.6 64.2L47.2 61.8L42.2 47.5L41.5 42.8L42.2 38.8L44.1 35.2L45.9 33.2L48.6 30.9L49.9 30L51.2 29.7L52.6 30.1L55.9 31.9L59 34.5L61.1 38.2L61.7 42.5L61.3 45.2L60.3 47.8L55.9 54.2L51.9 62.7L50.2 64.7Z" fill="url(#p2)" fill-rule="evenodd"/>
<path d="M49.9 58.9L48.9 58.6L47.9 57.6L45.7 53.5L43 46.5L42.6 42.2L43.5 38.5L45.6 35.1L48.9 32.5L50.6 31.9L51.9 31.8L55.6 33.1L58.4 35.5L60.2 38.8L60.6 42.8L60 45.8L58.6 48.5L51.9 57.6L50.9 58.5L49.9 58.9Z" fill="url(#p3)" fill-rule="evenodd"/>
</g><g filter="url(#bl)">
<path d="M50.9 55.2L49.9 55.4L48.9 55.1L46.7 52.5L44.2 46.8L43.6 42.5L44.4 38.8L46.2 35.9L49.2 33.7L51.9 33.2L54.9 34L57.6 36.2L59.2 39.2L59.6 42.5L59.2 45.2L57.8 47.8L52.9 53.6L50.9 55.2Z" fill="#4262fa" fill-rule="evenodd"/>
<path d="M50.9 52.9L49.9 53L48.9 52.6L46.6 49.9L44.8 45.8L44.4 42.2L45.2 39.2L46.9 36.5L49.6 34.7L52.2 34.3L54.9 35.1L57.2 37.2L58.5 39.8L58.8 42.8L58.1 45.5L56.6 48.1L53.2 51.4L50.9 52.9Z" fill="#2848f6" fill-rule="evenodd"/>
<path d="M51.9 49.5L49.9 49.7L48.2 48.6L46.7 46.2L46 43.2L46.4 40.5L47.6 38.3L49.6 36.6L51.6 36.1L53.6 36.4L55.6 37.8L56.6 39.5L57.2 41.8L56.9 44.2L55.9 46.2L54.2 48.1L51.9 49.5Z" fill="#2a78ff" fill-rule="evenodd"/>
<path d="M51.9 48.9L49.9 48.9L48.3 47.8L47 45.8L46.4 43.2L46.7 40.8L47.9 38.6L49.6 37.2L51.6 36.6L53.6 37L55.2 38.2L56.3 39.8L56.7 41.8L56.5 43.8L55.6 45.9L53.9 47.7L51.9 48.9Z" fill="#30b6f2" fill-rule="evenodd"/>
<path d="M51.9 48.3L50.2 48.4L48.6 47.4L47.4 45.5L46.8 43.2L47.2 40.8L48.2 38.8L49.9 37.5L51.6 37.1L53.2 37.3L54.9 38.4L55.9 40L56.3 41.8L56.1 43.8L55.2 45.7L53.6 47.4L51.9 48.3Z" fill="#4adcc0" fill-rule="evenodd"/>
<path d="M51.2 47.9L49.6 47.5L48.2 46.2L47.4 44.2L47.3 42.2L47.8 40.2L48.9 38.7L50.6 37.7L52.2 37.5L53.9 38.1L55 39.2L55.8 40.8L55.9 42.8L55.4 44.5L54.3 46.2L52.9 47.3L51.2 47.9Z" fill="#72e882" fill-rule="evenodd"/>
<path d="M51.6 46.9L50.2 46.8L48.9 45.8L48.1 44.2L47.9 42.5L48.3 40.8L49.2 39.4L50.6 38.5L51.9 38.3L53.2 38.6L54.3 39.5L55 40.8L55.2 42.5L54.8 44.2L54 45.5L52.9 46.4L51.6 46.9Z" fill="#b6f04a" fill-rule="evenodd"/>
<path d="M51.9 45.9L50.6 45.8L49.6 45.2L48.9 44.2L48.7 42.8L48.8 41.5L49.6 40.2L50.6 39.4L51.6 39.1L52.6 39.3L53.6 39.9L54.2 40.8L54.5 42.2L53.8 44.5L51.9 45.9Z" fill="#eee631" fill-rule="evenodd"/>
<path d="M51.9 44.9L50.9 44.9L50.2 44.6L49.4 42.8L50.1 40.8L51.6 40L53 40.5L53.7 42.2L53.2 43.9L51.9 44.9Z" fill="#f4a228" fill-rule="evenodd"/>
<path d="M52.2 43.9L51.2 44.1L50.2 43.2L50.3 41.8L51.2 40.9L52.2 41L52.9 41.8L52.9 42.9L52.2 43.9Z" fill="#e6461a" fill-rule="evenodd"/>
</g></g>
</g>
<rect x="0" y="0" width="77.20" height="69.50" fill="none" stroke="#a4a4a4" stroke-width="1"/>
<path d="M0 0V69.50H77.20" fill="none" stroke="#7a7a7a" stroke-width="1"/>
<line x1="-1.5" y1="7.0" x2="0" y2="7.0" stroke="#555" stroke-width="0.8"/>
<text x="-2.5" y="8.3" font-size="4" fill="#8a8a8a" text-anchor="end">10⁵</text>
<line x1="-1.5" y1="22.4" x2="0" y2="22.4" stroke="#555" stroke-width="0.8"/>
<text x="-2.5" y="23.7" font-size="4" fill="#8a8a8a" text-anchor="end">10⁴</text>
<line x1="-1.5" y1="38.4" x2="0" y2="38.4" stroke="#555" stroke-width="0.8"/>
<text x="-2.5" y="39.7" font-size="4" fill="#8a8a8a" text-anchor="end">10³</text>
<line x1="-1.5" y1="55.0" x2="0" y2="55.0" stroke="#555" stroke-width="0.8"/>
<text x="-2.5" y="56.3" font-size="4" fill="#8a8a8a" text-anchor="end">10²</text>
<line x1="-1.5" y1="62.7" x2="0" y2="62.7" stroke="#555" stroke-width="0.8"/>
<text x="-2.5" y="64.0" font-size="4" fill="#8a8a8a" text-anchor="end">0</text>
<line x1="8.2" y1="69.5" x2="8.2" y2="71.0" stroke="#555" stroke-width="0.8"/>
<text x="8.2" y="76.0" font-size="4" fill="#8a8a8a" text-anchor="middle">0</text>
<line x1="16.0" y1="69.5" x2="16.0" y2="71.0" stroke="#555" stroke-width="0.8"/>
<text x="16.0" y="76.0" font-size="4" fill="#8a8a8a" text-anchor="middle">10²</text>
<line x1="34.9" y1="69.5" x2="34.9" y2="71.0" stroke="#555" stroke-width="0.8"/>
<text x="34.9" y="76.0" font-size="4" fill="#8a8a8a" text-anchor="middle">10³</text>
<line x1="53.0" y1="69.5" x2="53.0" y2="71.0" stroke="#555" stroke-width="0.8"/>
<text x="53.0" y="76.0" font-size="4" fill="#8a8a8a" text-anchor="middle">10⁴</text>
<line x1="70.3" y1="69.5" x2="70.3" y2="71.0" stroke="#555" stroke-width="0.8"/>
<text x="70.3" y="76.0" font-size="4" fill="#8a8a8a" text-anchor="middle">10⁵</text>
<rect x="42.30" y="17.10" width="17.70" height="17.80" fill="none" stroke="#3a3a3a" stroke-width="1"/>
<text x="40.10" y="22.90" font-size="10.5" text-anchor="end" stroke="#000" stroke-width="0.1">0.55</text>
</g>
<g transform="translate(286.40 683.00)">
<clipPath id="c34"><rect x="0" y="0" width="78.00" height="69.50"/></clipPath>
<g clip-path="url(#c34)">
<g transform="translate(-0.40 0.00)">
<g filter="url(#bl2)">
<path d="M51.2 71.2L49.6 71.4L48.2 70.5L46.9 68.5L45.8 65.5L43.1 53.8L42 47.2L41.8 43.2L42.4 37.2L40 32.2L39.3 28.5L39.5 26.2L40.2 23.5L41.3 20.8L42.8 18.5L44.6 16.6L46.2 15.5L48.2 14.7L50.2 14.4L52.9 14.8L55.6 16.1L57.7 18.2L59.5 21.2L60.4 23.8L60.7 26.5L60 33.8L62.3 39.5L62.8 42.8L62.6 45.2L62 47.5L57.6 56L53.8 67.8L52.6 70.1L51.2 71.2Z" fill="url(#p1)" fill-rule="evenodd"/>
<path d="M50.9 66.2L49.6 66.2L48.2 64.7L44.7 54.5L43.4 48.5L42.9 44.8L43 42.2L43.9 36.8L41.3 31.8L40.6 28.2L41.3 23.8L43.6 19.5L45.2 17.8L46.9 16.6L50.2 15.8L52.6 16.1L54.9 17.3L56.9 19.2L58.5 21.8L59.3 24.5L59.6 27.2L58.6 34.2L61.1 39.5L61.6 42.8L61.3 45.5L60.4 48.2L56.6 54.7L52.3 64.5L50.9 66.2Z" fill="url(#p2)" fill-rule="evenodd"/>
<path d="M50.9 60.3L49.6 60.2L48.2 58.8L46.7 55.8L45.4 52.2L44.3 47.5L44 44.2L44.1 41.8L45.1 37.8L45.2 36.5L42.4 31.5L41.7 28.2L42.5 23.8L44.4 20.2L46.9 18L48.6 17.3L50.2 17L52.6 17.4L54.6 18.5L56.3 20.2L57.8 22.8L58.4 25.2L58.6 27.8L57.3 34.5L59.8 39.2L60.5 42.8L60.2 45.8L59.1 48.5L52.9 58.3L50.9 60.3Z" fill="url(#p3)" fill-rule="evenodd"/>
</g><g filter="url(#bl)">
<path d="M50.9 56.6L49.6 56.4L48.2 55.1L47 52.8L45.8 49.2L45 45.8L44.9 43.2L45.3 40.8L46.6 36.5L46.2 35.5L43.5 31.5L42.7 27.8L43.3 24.2L44.9 21.2L47.2 19L48.9 18.3L50.2 18.2L52.2 18.4L54.2 19.5L55.8 21.2L57 23.5L57.6 25.8L57.7 28.2L57.3 30.2L56 33.8L56 34.8L58.7 39.2L59.6 42.8L59.2 45.8L57.9 48.5L52.9 55.1L50.9 56.6Z" fill="#4262fa" fill-rule="evenodd"/>
<path d="M51.2 53.9L49.9 53.8L48.6 52.7L47.3 50.5L46.4 47.8L45.8 45.2L45.8 42.5L46.3 40.5L47.9 36.2L47.5 35.2L44.5 31.5L43.8 29.8L43.6 27.8L44.1 24.5L45.5 21.8L47.6 19.9L50.2 19.1L52.2 19.5L53.9 20.4L55.2 21.8L56.3 23.8L56.8 26.2L56.8 28.8L54.6 34.8L55 35.8L57.7 39.2L58.4 40.8L58.8 42.8L58.4 45.5L57.1 48.2L53.2 52.5L51.2 53.9Z" fill="#2848f6" fill-rule="evenodd"/>
<path d="M51.6 33.6L49.6 33.7L47.6 32.7L46 30.8L45.2 28.5L45.3 25.8L46.2 23.5L47.9 21.7L49.9 21L51.6 21.1L53.4 22.2L54.6 23.8L55.4 26.2L55.3 28.5L54.7 30.5L53.2 32.5L51.6 33.6ZM51.2 50.2L49.6 49.5L48.3 47.8L47.5 45.5L47.3 43.2L47.8 40.8L48.9 39.1L50.6 37.6L52.2 37.3L54.2 37.9L55.9 39.4L56.9 41.2L57.2 43.5L56.6 45.8L55.2 47.9L53.2 49.5L51.2 50.2Z" fill="#2a78ff" fill-rule="evenodd"/>
<path d="M51.6 33L49.9 33.1L47.9 32.3L46.3 30.5L45.6 28.5L45.6 26.2L46.5 23.8L47.9 22.3L49.9 21.5L51.6 21.6L53.2 22.7L54.3 24.2L55 26.2L55 28.2L54.4 30.2L53.2 31.8L51.6 33ZM52.6 49.2L50.9 49.3L49.6 48.6L48.3 46.5L47.7 44.2L47.9 42.2L48.7 40.2L50.2 38.5L51.9 37.9L53.6 38.2L55.2 39.3L56.3 40.8L56.7 42.8L56.5 44.8L55.7 46.5L54.2 48.2L52.6 49.2Z" fill="#30b6f2" fill-rule="evenodd"/>
<path d="M51.2 32.5L49.6 32.6L47.9 31.8L46.6 30.2L45.9 28.2L46.1 25.8L46.9 24L48.2 22.6L49.9 21.9L51.6 22.1L52.9 22.9L54.1 24.5L54.6 26.5L54.5 28.5L53.9 30.2L52.6 31.8L51.2 32.5ZM52.6 48.5L50.9 48.6L49.6 47.7L48.6 46L48.1 43.8L48.4 41.8L49.2 40.1L50.6 38.9L52.2 38.5L53.9 38.9L55.1 39.8L55.9 41.2L56.3 42.8L56.2 44.5L55.4 46.2L54.2 47.6L52.6 48.5Z" fill="#4adcc0" fill-rule="evenodd"/>
<path d="M50.2 32.2L48.6 31.7L47.2 30.5L46.4 28.8L46.3 27.2L46.7 25.2L47.6 23.7L48.9 22.7L50.6 22.4L51.9 22.7L53.2 23.9L54 25.5L54.3 27.5L54 29.2L53 30.8L51.6 31.9L50.2 32.2ZM52.9 47.8L51.6 48.1L50.1 47.5L49.1 46.2L48.5 44.2L48.6 42.5L49.3 40.8L50.5 39.5L51.9 39L53.2 39.1L54.6 39.9L55.5 41.2L55.9 42.5L55.8 44.2L55.2 45.7L54.2 47L52.9 47.8Z" fill="#72e882" fill-rule="evenodd"/>
<path d="M51.2 31.2L49.9 31.3L48.6 30.8L47.6 29.8L47 28.2L47 26.5L47.6 24.9L48.6 23.8L49.9 23.2L51.2 23.3L52.2 23.8L53.2 25.2L53.6 26.5L53.6 28.2L53.1 29.5L52.2 30.6L51.2 31.2ZM52.9 46.9L51.6 47.1L50.6 46.6L49.7 45.5L49.3 44.2L49.4 42.5L49.9 41.2L50.9 40.3L51.9 39.9L52.9 39.9L53.9 40.4L54.6 41.2L55.1 42.5L55.2 43.8L54.7 45.2L53.9 46.2L52.9 46.9Z" fill="#b6f04a" fill-rule="evenodd"/>
<path d="M50.2 30.5L49.2 30.3L48.3 29.5L47.8 28.5L47.6 27.2L47.9 25.8L48.6 24.8L49.6 24.1L50.6 24L51.6 24.3L52.4 25.2L53 27.5L52.2 29.5L51.2 30.3L50.2 30.5ZM52.6 45.9L51.6 45.9L50.9 45.5L50.1 43.8L50.6 41.8L51.2 41.2L52.2 40.9L53.7 41.5L54.3 43.2L53.9 44.8L52.6 45.9Z" fill="#eee631" fill-rule="evenodd"/>
<path d="M50.9 29.5L49.9 29.6L49.2 29.3L48.4 27.8L48.6 26.1L49.9 24.9L51.2 25.1L52.2 26.5L52.1 28.2L50.9 29.5ZM52.2 44.6L51.6 44.3L51.2 43.5L51.5 42.5L52.2 42.1L52.9 42.4L53.2 43.2L52.9 44.2L52.2 44.6Z" fill="#f4a228" fill-rule="evenodd"/>
<path d="M50.2 28.9L49.2 28.2L49 27.2L49.4 26.2L50.2 25.7L51.2 26.1L51.6 27.2L51.2 28.4L50.2 28.9Z" fill="#e6461a" fill-rule="evenodd"/>
</g></g>
</g>
<rect x="0" y="0" width="78.00" height="69.50" fill="none" stroke="#a4a4a4" stroke-width="1"/>
<path d="M0 0V69.50H78.00" fill="none" stroke="#7a7a7a" stroke-width="1"/>
<line x1="-1.5" y1="7.0" x2="0" y2="7.0" stroke="#555" stroke-width="0.8"/>
<text x="-2.5" y="8.3" font-size="4" fill="#8a8a8a" text-anchor="end">10⁵</text>
<line x1="-1.5" y1="22.4" x2="0" y2="22.4" stroke="#555" stroke-width="0.8"/>
<text x="-2.5" y="23.7" font-size="4" fill="#8a8a8a" text-anchor="end">10⁴</text>
<line x1="-1.5" y1="38.4" x2="0" y2="38.4" stroke="#555" stroke-width="0.8"/>
<text x="-2.5" y="39.7" font-size="4" fill="#8a8a8a" text-anchor="end">10³</text>
<line x1="-1.5" y1="55.0" x2="0" y2="55.0" stroke="#555" stroke-width="0.8"/>
<text x="-2.5" y="56.3" font-size="4" fill="#8a8a8a" text-anchor="end">10²</text>
<line x1="-1.5" y1="62.7" x2="0" y2="62.7" stroke="#555" stroke-width="0.8"/>
<text x="-2.5" y="64.0" font-size="4" fill="#8a8a8a" text-anchor="end">0</text>
<line x1="8.2" y1="69.5" x2="8.2" y2="71.0" stroke="#555" stroke-width="0.8"/>
<text x="8.2" y="76.0" font-size="4" fill="#8a8a8a" text-anchor="middle">0</text>
<line x1="16.0" y1="69.5" x2="16.0" y2="71.0" stroke="#555" stroke-width="0.8"/>
<text x="16.0" y="76.0" font-size="4" fill="#8a8a8a" text-anchor="middle">10²</text>
<line x1="34.9" y1="69.5" x2="34.9" y2="71.0" stroke="#555" stroke-width="0.8"/>
<text x="34.9" y="76.0" font-size="4" fill="#8a8a8a" text-anchor="middle">10³</text>
<line x1="53.0" y1="69.5" x2="53.0" y2="71.0" stroke="#555" stroke-width="0.8"/>
<text x="53.0" y="76.0" font-size="4" fill="#8a8a8a" text-anchor="middle">10⁴</text>
<line x1="70.3" y1="69.5" x2="70.3" y2="71.0" stroke="#555" stroke-width="0.8"/>
<text x="70.3" y="76.0" font-size="4" fill="#8a8a8a" text-anchor="middle">10⁵</text>
<rect x="42.90" y="17.10" width="18.00" height="18.30" fill="none" stroke="#3a3a3a" stroke-width="1"/>
<text x="40.70" y="22.90" font-size="10.5" text-anchor="end" stroke="#000" stroke-width="0.1">45.2</text>
</g>
<g transform="translate(389.90 683.00)">
<clipPath id="c35"><rect x="0" y="0" width="77.10" height="69.20"/></clipPath>
<g clip-path="url(#c35)">
<g transform="translate(-0.90 0.00)">
<g filter="url(#bl2)">
<path d="M49.4 70.2L48.1 70.1L46.7 69.1L45.6 67.2L44.6 64.5L41.9 52.2L40.9 45.8L40.7 42.5L41.2 36.8L38.5 31.5L37.8 27.8L38 25.5L38.7 22.8L39.8 20.2L41.3 17.8L43.1 15.9L44.7 14.8L46.7 14L48.7 13.7L51.4 14.1L54.1 15.4L56.2 17.5L57.9 20.2L58.9 23.2L59.2 25.8L58.6 33.2L60.6 38.2L61.2 41.8L60.6 46.2L56.1 54.7L52.5 66.5L51.1 69.1L49.4 70.2Z" fill="url(#p1)" fill-rule="evenodd"/>
<path d="M49.4 64.9L48.1 64.7L46.9 63.2L43.9 54.2L42 44.2L42 41.5L42.6 36.5L39.8 31.2L39.1 27.5L39.3 25.2L39.9 22.8L41 20.5L42.3 18.5L43.7 17.1L45.4 15.9L48.7 15.1L51.1 15.4L53.4 16.6L55.4 18.5L57 21.2L57.8 23.8L58.1 26.5L57.2 33.5L59.4 38.5L60 41.8L59.8 44.2L59 46.8L55.1 53.3L51.1 62.9L50.3 64.2L49.4 64.9Z" fill="url(#p2)" fill-rule="evenodd"/>
<path d="M49.4 58.6L48.4 58.5L47.1 57.1L45.7 54.6L44.6 51.5L43.5 47.2L43 43.5L43.1 40.8L44 36.2L40.9 30.8L40.2 27.5L40.9 23.2L42.9 19.5L45.4 17.3L47.1 16.6L48.7 16.3L51.1 16.7L53.1 17.8L54.8 19.5L56.3 22.2L56.9 24.5L57.1 26.8L55.9 33.8L58.3 38.5L58.9 41.8L58.6 44.5L57.6 47.2L51.4 56.7L50.4 57.9L49.4 58.6Z" fill="url(#p3)" fill-rule="evenodd"/>
</g><g filter="url(#bl)">
<path d="M49.7 54.6L48.4 54.5L47.3 53.5L46.1 51.3L44.9 48.2L44.2 45.2L44 42.5L45.3 35.8L44.9 34.8L42.2 31.2L41.5 29.5L41.2 27.5L41.7 23.8L43.4 20.5L45.7 18.3L48.7 17.5L50.7 17.7L52.7 18.8L54.3 20.5L55.6 22.8L56.1 25.2L56.2 27.5L54.5 33.8L54.8 34.8L57.2 38.5L57.9 41.8L57.5 44.8L56.2 47.5L51.4 53.4L49.7 54.6Z" fill="#4262fa" fill-rule="evenodd"/>
<path d="M49.7 51.9L48.4 51.5L47.4 50.6L45.4 46.5L44.9 43.8L44.9 41.5L45.4 39.5L46.7 36.5L46.7 35.5L43 30.8L42.3 29.2L42.1 27.2L42.6 23.8L44 21.2L46.1 19.2L48.7 18.4L50.7 18.8L52.4 19.7L53.8 21.2L54.8 23.2L55.3 25.5L55.3 28.2L53.1 34.2L53.4 35.2L56.1 38.5L56.8 40.2L57 41.8L56.6 44.5L55.3 47.2L52.1 50.5L49.7 51.9Z" fill="#2848f6" fill-rule="evenodd"/>
<path d="M50.1 32.9L48.1 32.9L46.1 31.9L44.5 30.2L43.7 27.8L43.8 25.2L44.7 22.8L46.4 21L48.4 20.3L50.4 20.5L51.9 21.5L53.1 23.2L53.9 25.5L53.8 27.8L53.2 29.8L51.7 31.8L50.1 32.9ZM50.1 48.2L48.7 47.7L47.4 46.2L46.7 44.2L46.6 42.2L47 40.2L48.1 38.4L49.4 37.3L51.1 37L52.7 37.6L54.2 38.8L55.1 40.5L55.3 42.5L54.8 44.5L53.7 46.2L51.7 47.8L50.1 48.2Z" fill="#2a78ff" fill-rule="evenodd"/>
<path d="M50.1 32.2L48.4 32.4L46.4 31.6L44.8 29.8L44.1 27.8L44.1 25.5L45 23.2L46.4 21.6L48.4 20.8L50.1 20.9L51.7 22L52.8 23.5L53.5 25.5L53.5 27.5L52.9 29.5L51.7 31.2L50.1 32.2ZM51.4 47.2L50.1 47.4L48.7 46.8L47.6 45.2L47.1 43.2L47.2 41.2L47.9 39.5L49.1 38.3L50.7 37.7L52.1 37.9L53.5 38.8L54.4 40.2L54.8 41.8L54.6 43.5L53.8 45.2L52.7 46.4L51.4 47.2Z" fill="#30b6f2" fill-rule="evenodd"/>
<path d="M49.4 31.9L47.7 31.8L46.1 30.8L44.9 29.2L44.4 27.2L44.6 25.2L45.5 23.2L47.1 21.7L48.7 21.2L50.4 21.6L51.7 22.6L52.7 24.2L53.1 26.2L52.9 28.2L52.2 29.8L51 31.2L49.4 31.9ZM51.1 46.6L49.7 46.5L48.7 45.9L47.9 44.5L47.5 42.8L47.7 41.2L48.4 39.8L49.4 38.8L50.7 38.3L52.1 38.5L53.1 39.2L54 40.5L54.3 41.8L54.1 43.5L53.5 44.8L52.4 45.9L51.1 46.6Z" fill="#4adcc0" fill-rule="evenodd"/>
<path d="M50.1 31.2L48.4 31.4L46.8 30.8L45.5 29.5L44.9 27.8L44.8 25.8L45.5 23.8L46.7 22.4L48.4 21.7L49.7 21.8L51.1 22.5L52.1 23.8L52.7 25.5L52.8 27.2L52.3 28.8L51.4 30.3L50.1 31.2ZM51.1 45.9L50.1 45.9L48.9 45.2L48.2 43.8L48 42.5L48.3 41.2L49 39.8L50.1 39.1L51.1 38.9L52.1 39.2L53.1 40L53.8 42.2L53.1 44.5L52.1 45.5L51.1 45.9Z" fill="#72e882" fill-rule="evenodd"/>
<path d="M49.7 30.5L48.4 30.6L47.1 30.1L46.1 29.1L45.5 27.5L45.5 25.8L46.1 24.2L47.1 23.1L48.4 22.5L49.7 22.6L50.8 23.2L51.7 24.5L52.1 25.8L52.1 27.5L51.6 28.8L50.7 29.9L49.7 30.5ZM51.1 44.6L49.7 44.2L49 42.5L49.6 40.8L51.1 40.1L52.3 40.8L52.8 42.2L52.4 43.6L51.1 44.6Z" fill="#b6f04a" fill-rule="evenodd"/>
<path d="M49.7 29.6L48.7 29.8L47.6 29.5L46.7 28.7L46.2 27.5L46.1 26.2L46.5 24.8L47.4 23.8L48.4 23.3L49.4 23.4L50.3 23.8L51.1 24.8L51.4 25.8L51.1 28.2L49.7 29.6Z" fill="#eee631" fill-rule="evenodd"/>
<path d="M49.1 28.9L47.6 28.5L46.8 26.8L47.4 24.9L48.7 24.2L50.1 24.7L50.7 26.2L50.4 27.9L49.1 28.9Z" fill="#f4a228" fill-rule="evenodd"/>
<path d="M49.4 28L48.4 28.1L47.6 27.2L47.6 25.8L48.4 25L49.4 25.1L50 25.8L50.1 26.9L49.4 28Z" fill="#e6461a" fill-rule="evenodd"/>
</g></g>
</g>
<rect x="0" y="0" width="77.10" height="69.20" fill="none" stroke="#a4a4a4" stroke-width="1"/>
<path d="M0 0V69.20H77.10" fill="none" stroke="#7a7a7a" stroke-width="1"/>
<line x1="-1.5" y1="7.0" x2="0" y2="7.0" stroke="#555" stroke-width="0.8"/>
<text x="-2.5" y="8.3" font-size="4" fill="#8a8a8a" text-anchor="end">10⁵</text>
<line x1="-1.5" y1="22.4" x2="0" y2="22.4" stroke="#555" stroke-width="0.8"/>
<text x="-2.5" y="23.7" font-size="4" fill="#8a8a8a" text-anchor="end">10⁴</text>
<line x1="-1.5" y1="38.4" x2="0" y2="38.4" stroke="#555" stroke-width="0.8"/>
<text x="-2.5" y="39.7" font-size="4" fill="#8a8a8a" text-anchor="end">10³</text>
<line x1="-1.5" y1="55.0" x2="0" y2="55.0" stroke="#555" stroke-width="0.8"/>
<text x="-2.5" y="56.3" font-size="4" fill="#8a8a8a" text-anchor="end">10²</text>
<line x1="-1.5" y1="62.7" x2="0" y2="62.7" stroke="#555" stroke-width="0.8"/>
<text x="-2.5" y="64.0" font-size="4" fill="#8a8a8a" text-anchor="end">0</text>
<line x1="8.2" y1="69.2" x2="8.2" y2="70.7" stroke="#555" stroke-width="0.8"/>
<text x="8.2" y="75.7" font-size="4" fill="#8a8a8a" text-anchor="middle">0</text>
<line x1="16.0" y1="69.2" x2="16.0" y2="70.7" stroke="#555" stroke-width="0.8"/>
<text x="16.0" y="75.7" font-size="4" fill="#8a8a8a" text-anchor="middle">10²</text>
<line x1="34.9" y1="69.2" x2="34.9" y2="70.7" stroke="#555" stroke-width="0.8"/>
<text x="34.9" y="75.7" font-size="4" fill="#8a8a8a" text-anchor="middle">10³</text>
<line x1="53.0" y1="69.2" x2="53.0" y2="70.7" stroke="#555" stroke-width="0.8"/>
<text x="53.0" y="75.7" font-size="4" fill="#8a8a8a" text-anchor="middle">10⁴</text>
<line x1="70.3" y1="69.2" x2="70.3" y2="70.7" stroke="#555" stroke-width="0.8"/>
<text x="70.3" y="75.7" font-size="4" fill="#8a8a8a" text-anchor="middle">10⁵</text>
<rect x="41.40" y="17.10" width="18.00" height="17.80" fill="none" stroke="#3a3a3a" stroke-width="1"/>
<text x="39.20" y="22.90" font-size="10.5" text-anchor="end" stroke="#000" stroke-width="0.1">49</text>
</g>
<g transform="translate(492.70 683.00)">
<clipPath id="c36"><rect x="0" y="0" width="76.30" height="69.20"/></clipPath>
<g clip-path="url(#c36)">
<g transform="translate(-0.70 0.00)">
<g filter="url(#bl2)">
<path d="M49.9 70.2L48.5 70.1L47.2 69L46.2 67.5L45.3 65.2L42.4 52.5L41.4 46.5L41.1 42.8L41.5 37.2L40.9 35.8L38 31.5L37.2 29.5L37 27.5L37.1 25.2L37.8 22.5L39 19.5L40.3 17.5L41.9 15.7L43.5 14.4L45.9 13.4L47.9 13.1L50.5 13.4L53.2 14.8L55.4 16.8L57 19.5L58 22.2L58.4 24.8L58.1 32.2L61 37.5L61.8 41.5L61.7 43.8L61 46.5L56.5 55.1L53 66.5L51.5 69.1L49.9 70.2Z" fill="url(#p1)" fill-rule="evenodd"/>
<path d="M49.9 64.9L48.5 64.7L47.5 63.4L44.7 55.5L43.4 50.5L42.4 44.8L42.3 41.8L42.9 36.5L39.3 31.2L38.6 29.5L38.3 27.2L38.5 24.8L39 22.5L41.3 18.2L44.2 15.6L46.2 14.7L47.9 14.5L50.2 14.8L52.5 15.9L54.5 17.8L56 20.2L57 22.8L57.3 25.5L56.6 32.5L59.7 37.5L60.6 41.5L60.4 44.5L59.4 47.2L55.8 53.2L51.5 63L50.8 64.2L49.9 64.9Z" fill="url(#p2)" fill-rule="evenodd"/>
<path d="M50.2 58.7L49.2 58.8L47.9 57.8L46.5 55.6L45.4 52.8L44 47.8L43.4 43.8L43.5 41.2L44.3 36.2L43.8 35.2L40.6 31.2L39.7 29.2L39.4 27.2L40.1 22.8L41.9 19.2L44.5 16.7L46.2 16L47.9 15.7L50.2 16.1L52.2 17.1L54 18.8L55.3 21.2L56.1 23.5L56.3 26.2L55.2 32.8L55.6 33.8L58.4 37.5L59.1 39.2L59.5 41.5L59.2 44.5L58 47.5L52.2 56.6L50.2 58.7Z" fill="url(#p3)" fill-rule="evenodd"/>
</g><g filter="url(#bl)">
<path d="M50.2 55L48.9 54.8L47.9 54L45.8 49.8L44.6 45.8L44.3 42.8L44.6 40.5L45.8 35.8L45.2 34.8L41.7 31.2L40.8 29.2L40.4 27.2L40.7 23.8L42.4 20.2L44.9 17.8L47.5 16.9L49.5 17L51.5 17.9L53.2 19.5L54.5 21.5L55.2 23.8L55.4 26.5L55 28.8L53.7 33.2L54.2 34.2L57.5 37.8L58.2 39.5L58.5 41.5L58.3 44.2L57.1 47.2L52.2 53.4L50.2 55Z" fill="#4262fa" fill-rule="evenodd"/>
<path d="M50.5 52.2L49.2 52.1L47.7 50.8L46.3 48.2L45.4 44.8L45.4 40.8L47.3 36.2L47.4 35.2L42.8 31.2L41.7 29.2L41.3 27.2L41.6 23.8L43 20.8L45.2 18.7L47.5 17.9L49.5 18L51.2 18.8L52.7 20.2L53.8 22.2L54.5 24.8L54.5 27.5L53.9 29.5L52.3 32.8L52.1 33.8L52.5 34.5L54.9 36.2L56.2 37.6L57.2 39.5L57.7 41.5L57.4 44.2L56.2 46.8L53.2 50.2L50.5 52.2Z" fill="#2848f6" fill-rule="evenodd"/>
<path d="M48.9 32.2L46.9 32.1L44.9 31L43.5 29.2L42.8 26.8L43 24.5L44 22.2L45.5 20.5L47.5 19.7L49.5 19.9L51.2 21L52.5 22.8L53.1 25.2L53 27.5L52 29.8L50.5 31.5L48.9 32.2ZM50.9 48.5L49.2 48.1L48 46.8L47 44.5L46.8 42.2L47.4 39.8L48.5 38.2L49.9 37.2L51.5 36.9L53.2 37.4L54.9 38.7L55.8 40.5L56 42.5L55.5 44.5L54.5 46.2L52.9 47.7L50.9 48.5Z" fill="#2a78ff" fill-rule="evenodd"/>
<path d="M49.2 31.6L47.2 31.7L45.4 30.8L44 29.2L43.3 27.2L43.3 24.8L44.2 22.5L45.8 20.8L47.5 20.2L49.2 20.3L50.9 21.3L52 22.8L52.7 24.8L52.6 27.2L51.9 29.2L50.9 30.6L49.2 31.6ZM51.9 47.5L50.2 47.7L48.9 46.9L47.8 45.2L47.3 43.2L47.5 41.2L48.2 39.4L49.5 38.1L51.2 37.5L52.9 37.8L54.2 38.7L55.2 40.2L55.5 41.8L55.4 43.5L54.7 45.2L53.5 46.5L51.9 47.5Z" fill="#30b6f2" fill-rule="evenodd"/>
<path d="M48.5 31.2L46.9 31.1L45.2 30.1L44.1 28.5L43.6 26.5L43.8 24.5L44.7 22.5L46.2 21.1L47.9 20.6L49.5 20.9L50.9 21.9L51.9 23.5L52.3 25.5L52.2 27.5L51.5 29.2L50.2 30.5L48.5 31.2ZM51.9 46.9L50.5 47L49.2 46.3L48.2 44.9L47.8 43.2L47.9 41.5L48.5 39.8L49.9 38.5L51.2 38.1L52.5 38.2L53.9 39.1L54.6 40.2L55.1 41.8L54.9 43.5L54.3 44.8L53.2 46.1L51.9 46.9Z" fill="#4adcc0" fill-rule="evenodd"/>
<path d="M49.2 30.6L47.5 30.8L45.9 30.2L44.7 28.8L44 27.2L44 25.2L44.7 23.2L45.9 21.8L47.5 21.1L48.9 21.1L50.2 21.8L51.3 23.2L51.9 24.8L51.9 26.8L51.4 28.5L50.5 29.7L49.2 30.6ZM51.9 46.3L50.5 46.4L49.5 45.8L48.7 44.8L48.2 43.2L48.3 41.5L48.9 40.2L49.9 39.1L51.2 38.6L52.5 38.8L53.5 39.4L54.3 40.5L54.6 41.8L54.5 43.2L54 44.5L53.1 45.5L51.9 46.3Z" fill="#72e882" fill-rule="evenodd"/>
<path d="M48.9 29.9L47.5 30L46.2 29.5L45.2 28.4L44.7 26.8L44.7 25.2L45.2 23.7L46.2 22.5L47.5 21.9L48.9 21.9L49.9 22.5L50.9 23.7L51.3 25.2L51.3 26.8L50.8 28.2L49.9 29.3L48.9 29.9ZM51.5 45.2L50.5 45.1L49.9 44.7L49.2 43.5L49.1 42.5L49.2 41.5L49.9 40.4L51.5 39.6L52.5 39.9L53.2 40.5L53.8 42.2L53.1 44.2L51.5 45.2Z" fill="#b6f04a" fill-rule="evenodd"/>
<path d="M48.2 29.2L47.2 29.1L46.2 28.4L45.6 27.5L45.3 26.2L46 23.8L46.9 23L47.9 22.7L48.9 22.8L49.9 23.6L50.4 24.5L50.7 25.8L50.5 27.2L49.9 28.2L49.2 28.8L48.2 29.2ZM51.5 43.6L50.9 43.5L50.4 42.5L50.7 41.5L51.5 41.1L52.2 41.5L52.5 42.2L52.2 43.1L51.5 43.6Z" fill="#eee631" fill-rule="evenodd"/>
<path d="M48.5 28.2L47.5 28.3L46.9 27.9L46.1 26.5L46.5 24.5L47.9 23.6L49.2 24L49.9 25.5L49.7 27.2L48.5 28.2Z" fill="#f4a228" fill-rule="evenodd"/>
<path d="M48.2 27.5L47.2 27.2L46.7 26.2L46.9 25.1L47.9 24.4L48.9 24.7L49.3 25.8L49.1 26.8L48.2 27.5Z" fill="#e6461a" fill-rule="evenodd"/>
</g></g>
</g>
<rect x="0" y="0" width="76.30" height="69.20" fill="none" stroke="#a4a4a4" stroke-width="1"/>
<path d="M0 0V69.20H76.30" fill="none" stroke="#7a7a7a" stroke-width="1"/>
<line x1="-1.5" y1="7.0" x2="0" y2="7.0" stroke="#555" stroke-width="0.8"/>
<text x="-2.5" y="8.3" font-size="4" fill="#8a8a8a" text-anchor="end">10⁵</text>
<line x1="-1.5" y1="22.4" x2="0" y2="22.4" stroke="#555" stroke-width="0.8"/>
<text x="-2.5" y="23.7" font-size="4" fill="#8a8a8a" text-anchor="end">10⁴</text>
<line x1="-1.5" y1="38.4" x2="0" y2="38.4" stroke="#555" stroke-width="0.8"/>
<text x="-2.5" y="39.7" font-size="4" fill="#8a8a8a" text-anchor="end">10³</text>
<line x1="-1.5" y1="55.0" x2="0" y2="55.0" stroke="#555" stroke-width="0.8"/>
<text x="-2.5" y="56.3" font-size="4" fill="#8a8a8a" text-anchor="end">10²</text>
<line x1="-1.5" y1="62.7" x2="0" y2="62.7" stroke="#555" stroke-width="0.8"/>
<text x="-2.5" y="64.0" font-size="4" fill="#8a8a8a" text-anchor="end">0</text>
<line x1="8.2" y1="69.2" x2="8.2" y2="70.7" stroke="#555" stroke-width="0.8"/>
<text x="8.2" y="75.7" font-size="4" fill="#8a8a8a" text-anchor="middle">0</text>
<line x1="16.0" y1="69.2" x2="16.0" y2="70.7" stroke="#555" stroke-width="0.8"/>
<text x="16.0" y="75.7" font-size="4" fill="#8a8a8a" text-anchor="middle">10²</text>
<line x1="34.9" y1="69.2" x2="34.9" y2="70.7" stroke="#555" stroke-width="0.8"/>
<text x="34.9" y="75.7" font-size="4" fill="#8a8a8a" text-anchor="middle">10³</text>
<line x1="53.0" y1="69.2" x2="53.0" y2="70.7" stroke="#555" stroke-width="0.8"/>
<text x="53.0" y="75.7" font-size="4" fill="#8a8a8a" text-anchor="middle">10⁴</text>
<line x1="70.3" y1="69.2" x2="70.3" y2="70.7" stroke="#555" stroke-width="0.8"/>
<text x="70.3" y="75.7" font-size="4" fill="#8a8a8a" text-anchor="middle">10⁵</text>
<rect x="41.40" y="16.90" width="18.00" height="18.00" fill="none" stroke="#3a3a3a" stroke-width="1"/>
<text x="39.20" y="22.70" font-size="10.5" text-anchor="end" stroke="#000" stroke-width="0.1">46.2</text>
</g>
</svg></body></html>
